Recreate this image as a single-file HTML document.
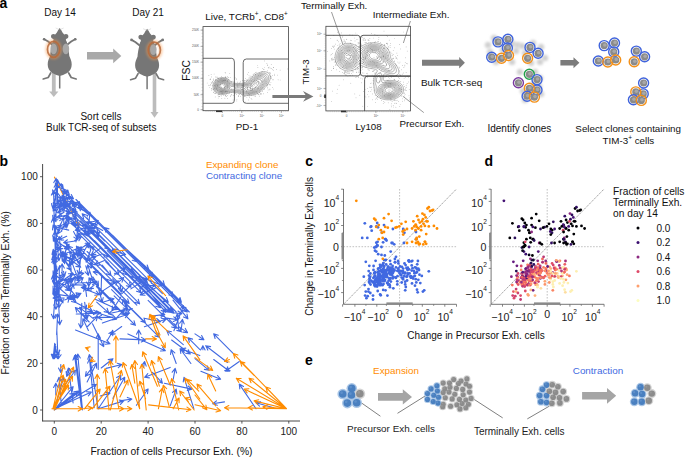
<!DOCTYPE html>
<html><head><meta charset="utf-8"><style>
html,body{margin:0;padding:0;background:#fff;}
svg{display:block;}
text{font-family:"Liberation Sans",sans-serif;}
</style></head><body>
<svg width="685" height="457" viewBox="0 0 685 457">
<defs><filter id="blur1" x="-50%" y="-50%" width="200%" height="200%"><feGaussianBlur stdDeviation="0.45"/></filter><filter id="blur2" x="-50%" y="-50%" width="200%" height="200%"><feGaussianBlur stdDeviation="1.1"/></filter></defs>
<rect width="685" height="457" fill="#fff"/>
<text x="-0.6" y="7.9" font-size="14" text-anchor="start" fill="#000" font-weight="bold">a</text>
<text x="60" y="16" font-size="10" text-anchor="middle" fill="#111">Day 14</text>
<text x="148" y="16" font-size="10" text-anchor="middle" fill="#111">Day 21</text>
<polygon points="51.9,57.0 51.9,91.5 49.2,91.5 53.8,97.0 58.4,91.5 55.7,91.5 55.7,57.0" fill="#b0b0b0" opacity="0.85"/>
<polygon points="152.7,58.0 152.7,112.0 150.5,112.0 154.5,117.8 158.5,112.0 156.3,112.0 156.3,58.0" fill="#b0b0b0" opacity="0.85"/>
<g transform="translate(59.7,28)"><path d="M-6.5,17.5 L-11.5,13.5 L-15.5,11.2 M6.5,17.5 L11.5,13.5 L15.5,11.2" stroke="#767676" stroke-width="1.9" fill="none" stroke-linecap="round"/><circle cx="-15.6" cy="11.2" r="1.3" fill="#767676"/><circle cx="15.6" cy="11.2" r="1.3" fill="#767676"/><path d="M-9,45 L-11.5,49.5 L-16.5,51 M9,45 L11.5,49.5 L16.5,51" stroke="#767676" stroke-width="1.7" fill="none" stroke-linecap="round" stroke-linejoin="round"/><path d="M0,46 L0,60.5" stroke="#767676" stroke-width="1.5"/><path d="M0,0 C1.2,1.5 2.2,3 2.8,4.5 L4.5,6.6 C6,5.6 8.6,6 8.7,8.2 C8.8,10.2 7.2,10.8 6.2,11 L6.3,12.5 C7.3,14 7.6,15 7.6,16.5 C8.6,20 9.3,24 9.6,28 C10.8,31 12,33 12,36.5 C12,40 10.5,43 7.5,45 C4.5,46.5 2,47.5 0,48 C-2,47.5 -4.5,46.5 -7.5,45 C-10.5,43 -12,40 -12,36.5 C-12,33 -10.8,31 -9.6,28 C-9.3,24 -8.6,20 -7.6,16.5 C-7.6,15 -7.3,14 -6.3,12.5 L-6.2,11 C-7.2,10.8 -8.8,10.2 -8.7,8.2 C-8.6,6 -6,5.6 -4.5,6.6 L-2.8,4.5 C-2.2,3 -1.2,1.5 0,0 Z" fill="#767676"/><path d="M-0.5,1.5 L-4,0 M0.5,1.5 L4,0" stroke="#c8c8c8" stroke-width="0.5"/><ellipse cx="-6" cy="20.9" rx="3.3" ry="5.4" fill="#a8a8a8"/><ellipse cx="6.2" cy="20.9" rx="3.3" ry="5.4" fill="#a8a8a8"/><ellipse cx="-6.1" cy="21.4" rx="6.6" ry="8.4" fill="none" stroke="#f59a50" stroke-width="3.6" opacity="0.45" filter="url(#blur2)"/><ellipse cx="-6.1" cy="21.4" rx="6.1" ry="8.0" fill="none" stroke="#b8693a" stroke-width="1.7" opacity="0.85" filter="url(#blur1)"/></g>
<g transform="translate(147.1,28.7)"><path d="M-6.5,17.5 L-11.5,13.5 L-15.5,11.2 M6.5,17.5 L11.5,13.5 L15.5,11.2" stroke="#767676" stroke-width="1.9" fill="none" stroke-linecap="round"/><circle cx="-15.6" cy="11.2" r="1.3" fill="#767676"/><circle cx="15.6" cy="11.2" r="1.3" fill="#767676"/><path d="M-9,45 L-11.5,49.5 L-16.5,51 M9,45 L11.5,49.5 L16.5,51" stroke="#767676" stroke-width="1.7" fill="none" stroke-linecap="round" stroke-linejoin="round"/><path d="M0,46 L0,60.5" stroke="#767676" stroke-width="1.5"/><path d="M0,0 C1.2,1.5 2.2,3 2.8,4.5 L4.5,6.6 C6,5.6 8.6,6 8.7,8.2 C8.8,10.2 7.2,10.8 6.2,11 L6.3,12.5 C7.3,14 7.6,15 7.6,16.5 C8.6,20 9.3,24 9.6,28 C10.8,31 12,33 12,36.5 C12,40 10.5,43 7.5,45 C4.5,46.5 2,47.5 0,48 C-2,47.5 -4.5,46.5 -7.5,45 C-10.5,43 -12,40 -12,36.5 C-12,33 -10.8,31 -9.6,28 C-9.3,24 -8.6,20 -7.6,16.5 C-7.6,15 -7.3,14 -6.3,12.5 L-6.2,11 C-7.2,10.8 -8.8,10.2 -8.7,8.2 C-8.6,6 -6,5.6 -4.5,6.6 L-2.8,4.5 C-2.2,3 -1.2,1.5 0,0 Z" fill="#767676"/><path d="M-0.5,1.5 L-4,0 M0.5,1.5 L4,0" stroke="#c8c8c8" stroke-width="0.5"/><ellipse cx="6.2" cy="20.9" rx="3.3" ry="5.4" fill="#a8a8a8"/><ellipse cx="7.2" cy="21.4" rx="6.6" ry="8.4" fill="none" stroke="#f59a50" stroke-width="3.6" opacity="0.45" filter="url(#blur2)"/><ellipse cx="7.2" cy="21.4" rx="6.1" ry="8.0" fill="none" stroke="#b8693a" stroke-width="1.7" opacity="0.85" filter="url(#blur1)"/></g>
<polygon points="87.0,52.1 113.2,52.1 113.2,48.5 121.3,55.9 113.2,63.2 113.2,59.6 87.0,59.6" fill="#a9a9a9"/>
<text x="101" y="119.6" font-size="10" text-anchor="middle" fill="#111">Sort cells</text>
<text x="101.2" y="130.9" font-size="10" text-anchor="middle" fill="#111">Bulk TCR-seq of subsets</text>
<rect x="203" y="26.6" width="85.5" height="84.1" fill="none" stroke="#444" stroke-width="0.8"/>
<text x="246.5" y="19.6" font-size="9.95" text-anchor="middle" fill="#111">Live, TCRb<tspan font-size="6.5" dy="-3.5">+</tspan><tspan dy="3.5">, CD8</tspan><tspan font-size="6.3" dy="-3.6">+</tspan></text>
<text x="189.6" y="70.4" font-size="10.4" text-anchor="middle" fill="#111" transform="rotate(-90 189.6 70.4)">FSC</text>
<text x="247" y="129.5" font-size="9.8" text-anchor="middle" fill="#111">PD-1</text>
<text x="199" y="31.1" font-size="3" text-anchor="end" fill="#555">250K</text>
<line x1="200.5" y1="30.1" x2="203" y2="30.1" stroke="#666" stroke-width="0.5"/>
<text x="199" y="47.4" font-size="3" text-anchor="end" fill="#555">200K</text>
<line x1="200.5" y1="46.4" x2="203" y2="46.4" stroke="#666" stroke-width="0.5"/>
<text x="199" y="63.2" font-size="3" text-anchor="end" fill="#555">150K</text>
<line x1="200.5" y1="62.2" x2="203" y2="62.2" stroke="#666" stroke-width="0.5"/>
<text x="199" y="79.3" font-size="3" text-anchor="end" fill="#555">100K</text>
<line x1="200.5" y1="78.3" x2="203" y2="78.3" stroke="#666" stroke-width="0.5"/>
<text x="199" y="95.7" font-size="3" text-anchor="end" fill="#555">50K</text>
<line x1="200.5" y1="94.7" x2="203" y2="94.7" stroke="#666" stroke-width="0.5"/>
<text x="199" y="110.7" font-size="3" text-anchor="end" fill="#555">0</text>
<line x1="200.5" y1="109.7" x2="203" y2="109.7" stroke="#666" stroke-width="0.5"/>
<line x1="201.5" y1="30.1" x2="203" y2="30.1" stroke="#888" stroke-width="0.3"/>
<line x1="201.5" y1="33.3" x2="203" y2="33.3" stroke="#888" stroke-width="0.3"/>
<line x1="201.5" y1="36.5" x2="203" y2="36.5" stroke="#888" stroke-width="0.3"/>
<line x1="201.5" y1="39.7" x2="203" y2="39.7" stroke="#888" stroke-width="0.3"/>
<line x1="201.5" y1="42.8" x2="203" y2="42.8" stroke="#888" stroke-width="0.3"/>
<line x1="201.5" y1="46.0" x2="203" y2="46.0" stroke="#888" stroke-width="0.3"/>
<line x1="201.5" y1="49.2" x2="203" y2="49.2" stroke="#888" stroke-width="0.3"/>
<line x1="201.5" y1="52.4" x2="203" y2="52.4" stroke="#888" stroke-width="0.3"/>
<line x1="201.5" y1="55.6" x2="203" y2="55.6" stroke="#888" stroke-width="0.3"/>
<line x1="201.5" y1="58.8" x2="203" y2="58.8" stroke="#888" stroke-width="0.3"/>
<line x1="201.5" y1="61.9" x2="203" y2="61.9" stroke="#888" stroke-width="0.3"/>
<line x1="201.5" y1="65.1" x2="203" y2="65.1" stroke="#888" stroke-width="0.3"/>
<line x1="201.5" y1="68.3" x2="203" y2="68.3" stroke="#888" stroke-width="0.3"/>
<line x1="201.5" y1="71.5" x2="203" y2="71.5" stroke="#888" stroke-width="0.3"/>
<line x1="201.5" y1="74.7" x2="203" y2="74.7" stroke="#888" stroke-width="0.3"/>
<line x1="201.5" y1="77.9" x2="203" y2="77.9" stroke="#888" stroke-width="0.3"/>
<line x1="201.5" y1="81.0" x2="203" y2="81.0" stroke="#888" stroke-width="0.3"/>
<line x1="201.5" y1="84.2" x2="203" y2="84.2" stroke="#888" stroke-width="0.3"/>
<line x1="201.5" y1="87.4" x2="203" y2="87.4" stroke="#888" stroke-width="0.3"/>
<line x1="201.5" y1="90.6" x2="203" y2="90.6" stroke="#888" stroke-width="0.3"/>
<line x1="201.5" y1="93.8" x2="203" y2="93.8" stroke="#888" stroke-width="0.3"/>
<line x1="201.5" y1="97.0" x2="203" y2="97.0" stroke="#888" stroke-width="0.3"/>
<line x1="201.5" y1="100.1" x2="203" y2="100.1" stroke="#888" stroke-width="0.3"/>
<line x1="201.5" y1="103.3" x2="203" y2="103.3" stroke="#888" stroke-width="0.3"/>
<line x1="201.5" y1="106.5" x2="203" y2="106.5" stroke="#888" stroke-width="0.3"/>
<line x1="201.5" y1="109.7" x2="203" y2="109.7" stroke="#888" stroke-width="0.3"/>
<text x="222.4" y="117" font-size="3" text-anchor="middle" fill="#555">0</text>
<line x1="222.4" y1="110.7" x2="222.4" y2="113" stroke="#666" stroke-width="0.5"/>
<text x="241.8" y="117" font-size="3" text-anchor="middle" fill="#555">10<tspan font-size="2" dy="-1">3</tspan></text>
<line x1="241.8" y1="110.7" x2="241.8" y2="113" stroke="#666" stroke-width="0.5"/>
<text x="261.9" y="117" font-size="3" text-anchor="middle" fill="#555">10<tspan font-size="2" dy="-1">4</tspan></text>
<line x1="261.9" y1="110.7" x2="261.9" y2="113" stroke="#666" stroke-width="0.5"/>
<text x="281.3" y="117" font-size="3" text-anchor="middle" fill="#555">10<tspan font-size="2" dy="-1">5</tspan></text>
<line x1="281.3" y1="110.7" x2="281.3" y2="113" stroke="#666" stroke-width="0.5"/>
<line x1="206.0" y1="110.7" x2="206.0" y2="112" stroke="#888" stroke-width="0.3"/>
<line x1="208.1" y1="110.7" x2="208.1" y2="112" stroke="#888" stroke-width="0.3"/>
<line x1="210.2" y1="110.7" x2="210.2" y2="112" stroke="#888" stroke-width="0.3"/>
<line x1="212.3" y1="110.7" x2="212.3" y2="112" stroke="#888" stroke-width="0.3"/>
<line x1="214.4" y1="110.7" x2="214.4" y2="112" stroke="#888" stroke-width="0.3"/>
<line x1="216.5" y1="110.7" x2="216.5" y2="112" stroke="#888" stroke-width="0.3"/>
<line x1="218.6" y1="110.7" x2="218.6" y2="112" stroke="#888" stroke-width="0.3"/>
<line x1="220.7" y1="110.7" x2="220.7" y2="112" stroke="#888" stroke-width="0.3"/>
<line x1="222.8" y1="110.7" x2="222.8" y2="112" stroke="#888" stroke-width="0.3"/>
<line x1="224.9" y1="110.7" x2="224.9" y2="112" stroke="#888" stroke-width="0.3"/>
<line x1="227.0" y1="110.7" x2="227.0" y2="112" stroke="#888" stroke-width="0.3"/>
<line x1="229.1" y1="110.7" x2="229.1" y2="112" stroke="#888" stroke-width="0.3"/>
<line x1="231.2" y1="110.7" x2="231.2" y2="112" stroke="#888" stroke-width="0.3"/>
<line x1="233.3" y1="110.7" x2="233.3" y2="112" stroke="#888" stroke-width="0.3"/>
<line x1="235.4" y1="110.7" x2="235.4" y2="112" stroke="#888" stroke-width="0.3"/>
<line x1="237.5" y1="110.7" x2="237.5" y2="112" stroke="#888" stroke-width="0.3"/>
<line x1="239.6" y1="110.7" x2="239.6" y2="112" stroke="#888" stroke-width="0.3"/>
<line x1="241.7" y1="110.7" x2="241.7" y2="112" stroke="#888" stroke-width="0.3"/>
<line x1="243.8" y1="110.7" x2="243.8" y2="112" stroke="#888" stroke-width="0.3"/>
<line x1="245.9" y1="110.7" x2="245.9" y2="112" stroke="#888" stroke-width="0.3"/>
<line x1="248.0" y1="110.7" x2="248.0" y2="112" stroke="#888" stroke-width="0.3"/>
<line x1="250.1" y1="110.7" x2="250.1" y2="112" stroke="#888" stroke-width="0.3"/>
<line x1="252.2" y1="110.7" x2="252.2" y2="112" stroke="#888" stroke-width="0.3"/>
<line x1="254.3" y1="110.7" x2="254.3" y2="112" stroke="#888" stroke-width="0.3"/>
<line x1="256.4" y1="110.7" x2="256.4" y2="112" stroke="#888" stroke-width="0.3"/>
<line x1="258.5" y1="110.7" x2="258.5" y2="112" stroke="#888" stroke-width="0.3"/>
<line x1="260.6" y1="110.7" x2="260.6" y2="112" stroke="#888" stroke-width="0.3"/>
<line x1="262.7" y1="110.7" x2="262.7" y2="112" stroke="#888" stroke-width="0.3"/>
<line x1="264.8" y1="110.7" x2="264.8" y2="112" stroke="#888" stroke-width="0.3"/>
<line x1="266.9" y1="110.7" x2="266.9" y2="112" stroke="#888" stroke-width="0.3"/>
<line x1="269.0" y1="110.7" x2="269.0" y2="112" stroke="#888" stroke-width="0.3"/>
<line x1="271.1" y1="110.7" x2="271.1" y2="112" stroke="#888" stroke-width="0.3"/>
<line x1="273.2" y1="110.7" x2="273.2" y2="112" stroke="#888" stroke-width="0.3"/>
<line x1="275.3" y1="110.7" x2="275.3" y2="112" stroke="#888" stroke-width="0.3"/>
<line x1="277.4" y1="110.7" x2="277.4" y2="112" stroke="#888" stroke-width="0.3"/>
<line x1="279.5" y1="110.7" x2="279.5" y2="112" stroke="#888" stroke-width="0.3"/>
<line x1="281.6" y1="110.7" x2="281.6" y2="112" stroke="#888" stroke-width="0.3"/>
<line x1="283.7" y1="110.7" x2="283.7" y2="112" stroke="#888" stroke-width="0.3"/>
<line x1="285.8" y1="110.7" x2="285.8" y2="112" stroke="#888" stroke-width="0.3"/>
<line x1="287.9" y1="110.7" x2="287.9" y2="112" stroke="#888" stroke-width="0.3"/>
<rect x="216" y="110.5" width="6" height="1.6" fill="#333"/>
<circle cx="233.4" cy="82.5" r="0.33" fill="#777"/><circle cx="229.2" cy="87.0" r="0.33" fill="#777"/><circle cx="221.0" cy="78.6" r="0.33" fill="#777"/><circle cx="263.9" cy="69.3" r="0.33" fill="#777"/><circle cx="262.4" cy="87.2" r="0.33" fill="#777"/><circle cx="250.8" cy="76.1" r="0.33" fill="#777"/><circle cx="225.7" cy="91.7" r="0.33" fill="#777"/><circle cx="255.8" cy="72.6" r="0.33" fill="#777"/><circle cx="251.8" cy="86.1" r="0.33" fill="#777"/><circle cx="218.2" cy="98.0" r="0.33" fill="#777"/><circle cx="258.4" cy="94.7" r="0.33" fill="#777"/><circle cx="268.1" cy="73.0" r="0.33" fill="#777"/><circle cx="217.8" cy="77.9" r="0.33" fill="#777"/><circle cx="226.6" cy="93.9" r="0.33" fill="#777"/><circle cx="236.8" cy="101.0" r="0.33" fill="#777"/><circle cx="240.5" cy="93.7" r="0.33" fill="#777"/><circle cx="227.4" cy="81.2" r="0.33" fill="#777"/><circle cx="227.9" cy="82.1" r="0.33" fill="#777"/><circle cx="249.1" cy="96.1" r="0.33" fill="#777"/><circle cx="222.4" cy="83.8" r="0.33" fill="#777"/><circle cx="211.4" cy="76.9" r="0.33" fill="#777"/><circle cx="218.2" cy="94.5" r="0.33" fill="#777"/><circle cx="277.3" cy="75.1" r="0.33" fill="#777"/><circle cx="225.1" cy="72.3" r="0.33" fill="#777"/><circle cx="231.9" cy="95.0" r="0.33" fill="#777"/><circle cx="243.5" cy="80.9" r="0.33" fill="#777"/><circle cx="234.5" cy="87.8" r="0.33" fill="#777"/><circle cx="267.6" cy="64.9" r="0.33" fill="#777"/><circle cx="280.1" cy="70.1" r="0.33" fill="#777"/><circle cx="251.6" cy="83.8" r="0.33" fill="#777"/><circle cx="251.7" cy="80.7" r="0.33" fill="#777"/><circle cx="221.2" cy="88.2" r="0.33" fill="#777"/><circle cx="218.6" cy="78.2" r="0.33" fill="#777"/><circle cx="236.6" cy="94.4" r="0.33" fill="#777"/><circle cx="214.9" cy="91.0" r="0.33" fill="#777"/><circle cx="258.4" cy="75.3" r="0.33" fill="#777"/><circle cx="238.7" cy="95.3" r="0.33" fill="#777"/><circle cx="249.0" cy="75.5" r="0.33" fill="#777"/><circle cx="267.3" cy="70.8" r="0.33" fill="#777"/><circle cx="253.1" cy="74.3" r="0.33" fill="#777"/><circle cx="209.5" cy="85.5" r="0.33" fill="#777"/><circle cx="225.5" cy="95.7" r="0.33" fill="#777"/><circle cx="248.6" cy="78.0" r="0.33" fill="#777"/><circle cx="225.2" cy="76.7" r="0.33" fill="#777"/><circle cx="224.9" cy="98.2" r="0.33" fill="#777"/><circle cx="257.9" cy="81.3" r="0.33" fill="#777"/><circle cx="229.3" cy="88.2" r="0.33" fill="#777"/><circle cx="256.5" cy="91.6" r="0.33" fill="#777"/><circle cx="252.4" cy="89.8" r="0.33" fill="#777"/><circle cx="217.2" cy="90.2" r="0.33" fill="#777"/><circle cx="219.4" cy="87.7" r="0.33" fill="#777"/><circle cx="255.1" cy="79.8" r="0.33" fill="#777"/><circle cx="231.7" cy="81.4" r="0.33" fill="#777"/><circle cx="236.9" cy="99.8" r="0.33" fill="#777"/><circle cx="244.5" cy="81.0" r="0.33" fill="#777"/><circle cx="261.0" cy="94.2" r="0.33" fill="#777"/><circle cx="221.5" cy="87.6" r="0.33" fill="#777"/><circle cx="263.6" cy="81.0" r="0.33" fill="#777"/><circle cx="269.2" cy="67.0" r="0.33" fill="#777"/><circle cx="240.0" cy="82.7" r="0.33" fill="#777"/><circle cx="251.9" cy="99.5" r="0.33" fill="#777"/><circle cx="252.8" cy="91.0" r="0.33" fill="#777"/><circle cx="252.7" cy="88.8" r="0.33" fill="#777"/><circle cx="270.1" cy="84.9" r="0.33" fill="#777"/><circle cx="215.4" cy="92.9" r="0.33" fill="#777"/><circle cx="260.9" cy="94.1" r="0.33" fill="#777"/><circle cx="262.8" cy="68.3" r="0.33" fill="#777"/><circle cx="245.0" cy="84.6" r="0.33" fill="#777"/><circle cx="249.6" cy="77.1" r="0.33" fill="#777"/><circle cx="248.5" cy="72.3" r="0.33" fill="#777"/><circle cx="257.9" cy="67.7" r="0.33" fill="#777"/><circle cx="241.5" cy="87.2" r="0.33" fill="#777"/><circle cx="211.1" cy="74.3" r="0.33" fill="#777"/><circle cx="247.6" cy="84.9" r="0.33" fill="#777"/><circle cx="250.9" cy="85.2" r="0.33" fill="#777"/><circle cx="209.3" cy="87.5" r="0.33" fill="#777"/><circle cx="246.3" cy="81.2" r="0.33" fill="#777"/><circle cx="208.9" cy="75.7" r="0.33" fill="#777"/><circle cx="250.1" cy="87.4" r="0.33" fill="#777"/><circle cx="210.8" cy="85.5" r="0.33" fill="#777"/><circle cx="221.8" cy="86.1" r="0.33" fill="#777"/><circle cx="271.2" cy="64.4" r="0.33" fill="#777"/><circle cx="219.8" cy="84.1" r="0.33" fill="#777"/><circle cx="244.5" cy="83.5" r="0.33" fill="#777"/><circle cx="212.3" cy="81.9" r="0.33" fill="#777"/><circle cx="217.8" cy="85.6" r="0.33" fill="#777"/><circle cx="221.2" cy="83.5" r="0.33" fill="#777"/><circle cx="255.3" cy="96.7" r="0.33" fill="#777"/><circle cx="256.5" cy="83.3" r="0.33" fill="#777"/><circle cx="246.8" cy="91.7" r="0.33" fill="#777"/><circle cx="227.6" cy="93.0" r="0.33" fill="#777"/><circle cx="219.8" cy="94.5" r="0.33" fill="#777"/><circle cx="217.2" cy="77.0" r="0.33" fill="#777"/><circle cx="258.9" cy="81.7" r="0.33" fill="#777"/><circle cx="215.2" cy="96.9" r="0.33" fill="#777"/><circle cx="240.5" cy="88.7" r="0.33" fill="#777"/><circle cx="247.0" cy="80.6" r="0.33" fill="#777"/><circle cx="272.8" cy="69.4" r="0.33" fill="#777"/><circle cx="238.8" cy="93.8" r="0.33" fill="#777"/><circle cx="234.8" cy="82.7" r="0.33" fill="#777"/><circle cx="249.3" cy="83.5" r="0.33" fill="#777"/><circle cx="216.2" cy="89.3" r="0.33" fill="#777"/><circle cx="255.4" cy="95.0" r="0.33" fill="#777"/><circle cx="270.9" cy="76.4" r="0.33" fill="#777"/><circle cx="214.1" cy="74.0" r="0.33" fill="#777"/><circle cx="234.1" cy="86.8" r="0.33" fill="#777"/><circle cx="217.3" cy="80.5" r="0.33" fill="#777"/><circle cx="225.5" cy="80.6" r="0.33" fill="#777"/><circle cx="233.4" cy="95.3" r="0.33" fill="#777"/><circle cx="215.5" cy="93.6" r="0.33" fill="#777"/><circle cx="237.6" cy="86.8" r="0.33" fill="#777"/><circle cx="241.6" cy="85.0" r="0.33" fill="#777"/><circle cx="226.8" cy="91.2" r="0.33" fill="#777"/><circle cx="228.8" cy="79.7" r="0.33" fill="#777"/><circle cx="240.1" cy="109.0" r="0.33" fill="#777"/><circle cx="212.5" cy="85.5" r="0.33" fill="#777"/><circle cx="215.7" cy="79.5" r="0.33" fill="#777"/><circle cx="262.5" cy="81.0" r="0.33" fill="#777"/><circle cx="258.9" cy="94.7" r="0.33" fill="#777"/><circle cx="260.5" cy="75.6" r="0.33" fill="#777"/><circle cx="225.2" cy="95.7" r="0.33" fill="#777"/><circle cx="268.1" cy="89.9" r="0.33" fill="#777"/><circle cx="270.5" cy="73.5" r="0.33" fill="#777"/><circle cx="259.7" cy="96.1" r="0.33" fill="#777"/><circle cx="216.9" cy="81.0" r="0.33" fill="#777"/><circle cx="244.8" cy="82.1" r="0.33" fill="#777"/><circle cx="211.5" cy="88.7" r="0.33" fill="#777"/><circle cx="214.6" cy="88.6" r="0.33" fill="#777"/><circle cx="253.9" cy="95.0" r="0.33" fill="#777"/><circle cx="231.9" cy="86.4" r="0.33" fill="#777"/><circle cx="267.7" cy="85.4" r="0.33" fill="#777"/><circle cx="241.8" cy="89.2" r="0.33" fill="#777"/><circle cx="226.5" cy="96.7" r="0.33" fill="#777"/><circle cx="251.5" cy="90.6" r="0.33" fill="#777"/><circle cx="212.1" cy="82.8" r="0.33" fill="#777"/><circle cx="252.0" cy="76.2" r="0.33" fill="#777"/><circle cx="221.3" cy="76.7" r="0.33" fill="#777"/><circle cx="270.9" cy="82.5" r="0.33" fill="#777"/><circle cx="247.2" cy="95.3" r="0.33" fill="#777"/><circle cx="264.3" cy="67.5" r="0.33" fill="#777"/><circle cx="239.6" cy="94.0" r="0.33" fill="#777"/><circle cx="225.9" cy="91.4" r="0.33" fill="#777"/><circle cx="270.0" cy="84.8" r="0.33" fill="#777"/><circle cx="216.4" cy="88.6" r="0.33" fill="#777"/><circle cx="207.2" cy="83.0" r="0.33" fill="#777"/><circle cx="262.8" cy="84.7" r="0.33" fill="#777"/><circle cx="214.8" cy="93.4" r="0.33" fill="#777"/><circle cx="245.1" cy="80.6" r="0.33" fill="#777"/><circle cx="259.2" cy="73.2" r="0.33" fill="#777"/><circle cx="218.5" cy="94.4" r="0.33" fill="#777"/><circle cx="220.3" cy="91.2" r="0.33" fill="#777"/><circle cx="245.5" cy="78.3" r="0.33" fill="#777"/><circle cx="270.5" cy="76.2" r="0.33" fill="#777"/><circle cx="213.0" cy="89.2" r="0.33" fill="#777"/><circle cx="255.4" cy="87.7" r="0.33" fill="#777"/><circle cx="218.9" cy="81.3" r="0.33" fill="#777"/><circle cx="242.0" cy="89.9" r="0.33" fill="#777"/><circle cx="227.5" cy="95.6" r="0.33" fill="#777"/><circle cx="254.1" cy="92.0" r="0.33" fill="#777"/><circle cx="227.6" cy="98.3" r="0.33" fill="#777"/><circle cx="238.5" cy="96.5" r="0.33" fill="#777"/><circle cx="239.2" cy="94.7" r="0.33" fill="#777"/><circle cx="217.0" cy="84.7" r="0.33" fill="#777"/><circle cx="211.9" cy="88.8" r="0.33" fill="#777"/><circle cx="257.7" cy="93.1" r="0.33" fill="#777"/><circle cx="237.5" cy="84.9" r="0.33" fill="#777"/><circle cx="213.6" cy="92.7" r="0.33" fill="#777"/><circle cx="269.5" cy="72.7" r="0.33" fill="#777"/><circle cx="273.7" cy="67.7" r="0.33" fill="#777"/><circle cx="230.3" cy="96.7" r="0.33" fill="#777"/><circle cx="220.6" cy="88.0" r="0.33" fill="#777"/><circle cx="254.4" cy="81.0" r="0.33" fill="#777"/><circle cx="225.4" cy="77.6" r="0.33" fill="#777"/><circle cx="226.5" cy="77.9" r="0.33" fill="#777"/><circle cx="213.9" cy="89.6" r="0.33" fill="#777"/><circle cx="239.2" cy="83.5" r="0.33" fill="#777"/><circle cx="254.2" cy="96.0" r="0.33" fill="#777"/><circle cx="231.3" cy="89.5" r="0.33" fill="#777"/><circle cx="242.4" cy="80.6" r="0.33" fill="#777"/><circle cx="249.2" cy="87.6" r="0.33" fill="#777"/><circle cx="213.4" cy="80.7" r="0.33" fill="#777"/><circle cx="224.6" cy="87.3" r="0.33" fill="#777"/><circle cx="227.3" cy="85.9" r="0.33" fill="#777"/><circle cx="242.3" cy="85.8" r="0.33" fill="#777"/><circle cx="246.3" cy="79.9" r="0.33" fill="#777"/><circle cx="278.1" cy="79.8" r="0.33" fill="#777"/><circle cx="255.8" cy="87.7" r="0.33" fill="#777"/><circle cx="246.4" cy="84.0" r="0.33" fill="#777"/><circle cx="228.8" cy="93.8" r="0.33" fill="#777"/><circle cx="263.4" cy="93.8" r="0.33" fill="#777"/><circle cx="215.9" cy="79.2" r="0.33" fill="#777"/><circle cx="222.1" cy="93.3" r="0.33" fill="#777"/><circle cx="259.5" cy="90.9" r="0.33" fill="#777"/><circle cx="273.2" cy="70.3" r="0.33" fill="#777"/><circle cx="244.9" cy="96.4" r="0.33" fill="#777"/><circle cx="227.3" cy="80.6" r="0.33" fill="#777"/><circle cx="262.3" cy="91.7" r="0.33" fill="#777"/><circle cx="270.1" cy="68.1" r="0.33" fill="#777"/><circle cx="216.2" cy="77.1" r="0.33" fill="#777"/><circle cx="245.8" cy="102.0" r="0.33" fill="#777"/><circle cx="261.9" cy="88.6" r="0.33" fill="#777"/><circle cx="252.9" cy="81.1" r="0.33" fill="#777"/><circle cx="211.2" cy="82.5" r="0.33" fill="#777"/><circle cx="250.9" cy="84.2" r="0.33" fill="#777"/><circle cx="276.4" cy="69.3" r="0.33" fill="#777"/><circle cx="213.2" cy="79.5" r="0.33" fill="#777"/><circle cx="225.4" cy="73.0" r="0.33" fill="#777"/><circle cx="225.4" cy="86.3" r="0.33" fill="#777"/><circle cx="222.1" cy="92.0" r="0.33" fill="#777"/><circle cx="238.5" cy="96.2" r="0.33" fill="#777"/><circle cx="213.6" cy="92.0" r="0.33" fill="#777"/><circle cx="242.4" cy="87.8" r="0.33" fill="#777"/><circle cx="271.4" cy="68.3" r="0.33" fill="#777"/><circle cx="228.6" cy="77.5" r="0.33" fill="#777"/><circle cx="225.7" cy="77.3" r="0.33" fill="#777"/><circle cx="242.7" cy="89.7" r="0.33" fill="#777"/><circle cx="219.5" cy="96.6" r="0.33" fill="#777"/><circle cx="226.2" cy="83.8" r="0.33" fill="#777"/><circle cx="250.4" cy="89.0" r="0.33" fill="#777"/><circle cx="247.1" cy="87.9" r="0.33" fill="#777"/><circle cx="267.5" cy="92.6" r="0.33" fill="#777"/><circle cx="233.1" cy="99.9" r="0.33" fill="#777"/><circle cx="230.0" cy="83.2" r="0.33" fill="#777"/><circle cx="213.2" cy="89.9" r="0.33" fill="#777"/><circle cx="211.7" cy="83.2" r="0.33" fill="#777"/><circle cx="224.8" cy="84.0" r="0.33" fill="#777"/><circle cx="220.3" cy="84.7" r="0.33" fill="#777"/><circle cx="235.6" cy="90.0" r="0.33" fill="#777"/><circle cx="210.4" cy="78.9" r="0.33" fill="#777"/><circle cx="262.7" cy="81.9" r="0.33" fill="#777"/><circle cx="213.7" cy="78.9" r="0.33" fill="#777"/><circle cx="268.6" cy="67.8" r="0.33" fill="#777"/><circle cx="215.3" cy="80.7" r="0.33" fill="#777"/><circle cx="244.2" cy="88.6" r="0.33" fill="#777"/><circle cx="269.8" cy="75.1" r="0.33" fill="#777"/><circle cx="259.7" cy="92.4" r="0.33" fill="#777"/><circle cx="264.2" cy="72.0" r="0.33" fill="#777"/><circle cx="255.3" cy="74.8" r="0.33" fill="#777"/><circle cx="272.3" cy="75.3" r="0.33" fill="#777"/><circle cx="264.4" cy="60.9" r="0.33" fill="#777"/><circle cx="248.7" cy="99.9" r="0.33" fill="#777"/><circle cx="242.9" cy="85.2" r="0.33" fill="#777"/><circle cx="241.5" cy="94.3" r="0.33" fill="#777"/><circle cx="218.0" cy="78.5" r="0.33" fill="#777"/><circle cx="272.4" cy="79.8" r="0.33" fill="#777"/><circle cx="212.7" cy="81.6" r="0.33" fill="#777"/><circle cx="269.5" cy="84.7" r="0.33" fill="#777"/><circle cx="230.2" cy="77.3" r="0.33" fill="#777"/><circle cx="218.3" cy="96.5" r="0.33" fill="#777"/><circle cx="270.2" cy="72.9" r="0.33" fill="#777"/><circle cx="221.0" cy="95.1" r="0.33" fill="#777"/><circle cx="232.8" cy="81.2" r="0.33" fill="#777"/><circle cx="258.9" cy="82.0" r="0.33" fill="#777"/><circle cx="253.3" cy="81.4" r="0.33" fill="#777"/><circle cx="272.3" cy="87.3" r="0.33" fill="#777"/><circle cx="215.5" cy="82.1" r="0.33" fill="#777"/><circle cx="268.2" cy="67.8" r="0.33" fill="#777"/><circle cx="219.6" cy="94.1" r="0.33" fill="#777"/><circle cx="240.3" cy="81.2" r="0.33" fill="#777"/><circle cx="253.0" cy="86.6" r="0.33" fill="#777"/><circle cx="210.0" cy="79.6" r="0.33" fill="#777"/><circle cx="257.7" cy="93.9" r="0.33" fill="#777"/><circle cx="211.6" cy="90.1" r="0.33" fill="#777"/><circle cx="271.6" cy="77.1" r="0.33" fill="#777"/><circle cx="252.3" cy="87.1" r="0.33" fill="#777"/><circle cx="261.4" cy="71.9" r="0.33" fill="#777"/><circle cx="231.4" cy="94.4" r="0.33" fill="#777"/><circle cx="267.6" cy="88.0" r="0.33" fill="#777"/><circle cx="254.6" cy="73.3" r="0.33" fill="#777"/><circle cx="270.5" cy="78.1" r="0.33" fill="#777"/><circle cx="256.2" cy="80.7" r="0.33" fill="#777"/><circle cx="214.3" cy="91.8" r="0.33" fill="#777"/><circle cx="214.6" cy="85.3" r="0.33" fill="#777"/><circle cx="247.1" cy="87.2" r="0.33" fill="#777"/><circle cx="273.5" cy="79.8" r="0.33" fill="#777"/><circle cx="235.1" cy="77.9" r="0.33" fill="#777"/><circle cx="236.7" cy="78.8" r="0.33" fill="#777"/><circle cx="242.3" cy="88.5" r="0.33" fill="#777"/><circle cx="243.2" cy="100.9" r="0.33" fill="#777"/><circle cx="260.4" cy="87.0" r="0.33" fill="#777"/><circle cx="267.8" cy="87.1" r="0.33" fill="#777"/><circle cx="254.6" cy="85.1" r="0.33" fill="#777"/><circle cx="229.7" cy="92.5" r="0.33" fill="#777"/><circle cx="244.5" cy="82.5" r="0.33" fill="#777"/><circle cx="257.2" cy="78.7" r="0.33" fill="#777"/><circle cx="229.1" cy="91.8" r="0.33" fill="#777"/><circle cx="255.6" cy="74.3" r="0.33" fill="#777"/><circle cx="234.0" cy="81.7" r="0.33" fill="#777"/><circle cx="216.2" cy="93.2" r="0.33" fill="#777"/><circle cx="271.7" cy="78.6" r="0.33" fill="#777"/><circle cx="223.2" cy="85.6" r="0.33" fill="#777"/><circle cx="249.6" cy="97.3" r="0.33" fill="#777"/><circle cx="249.2" cy="94.4" r="0.33" fill="#777"/><circle cx="237.4" cy="82.1" r="0.33" fill="#777"/><circle cx="227.8" cy="91.7" r="0.33" fill="#777"/><circle cx="229.8" cy="93.6" r="0.33" fill="#777"/><circle cx="248.6" cy="93.4" r="0.33" fill="#777"/><circle cx="223.8" cy="95.3" r="0.33" fill="#777"/><circle cx="250.3" cy="86.7" r="0.33" fill="#777"/><circle cx="247.7" cy="74.2" r="0.33" fill="#777"/><circle cx="252.4" cy="89.6" r="0.33" fill="#777"/><circle cx="210.7" cy="79.6" r="0.33" fill="#777"/><circle cx="274.7" cy="75.6" r="0.33" fill="#777"/><circle cx="266.4" cy="85.8" r="0.33" fill="#777"/><circle cx="260.8" cy="89.3" r="0.33" fill="#777"/><circle cx="258.4" cy="88.7" r="0.33" fill="#777"/><circle cx="247.8" cy="79.7" r="0.33" fill="#777"/><circle cx="280.2" cy="80.0" r="0.33" fill="#777"/><circle cx="208.6" cy="85.2" r="0.33" fill="#777"/><circle cx="257.7" cy="88.1" r="0.33" fill="#777"/><circle cx="219.1" cy="96.3" r="0.33" fill="#777"/><circle cx="254.5" cy="80.7" r="0.33" fill="#777"/><circle cx="221.8" cy="91.6" r="0.33" fill="#777"/><circle cx="256.1" cy="84.6" r="0.33" fill="#777"/><circle cx="257.7" cy="65.5" r="0.33" fill="#777"/><circle cx="260.6" cy="93.7" r="0.33" fill="#777"/><circle cx="251.8" cy="95.6" r="0.33" fill="#777"/><circle cx="269.9" cy="89.8" r="0.33" fill="#777"/><circle cx="236.2" cy="79.3" r="0.33" fill="#777"/><circle cx="227.2" cy="76.7" r="0.33" fill="#777"/><circle cx="259.0" cy="83.2" r="0.33" fill="#777"/><circle cx="274.5" cy="74.2" r="0.33" fill="#777"/><circle cx="231.1" cy="81.7" r="0.33" fill="#777"/><circle cx="256.3" cy="92.5" r="0.33" fill="#777"/><circle cx="218.0" cy="94.9" r="0.33" fill="#777"/><circle cx="242.6" cy="95.3" r="0.33" fill="#777"/><circle cx="261.6" cy="93.5" r="0.33" fill="#777"/><circle cx="234.6" cy="94.0" r="0.33" fill="#777"/><circle cx="244.4" cy="80.3" r="0.33" fill="#777"/><circle cx="244.7" cy="96.1" r="0.33" fill="#777"/><circle cx="224.6" cy="86.9" r="0.33" fill="#777"/><circle cx="287.3" cy="68.9" r="0.33" fill="#777"/><circle cx="254.3" cy="88.4" r="0.33" fill="#777"/><circle cx="215.5" cy="76.9" r="0.33" fill="#777"/><circle cx="240.7" cy="96.2" r="0.33" fill="#777"/><circle cx="224.9" cy="80.4" r="0.33" fill="#777"/><circle cx="229.8" cy="73.6" r="0.33" fill="#777"/><circle cx="247.6" cy="87.4" r="0.33" fill="#777"/><circle cx="246.9" cy="91.2" r="0.33" fill="#777"/><circle cx="268.8" cy="82.0" r="0.33" fill="#777"/><circle cx="225.9" cy="96.1" r="0.33" fill="#777"/><circle cx="263.9" cy="69.5" r="0.33" fill="#777"/><circle cx="228.0" cy="77.6" r="0.33" fill="#777"/><circle cx="273.3" cy="89.0" r="0.33" fill="#777"/><circle cx="251.1" cy="98.3" r="0.33" fill="#777"/><circle cx="225.0" cy="78.9" r="0.33" fill="#777"/><circle cx="245.5" cy="95.9" r="0.33" fill="#777"/><circle cx="260.5" cy="80.5" r="0.33" fill="#777"/><circle cx="256.1" cy="72.2" r="0.33" fill="#777"/><circle cx="238.0" cy="87.7" r="0.33" fill="#777"/><circle cx="235.7" cy="93.5" r="0.33" fill="#777"/><circle cx="234.2" cy="93.2" r="0.33" fill="#777"/><circle cx="246.9" cy="97.1" r="0.33" fill="#777"/><circle cx="268.4" cy="83.9" r="0.33" fill="#777"/><circle cx="227.6" cy="87.5" r="0.33" fill="#777"/><circle cx="266.9" cy="63.3" r="0.33" fill="#777"/><circle cx="267.3" cy="84.6" r="0.33" fill="#777"/><circle cx="248.0" cy="80.6" r="0.33" fill="#777"/><circle cx="244.3" cy="95.4" r="0.33" fill="#777"/><circle cx="264.5" cy="89.1" r="0.33" fill="#777"/><circle cx="230.8" cy="95.5" r="0.33" fill="#777"/><circle cx="231.1" cy="92.4" r="0.33" fill="#777"/><circle cx="221.8" cy="98.4" r="0.33" fill="#777"/><circle cx="269.9" cy="89.0" r="0.33" fill="#777"/><circle cx="247.6" cy="89.6" r="0.33" fill="#777"/><circle cx="250.8" cy="88.2" r="0.33" fill="#777"/><circle cx="221.2" cy="95.9" r="0.33" fill="#777"/><circle cx="250.3" cy="90.6" r="0.33" fill="#777"/><circle cx="220.4" cy="84.1" r="0.33" fill="#777"/><circle cx="224.9" cy="88.8" r="0.33" fill="#777"/><circle cx="262.6" cy="71.3" r="0.33" fill="#777"/><circle cx="253.7" cy="74.0" r="0.33" fill="#777"/><circle cx="223.2" cy="80.7" r="0.33" fill="#777"/><circle cx="267.5" cy="65.3" r="0.33" fill="#777"/><circle cx="266.7" cy="83.8" r="0.33" fill="#777"/><circle cx="229.5" cy="83.0" r="0.33" fill="#777"/><circle cx="210.7" cy="84.4" r="0.33" fill="#777"/><circle cx="273.7" cy="67.4" r="0.33" fill="#777"/><circle cx="246.2" cy="93.0" r="0.33" fill="#777"/><circle cx="240.7" cy="92.0" r="0.33" fill="#777"/><path d="M251.1,95.4L250.6,95.4L250.1,95.5L249.6,95.5L249.1,95.5L248.6,95.5L248.1,95.5L247.6,95.5L247.1,95.4L246.6,95.4L246.4,95.3L245.9,95.3L245.4,95.2L245.1,95.1L244.6,95.0L244.2,94.9L243.9,94.8L243.4,94.6L243.1,94.5L242.7,94.4L242.4,94.3L242.0,94.1L241.6,94.0L241.3,93.9L240.9,93.7L240.6,93.6L240.1,93.5L239.8,93.4L239.4,93.3L238.9,93.2L238.6,93.1L238.1,93.0L237.6,92.9L237.2,92.9L236.9,92.8L236.4,92.8L235.9,92.7L235.4,92.7L235.1,92.6L234.6,92.6L234.1,92.5L233.6,92.5L233.1,92.4L232.6,92.4L232.2,92.4L231.9,92.4L231.4,92.4L231.1,92.4L230.6,92.4L230.1,92.5L229.6,92.6L229.4,92.7L228.9,92.9L228.6,93.0L228.2,93.1L227.9,93.3L227.6,93.4L227.1,93.6L226.9,93.6L226.4,93.8L226.1,93.9L225.6,94.1L225.3,94.1L224.9,94.2L224.4,94.3L224.0,94.4L223.6,94.4L223.1,94.5L222.6,94.5L222.1,94.5L221.6,94.4L221.1,94.4L220.9,94.3L220.4,94.3L219.9,94.1L219.6,94.1L219.1,93.9L218.9,93.8L218.4,93.6L218.1,93.5L217.8,93.4L217.4,93.1L217.1,93.0L216.9,92.8L216.6,92.6L216.2,92.4L215.9,92.1L215.6,91.9L215.4,91.6L215.1,91.4L214.9,91.1L214.7,90.9L214.5,90.6L214.3,90.4L214.1,90.0L213.9,89.6L213.8,89.4L213.6,89.1L213.4,88.6L213.4,88.4L213.2,87.9L213.1,87.5L213.1,87.1L213.0,86.6L213.0,86.1L213.0,85.6L213.0,85.1L213.1,84.6L213.2,84.4L213.3,83.9L213.4,83.6L213.5,83.1L213.6,82.9L213.9,82.4L214.0,82.1L214.2,81.9L214.4,81.6L214.6,81.2L214.9,80.9L215.1,80.6L215.4,80.4L215.6,80.1L215.9,79.9L216.1,79.7L216.4,79.5L216.6,79.3L216.9,79.1L217.4,78.9L217.6,78.7L217.9,78.6L218.4,78.4L218.6,78.3L219.0,78.1L219.4,78.0L219.8,77.9L220.1,77.8L220.6,77.7L221.1,77.6L221.4,77.6L221.9,77.5L222.4,77.5L222.9,77.5L223.4,77.6L223.9,77.6L224.1,77.7L224.6,77.7L225.1,77.9L225.4,77.9L225.9,78.1L226.1,78.2L226.6,78.4L226.9,78.5L227.2,78.6L227.6,78.9L227.9,79.0L228.1,79.2L228.4,79.4L228.8,79.6L229.1,79.9L229.4,80.1L229.6,80.4L229.9,80.6L230.1,80.9L230.4,81.1L230.6,81.4L230.8,81.6L231.0,81.9L231.3,82.1L231.5,82.4L231.8,82.6L232.1,82.9L232.4,83.0L232.7,83.1L233.1,83.3L233.6,83.3L234.0,83.4L234.4,83.4L234.9,83.4L235.4,83.4L235.9,83.4L236.4,83.4L236.9,83.4L237.4,83.4L237.9,83.4L238.4,83.4L238.9,83.4L239.4,83.4L239.9,83.4L240.4,83.4L240.9,83.4L241.4,83.4L241.7,83.4L242.1,83.3L242.6,83.3L243.1,83.2L243.5,83.1L243.9,83.0L244.3,82.9L244.6,82.8L245.0,82.6L245.4,82.4L245.6,82.3L245.9,82.1L246.3,81.9L246.6,81.6L246.9,81.4L247.1,81.2L247.4,81.0L247.6,80.8L247.9,80.6L248.1,80.4L248.4,80.1L248.6,79.9L248.9,79.6L249.1,79.4L249.4,79.1L249.6,78.9L249.9,78.6L250.2,78.4L250.4,78.1L250.7,77.9L251.0,77.6L251.3,77.4L251.6,77.1L251.9,76.9L252.1,76.7L252.4,76.5L252.6,76.3L252.9,76.1L253.2,75.9L253.5,75.6L253.9,75.4L254.1,75.2L254.4,75.1L254.7,74.9L255.1,74.6L255.4,74.4L255.6,74.3L255.9,74.1L256.4,73.9L256.6,73.8L256.9,73.6L257.4,73.4L257.6,73.3L258.0,73.1L258.4,73.0L258.6,72.9L259.1,72.7L259.4,72.6L259.9,72.4L260.1,72.4L260.6,72.2L261.0,72.1L261.4,72.0L261.9,71.9L262.3,71.9L262.6,71.8L263.1,71.8L263.6,71.7L264.1,71.7L264.6,71.7L265.1,71.8L265.6,71.8L265.9,71.9L266.4,72.0L266.8,72.1L267.1,72.2L267.4,72.4L267.9,72.6L268.1,72.8L268.4,72.9L268.6,73.1L268.9,73.4L269.1,73.6L269.4,74.0L269.6,74.4L269.8,74.6L269.9,74.9L270.1,75.4L270.1,75.6L270.2,76.1L270.3,76.6L270.3,77.1L270.3,77.6L270.3,78.1L270.2,78.6L270.1,78.9L270.0,79.4L269.9,79.9L269.8,80.1L269.6,80.6L269.5,80.9L269.4,81.2L269.2,81.6L269.1,81.9L268.9,82.3L268.7,82.6L268.6,82.9L268.4,83.2L268.1,83.6L267.9,83.9L267.8,84.1L267.6,84.4L267.4,84.7L267.1,85.1L266.9,85.4L266.7,85.6L266.5,85.9L266.3,86.1L266.1,86.4L265.9,86.6L265.6,86.9L265.4,87.2L265.1,87.5L264.9,87.8L264.6,88.0L264.4,88.3L264.1,88.6L263.9,88.8L263.6,89.0L263.4,89.3L263.1,89.5L262.9,89.8L262.6,90.0L262.4,90.2L262.1,90.4L261.9,90.6L261.5,90.9L261.2,91.1L260.9,91.4L260.6,91.6L260.4,91.7L260.1,91.9L259.8,92.1L259.4,92.4L259.1,92.6L258.9,92.7L258.6,92.9L258.1,93.1L257.9,93.3L257.6,93.4L257.1,93.6L256.9,93.7L256.5,93.9L256.1,94.1L255.9,94.2L255.4,94.3L255.1,94.4L254.6,94.6L254.4,94.7L253.9,94.8L253.6,94.9L253.1,95.0L252.6,95.1L252.4,95.2L251.9,95.3L251.4,95.3L251.1,95.4 M250.9,94.4L250.4,94.4L249.9,94.5L249.4,94.5L248.9,94.5L248.4,94.5L247.9,94.4L247.4,94.4L247.1,94.4L246.6,94.3L246.1,94.2L245.8,94.1L245.4,94.0L244.9,93.9L244.6,93.8L244.1,93.7L243.9,93.6L243.4,93.4L243.1,93.3L242.6,93.1L242.4,93.1L241.9,92.9L241.6,92.8L241.1,92.6L240.9,92.6L240.4,92.4L240.1,92.4L239.6,92.3L239.1,92.2L238.9,92.1L238.4,92.1L237.9,92.0L237.4,91.9L236.9,91.9L236.6,91.9L236.1,91.8L235.6,91.8L235.1,91.7L234.6,91.7L234.3,91.6L233.9,91.6L233.4,91.5L232.9,91.5L232.4,91.4L231.9,91.4L231.6,91.4L231.1,91.4L230.9,91.4L230.4,91.5L229.9,91.5L229.6,91.6L229.1,91.8L228.8,91.9L228.4,92.1L228.1,92.2L227.6,92.4L227.4,92.5L227.0,92.6L226.6,92.8L226.4,92.9L225.9,93.1L225.6,93.1L225.1,93.3L224.7,93.4L224.4,93.4L223.9,93.5L223.4,93.6L222.9,93.6L222.4,93.6L221.9,93.6L221.4,93.5L220.9,93.5L220.5,93.4L220.1,93.3L219.6,93.1L219.4,93.1L218.9,92.9L218.6,92.8L218.3,92.6L217.9,92.4L217.6,92.2L217.4,92.1L217.1,91.9L216.8,91.6L216.5,91.4L216.2,91.1L216.0,90.9L215.7,90.6L215.5,90.4L215.3,90.1L215.1,89.8L214.9,89.4L214.7,89.1L214.6,88.9L214.4,88.4L214.3,88.1L214.2,87.6L214.1,87.4L214.0,86.9L214.0,86.4L214.0,85.9L214.0,85.4L214.1,84.9L214.1,84.6L214.2,84.1L214.4,83.7L214.5,83.4L214.6,83.1L214.9,82.6L215.0,82.4L215.2,82.1L215.4,81.8L215.6,81.5L215.9,81.2L216.1,81.0L216.4,80.7L216.6,80.5L216.9,80.3L217.1,80.1L217.5,79.9L217.9,79.6L218.1,79.5L218.4,79.4L218.9,79.1L219.1,79.0L219.6,78.9L219.9,78.8L220.4,78.7L220.6,78.6L221.1,78.5L221.6,78.5L222.1,78.4L222.6,78.4L223.1,78.4L223.6,78.5L224.1,78.6L224.5,78.6L224.9,78.7L225.4,78.9L225.6,78.9L226.1,79.1L226.4,79.2L226.6,79.4L227.1,79.6L227.4,79.8L227.6,79.9L227.9,80.1L228.2,80.4L228.5,80.6L228.8,80.9L229.1,81.1L229.3,81.4L229.5,81.6L229.8,81.9L230.0,82.1L230.2,82.4L230.4,82.6L230.6,82.9L230.9,83.2L231.1,83.4L231.4,83.7L231.7,83.9L232.1,84.1L232.4,84.2L232.9,84.3L233.4,84.3L233.9,84.3L234.4,84.3L234.9,84.3L235.4,84.3L235.9,84.3L236.4,84.3L236.9,84.3L237.4,84.3L237.9,84.3L238.4,84.3L238.9,84.3L239.4,84.3L239.9,84.3L240.4,84.3L240.9,84.3L241.4,84.3L241.9,84.3L242.4,84.3L242.9,84.2L243.4,84.1L243.6,84.1L244.1,84.0L244.4,83.9L244.9,83.7L245.1,83.6L245.6,83.4L245.9,83.3L246.2,83.1L246.6,82.9L246.9,82.7L247.1,82.6L247.4,82.4L247.7,82.1L248.0,81.9L248.3,81.6L248.6,81.4L248.9,81.1L249.1,80.9L249.4,80.7L249.6,80.4L249.9,80.2L250.1,79.9L250.4,79.7L250.6,79.5L250.9,79.2L251.1,79.0L251.4,78.8L251.6,78.5L251.9,78.3L252.1,78.1L252.4,77.9L252.7,77.6L253.0,77.4L253.3,77.1L253.6,76.9L253.9,76.7L254.1,76.5L254.4,76.4L254.8,76.1L255.1,75.9L255.4,75.7L255.6,75.6L256.0,75.4L256.4,75.2L256.6,75.0L257.0,74.9L257.4,74.7L257.6,74.6L258.1,74.4L258.4,74.3L258.7,74.1L259.1,74.0L259.4,73.9L259.9,73.7L260.3,73.6L260.6,73.5L261.1,73.4L261.5,73.4L261.9,73.3L262.4,73.3L262.9,73.2L263.4,73.2L263.9,73.2L264.4,73.3L264.9,73.4L265.1,73.4L265.6,73.6L265.9,73.7L266.3,73.9L266.6,74.1L266.9,74.2L267.1,74.4L267.4,74.7L267.6,74.9L267.9,75.3L268.1,75.6L268.2,75.9L268.4,76.3L268.5,76.6L268.6,77.1L268.6,77.6L268.6,78.1L268.6,78.6L268.5,79.1L268.4,79.6L268.4,79.9L268.2,80.4L268.1,80.7L268.0,81.1L267.9,81.4L267.6,81.9L267.5,82.1L267.4,82.4L267.1,82.8L267.0,83.1L266.8,83.4L266.6,83.7L266.4,84.1L266.2,84.4L266.0,84.6L265.8,84.9L265.6,85.1L265.4,85.4L265.1,85.8L264.9,86.1L264.6,86.4L264.4,86.6L264.2,86.9L264.0,87.1L263.7,87.4L263.5,87.6L263.2,87.9L263.0,88.1L262.8,88.4L262.5,88.6L262.2,88.9L262.0,89.1L261.7,89.4L261.4,89.6L261.1,89.9L260.9,90.1L260.6,90.3L260.4,90.5L260.1,90.7L259.8,90.9L259.5,91.1L259.1,91.4L258.9,91.5L258.6,91.7L258.3,91.9L257.9,92.1L257.6,92.3L257.4,92.4L256.9,92.6L256.6,92.8L256.4,92.9L255.9,93.1L255.6,93.2L255.1,93.4L254.9,93.5L254.4,93.6L254.1,93.7L253.6,93.9L253.4,93.9L252.9,94.0L252.5,94.1L252.1,94.2L251.6,94.3L251.1,94.4L250.9,94.4 M251.9,93.4L251.4,93.5L250.9,93.5L250.4,93.6L249.9,93.6L249.4,93.6L248.9,93.6L248.4,93.6L247.9,93.5L247.4,93.5L246.9,93.4L246.6,93.4L246.1,93.2L245.6,93.1L245.4,93.1L244.9,92.9L244.6,92.8L244.1,92.7L243.9,92.6L243.4,92.4L243.1,92.3L242.7,92.1L242.4,92.0L242.0,91.9L241.6,91.8L241.1,91.6L240.9,91.6L240.4,91.5L239.9,91.4L239.6,91.3L239.1,91.3L238.6,91.2L238.1,91.2L237.9,91.1L237.4,91.1L236.9,91.0L236.4,91.0L235.9,90.9L235.4,90.9L235.1,90.9L234.6,90.8L234.1,90.7L233.6,90.7L233.4,90.6L232.9,90.5L232.4,90.5L231.9,90.4L231.4,90.4L230.9,90.4L230.4,90.5L229.9,90.6L229.6,90.7L229.1,90.9L228.9,91.0L228.5,91.1L228.1,91.3L227.9,91.4L227.5,91.6L227.1,91.8L226.9,91.9L226.4,92.1L226.1,92.2L225.6,92.4L225.4,92.4L224.9,92.6L224.6,92.6L224.1,92.7L223.6,92.8L223.1,92.9L222.6,92.9L222.1,92.9L221.6,92.8L221.1,92.8L220.6,92.7L220.4,92.6L219.9,92.5L219.6,92.4L219.1,92.2L218.9,92.1L218.5,91.9L218.1,91.7L217.9,91.5L217.6,91.3L217.4,91.1L217.1,90.9L216.8,90.6L216.6,90.4L216.3,90.1L216.1,89.9L215.9,89.5L215.6,89.1L215.5,88.9L215.4,88.6L215.2,88.1L215.1,87.9L214.9,87.4L214.9,87.0L214.8,86.6L214.8,86.1L214.8,85.6L214.8,85.1L214.9,84.9L215.0,84.4L215.1,84.0L215.3,83.6L215.4,83.4L215.6,82.9L215.8,82.6L216.0,82.4L216.1,82.1L216.4,81.8L216.6,81.6L216.9,81.3L217.1,81.1L217.4,80.9L217.7,80.6L218.1,80.4L218.4,80.2L218.6,80.1L219.0,79.9L219.4,79.7L219.7,79.6L220.1,79.5L220.5,79.4L220.9,79.3L221.4,79.2L221.9,79.2L222.4,79.1L222.9,79.2L223.4,79.2L223.9,79.2L224.4,79.3L224.6,79.4L225.1,79.5L225.4,79.6L225.9,79.8L226.1,79.9L226.5,80.1L226.9,80.3L227.1,80.5L227.4,80.7L227.6,80.9L227.9,81.1L228.2,81.4L228.5,81.6L228.7,81.9L228.9,82.1L229.1,82.4L229.4,82.7L229.6,83.0L229.9,83.3L230.1,83.6L230.3,83.9L230.5,84.1L230.7,84.4L231.0,84.6L231.4,84.9L231.6,85.0L232.0,85.1L232.4,85.2L232.9,85.3L233.4,85.3L233.9,85.2L234.4,85.2L234.9,85.2L235.4,85.1L235.8,85.1L236.1,85.1L236.6,85.1L237.1,85.1L237.6,85.1L238.1,85.1L238.6,85.1L239.1,85.1L239.6,85.1L239.9,85.1L240.4,85.1L240.9,85.2L241.4,85.2L241.9,85.1L242.2,85.1L242.6,85.1L243.1,85.0L243.6,84.9L243.9,84.9L244.4,84.8L244.8,84.6L245.1,84.5L245.5,84.4L245.9,84.2L246.1,84.1L246.6,83.9L246.9,83.7L247.1,83.6L247.5,83.4L247.8,83.1L248.1,82.9L248.4,82.7L248.6,82.5L248.9,82.3L249.1,82.1L249.4,81.9L249.7,81.6L250.0,81.4L250.2,81.1L250.5,80.9L250.7,80.6L251.0,80.4L251.3,80.1L251.5,79.9L251.8,79.6L252.1,79.4L252.3,79.1L252.6,78.9L252.9,78.7L253.1,78.5L253.4,78.3L253.6,78.1L253.9,77.9L254.2,77.6L254.6,77.4L254.9,77.2L255.1,77.0L255.4,76.8L255.7,76.6L256.1,76.4L256.4,76.3L256.6,76.1L257.1,75.9L257.4,75.8L257.7,75.6L258.1,75.4L258.4,75.3L258.9,75.2L259.1,75.1L259.6,74.9L259.9,74.8L260.4,74.7L260.9,74.6L261.1,74.6L261.6,74.5L262.1,74.5L262.6,74.5L263.1,74.5L263.6,74.6L263.9,74.6L264.4,74.7L264.8,74.9L265.1,75.0L265.4,75.2L265.7,75.4L266.0,75.6L266.2,75.9L266.4,76.1L266.6,76.4L266.9,76.9L267.0,77.1L267.1,77.6L267.1,77.9L267.2,78.4L267.2,78.9L267.1,79.4L267.1,79.6L267.0,80.1L266.9,80.6L266.8,80.9L266.6,81.3L266.5,81.6L266.4,81.9L266.2,82.4L266.0,82.6L265.9,82.9L265.6,83.3L265.4,83.6L265.3,83.9L265.1,84.1L264.9,84.5L264.6,84.8L264.4,85.1L264.2,85.4L264.0,85.6L263.8,85.9L263.6,86.1L263.4,86.4L263.1,86.6L262.9,86.9L262.6,87.2L262.4,87.4L262.1,87.7L261.9,87.9L261.6,88.2L261.4,88.4L261.1,88.7L260.9,88.9L260.6,89.1L260.3,89.4L260.0,89.6L259.7,89.9L259.4,90.1L259.1,90.3L258.9,90.5L258.6,90.7L258.3,90.9L257.9,91.1L257.6,91.3L257.4,91.4L257.0,91.6L256.6,91.8L256.4,92.0L256.0,92.1L255.6,92.3L255.4,92.4L254.9,92.6L254.6,92.7L254.1,92.8L253.9,92.9L253.4,93.1L253.1,93.1L252.6,93.3L252.1,93.4L251.9,93.4 M251.9,92.6L251.4,92.7L250.9,92.8L250.4,92.8L249.9,92.8L249.4,92.8L248.9,92.8L248.4,92.8L247.9,92.7L247.4,92.6L247.1,92.6L246.6,92.5L246.2,92.4L245.9,92.3L245.4,92.1L245.1,92.0L244.7,91.9L244.4,91.8L244.0,91.6L243.6,91.5L243.4,91.4L242.9,91.2L242.6,91.1L242.1,90.9L241.9,90.8L241.4,90.7L241.1,90.6L240.6,90.5L240.1,90.5L239.6,90.4L239.4,90.4L238.9,90.3L238.4,90.3L237.9,90.2L237.4,90.2L236.9,90.2L236.6,90.1L236.1,90.1L235.6,90.0L235.1,89.9L234.7,89.9L234.4,89.8L233.9,89.7L233.5,89.6L233.1,89.5L232.6,89.4L232.4,89.4L231.9,89.3L231.4,89.2L230.9,89.3L230.5,89.4L230.1,89.5L229.8,89.6L229.4,89.8L229.1,89.9L228.8,90.1L228.4,90.4L228.1,90.5L227.9,90.6L227.4,90.9L227.1,91.0L226.9,91.2L226.4,91.4L226.1,91.5L225.8,91.6L225.4,91.8L225.1,91.9L224.6,92.0L224.1,92.1L223.9,92.1L223.4,92.2L222.9,92.2L222.4,92.2L221.9,92.2L221.4,92.2L221.1,92.1L220.6,92.0L220.2,91.9L219.9,91.8L219.5,91.6L219.1,91.5L218.9,91.3L218.5,91.1L218.1,90.9L217.9,90.7L217.6,90.5L217.4,90.2L217.1,90.0L216.9,89.7L216.6,89.4L216.4,89.1L216.3,88.9L216.1,88.6L215.9,88.1L215.8,87.9L215.7,87.4L215.6,87.1L215.5,86.6L215.5,86.1L215.5,85.6L215.6,85.1L215.6,84.8L215.7,84.4L215.9,84.0L216.0,83.6L216.2,83.4L216.4,83.0L216.6,82.6L216.8,82.4L217.0,82.1L217.3,81.9L217.5,81.6L217.8,81.4L218.1,81.1L218.4,81.0L218.6,80.8L219.0,80.6L219.4,80.4L219.6,80.3L220.1,80.1L220.4,80.1L220.9,79.9L221.3,79.9L221.6,79.8L222.1,79.8L222.6,79.8L223.1,79.8L223.6,79.9L223.9,79.9L224.4,80.0L224.8,80.1L225.1,80.2L225.5,80.4L225.9,80.5L226.1,80.7L226.5,80.9L226.9,81.1L227.1,81.3L227.4,81.5L227.6,81.7L227.9,82.0L228.1,82.2L228.4,82.5L228.6,82.8L228.8,83.1L229.0,83.4L229.2,83.6L229.4,83.9L229.6,84.3L229.8,84.6L230.0,84.9L230.2,85.1L230.4,85.4L230.6,85.6L230.9,85.9L231.3,86.1L231.6,86.3L232.1,86.4L232.4,86.4L232.8,86.4L233.1,86.4L233.6,86.3L234.1,86.2L234.6,86.1L234.9,86.1L235.4,86.1L235.9,86.0L236.4,86.0L236.9,85.9L237.4,85.9L237.9,85.9L238.4,85.9L238.9,86.0L239.4,86.0L239.9,86.0L240.4,86.0L240.9,86.0L241.4,86.0L241.9,86.0L242.4,86.0L242.9,85.9L243.3,85.9L243.6,85.8L244.1,85.7L244.4,85.6L244.9,85.5L245.1,85.4L245.6,85.2L245.9,85.1L246.3,84.9L246.6,84.7L246.9,84.6L247.3,84.4L247.6,84.2L247.9,84.0L248.1,83.9L248.5,83.6L248.8,83.4L249.1,83.2L249.4,83.0L249.6,82.8L249.9,82.6L250.1,82.3L250.4,82.1L250.6,81.9L250.9,81.6L251.2,81.4L251.4,81.1L251.7,80.9L252.0,80.6L252.2,80.4L252.5,80.1L252.8,79.9L253.1,79.6L253.3,79.4L253.6,79.1L253.9,78.9L254.1,78.7L254.4,78.6L254.6,78.4L255.0,78.1L255.4,77.9L255.6,77.7L255.9,77.6L256.2,77.4L256.6,77.1L256.9,77.0L257.1,76.9L257.6,76.6L257.9,76.5L258.3,76.4L258.6,76.2L259.0,76.1L259.4,76.0L259.9,75.9L260.1,75.8L260.6,75.7L261.1,75.7L261.6,75.6L262.1,75.6L262.6,75.7L263.1,75.8L263.5,75.9L263.9,76.0L264.1,76.1L264.5,76.4L264.8,76.6L265.1,76.9L265.3,77.1L265.4,77.4L265.6,77.8L265.7,78.1L265.8,78.6L265.9,79.1L265.9,79.6L265.8,80.1L265.7,80.6L265.6,80.9L265.5,81.4L265.4,81.6L265.1,82.1L265.0,82.4L264.9,82.7L264.6,83.1L264.5,83.4L264.3,83.6L264.1,83.9L263.9,84.3L263.6,84.6L263.4,84.9L263.3,85.1L263.1,85.4L262.9,85.6L262.6,85.9L262.4,86.2L262.1,86.5L261.9,86.7L261.6,87.0L261.4,87.3L261.1,87.5L260.9,87.8L260.6,88.0L260.4,88.2L260.1,88.5L259.9,88.7L259.6,88.9L259.4,89.1L259.0,89.4L258.7,89.6L258.4,89.9L258.1,90.0L257.9,90.2L257.6,90.4L257.2,90.6L256.9,90.8L256.6,91.0L256.3,91.1L255.9,91.4L255.6,91.5L255.3,91.6L254.9,91.8L254.6,91.9L254.1,92.1L253.9,92.1L253.4,92.3L253.1,92.4L252.6,92.5L252.1,92.6L251.9,92.6 M251.9,91.9L251.4,92.0L250.9,92.0L250.4,92.1L249.9,92.1L249.4,92.1L248.9,92.0L248.4,92.0L247.9,91.9L247.6,91.9L247.1,91.8L246.6,91.6L246.4,91.5L245.9,91.4L245.6,91.3L245.3,91.1L244.9,90.9L244.6,90.8L244.2,90.6L243.9,90.5L243.6,90.3L243.2,90.1L242.9,90.0L242.6,89.8L242.1,89.6L241.9,89.5L241.4,89.4L241.1,89.3L240.6,89.2L240.1,89.2L239.6,89.1L239.4,89.1L238.9,89.1L238.4,89.1L237.9,89.0L237.4,89.0L236.9,88.9L236.6,88.9L236.1,88.8L235.7,88.6L235.4,88.5L235.1,88.3L235.0,87.9L235.2,87.6L235.6,87.4L235.9,87.3L236.4,87.2L236.9,87.2L237.4,87.1L237.6,87.1L238.1,87.1L238.4,87.1L238.9,87.1L239.4,87.2L239.9,87.2L240.4,87.2L240.9,87.3L241.4,87.3L241.9,87.2L242.4,87.1L242.6,87.1L243.1,87.0L243.5,86.9L243.9,86.8L244.3,86.6L244.6,86.5L244.9,86.4L245.4,86.2L245.6,86.1L246.1,85.9L246.4,85.7L246.6,85.6L247.0,85.4L247.4,85.2L247.6,85.1L247.9,84.9L248.3,84.6L248.6,84.4L248.9,84.3L249.1,84.1L249.5,83.9L249.8,83.6L250.1,83.4L250.4,83.2L250.6,82.9L250.9,82.7L251.1,82.5L251.4,82.3L251.6,82.0L251.9,81.8L252.1,81.6L252.4,81.3L252.6,81.1L252.9,80.9L253.1,80.6L253.4,80.4L253.7,80.1L254.0,79.9L254.3,79.6L254.6,79.4L254.9,79.2L255.1,79.0L255.4,78.9L255.7,78.6L256.1,78.4L256.4,78.2L256.6,78.1L257.0,77.9L257.4,77.7L257.6,77.6L258.1,77.4L258.4,77.3L258.9,77.1L259.1,77.1L259.6,76.9L259.9,76.9L260.4,76.8L260.9,76.8L261.4,76.8L261.9,76.8L262.3,76.9L262.6,77.0L263.0,77.1L263.4,77.3L263.6,77.5L263.9,77.8L264.1,78.1L264.3,78.4L264.4,78.6L264.5,79.1L264.6,79.6L264.6,80.1L264.5,80.6L264.4,81.1L264.3,81.4L264.2,81.9L264.1,82.1L263.9,82.5L263.7,82.9L263.6,83.1L263.4,83.4L263.1,83.8L262.9,84.1L262.7,84.4L262.6,84.6L262.4,84.9L262.1,85.2L261.9,85.5L261.6,85.8L261.4,86.1L261.1,86.3L260.9,86.6L260.6,86.9L260.4,87.1L260.1,87.4L259.9,87.6L259.6,87.9L259.4,88.1L259.1,88.3L258.9,88.5L258.6,88.7L258.4,88.9L258.1,89.1L257.8,89.4L257.4,89.6L257.1,89.8L256.9,90.0L256.6,90.1L256.2,90.4L255.9,90.5L255.6,90.7L255.2,90.9L254.9,91.0L254.6,91.1L254.1,91.3L253.9,91.4L253.4,91.6L253.1,91.6L252.6,91.8L252.1,91.9L251.9,91.9 M223.4,91.6L222.9,91.7L222.4,91.7L221.9,91.6L221.6,91.6L221.1,91.5L220.6,91.4L220.4,91.3L219.9,91.1L219.6,91.0L219.3,90.9L218.9,90.6L218.6,90.5L218.4,90.3L218.1,90.1L217.9,89.9L217.6,89.6L217.4,89.3L217.1,89.0L216.9,88.6L216.7,88.4L216.6,88.1L216.4,87.6L216.3,87.4L216.2,86.9L216.2,86.4L216.2,85.9L216.2,85.4L216.3,84.9L216.4,84.5L216.5,84.1L216.6,83.9L216.9,83.4L217.0,83.1L217.2,82.9L217.4,82.6L217.6,82.4L217.9,82.1L218.2,81.9L218.5,81.6L218.9,81.4L219.1,81.2L219.4,81.1L219.9,80.9L220.1,80.8L220.6,80.6L220.9,80.5L221.4,80.4L221.9,80.4L222.1,80.4L222.6,80.4L223.0,80.4L223.4,80.4L223.9,80.5L224.4,80.6L224.6,80.7L225.1,80.9L225.4,81.0L225.7,81.1L226.1,81.4L226.4,81.5L226.6,81.7L226.9,81.9L227.1,82.1L227.4,82.4L227.6,82.6L227.9,82.9L228.1,83.2L228.4,83.6L228.6,83.9L228.7,84.1L228.9,84.4L229.1,84.9L229.2,85.1L229.4,85.4L229.6,85.9L229.7,86.1L229.9,86.6L229.9,86.9L230.0,87.4L229.9,87.9L229.8,88.1L229.6,88.4L229.3,88.6L229.1,88.9L228.8,89.1L228.5,89.4L228.1,89.6L227.9,89.8L227.6,90.0L227.4,90.2L227.0,90.4L226.6,90.6L226.4,90.7L226.1,90.9L225.6,91.1L225.4,91.2L224.9,91.3L224.6,91.4L224.1,91.5L223.6,91.6L223.4,91.6 M251.4,91.1L250.9,91.2L250.4,91.2L249.9,91.2L249.4,91.2L248.9,91.1L248.6,91.1L248.1,91.0L247.7,90.9L247.4,90.8L246.9,90.6L246.6,90.5L246.4,90.4L246.0,90.1L245.6,89.9L245.4,89.7L245.1,89.4L244.9,89.1L244.8,88.9L244.8,88.4L244.9,88.1L245.1,87.9L245.4,87.6L245.7,87.4L246.0,87.1L246.4,86.9L246.6,86.7L246.9,86.6L247.2,86.4L247.6,86.1L247.9,85.9L248.1,85.8L248.4,85.6L248.8,85.4L249.1,85.1L249.4,85.0L249.6,84.8L249.9,84.6L250.2,84.4L250.6,84.1L250.9,83.9L251.1,83.7L251.4,83.5L251.6,83.3L251.9,83.0L252.1,82.8L252.4,82.6L252.6,82.4L252.9,82.1L253.1,81.9L253.4,81.6L253.7,81.4L254.0,81.1L254.3,80.9L254.6,80.6L254.9,80.4L255.1,80.2L255.4,80.0L255.6,79.8L255.9,79.6L256.3,79.4L256.6,79.2L256.9,79.1L257.3,78.9L257.6,78.7L257.9,78.6L258.4,78.4L258.6,78.3L259.1,78.2L259.6,78.1L259.9,78.1L260.4,78.1L260.9,78.1L261.1,78.1L261.6,78.3L261.9,78.4L262.3,78.6L262.6,78.9L262.8,79.1L262.9,79.4L263.1,79.9L263.1,80.4L263.1,80.9L263.0,81.4L262.9,81.9L262.8,82.1L262.6,82.5L262.4,82.9L262.3,83.1L262.1,83.4L261.9,83.8L261.7,84.1L261.5,84.4L261.3,84.6L261.1,84.9L260.9,85.2L260.6,85.5L260.4,85.8L260.1,86.0L259.9,86.3L259.6,86.6L259.4,86.8L259.1,87.1L258.9,87.3L258.6,87.5L258.4,87.8L258.1,88.0L257.9,88.2L257.6,88.4L257.3,88.6L257.0,88.9L256.6,89.1L256.4,89.3L256.1,89.4L255.8,89.6L255.4,89.9L255.1,90.0L254.9,90.1L254.4,90.3L254.1,90.4L253.6,90.6L253.4,90.7L252.9,90.9L252.6,90.9L252.1,91.0L251.6,91.1L251.4,91.1 M224.1,90.9L223.6,91.0L223.1,91.0L222.6,91.1L222.1,91.0L221.6,91.0L221.1,90.9L220.9,90.8L220.4,90.7L220.1,90.6L219.7,90.4L219.4,90.2L219.1,90.0L218.9,89.9L218.6,89.6L218.3,89.4L218.1,89.1L217.9,88.9L217.6,88.5L217.4,88.1L217.3,87.9L217.1,87.6L217.0,87.1L216.9,86.6L216.9,86.4L216.8,85.9L216.9,85.5L216.9,85.1L217.1,84.6L217.2,84.4L217.4,83.9L217.5,83.6L217.7,83.4L217.9,83.1L218.1,82.8L218.4,82.6L218.6,82.3L218.9,82.1L219.3,81.9L219.6,81.7L219.9,81.6L220.3,81.4L220.6,81.3L221.1,81.1L221.4,81.1L221.9,81.0L222.4,81.0L222.9,81.0L223.4,81.0L223.9,81.1L224.1,81.2L224.6,81.3L224.9,81.4L225.3,81.6L225.6,81.8L225.9,82.0L226.1,82.1L226.4,82.4L226.7,82.6L227.0,82.9L227.2,83.1L227.4,83.4L227.6,83.7L227.9,84.1L228.0,84.4L228.1,84.6L228.4,85.1L228.4,85.4L228.6,85.9L228.7,86.1L228.7,86.6L228.7,87.1L228.6,87.5L228.5,87.9L228.3,88.1L228.1,88.5L227.9,88.8L227.6,89.0L227.4,89.2L227.1,89.4L226.9,89.6L226.5,89.9L226.1,90.1L225.9,90.2L225.6,90.4L225.1,90.6L224.9,90.7L224.4,90.8L224.1,90.9 M252.1,90.1L251.6,90.2L251.1,90.3L250.6,90.3L250.1,90.3L249.6,90.2L249.1,90.1L248.9,90.1L248.4,89.9L248.1,89.8L247.9,89.6L247.6,89.4L247.4,89.1L247.2,88.6L247.2,88.1L247.4,87.9L247.6,87.6L247.9,87.3L248.1,87.1L248.4,86.9L248.7,86.6L249.0,86.4L249.4,86.1L249.6,85.9L249.9,85.8L250.1,85.6L250.4,85.4L250.8,85.1L251.1,84.9L251.4,84.7L251.6,84.5L251.9,84.3L252.1,84.1L252.4,83.9L252.7,83.6L252.9,83.4L253.2,83.1L253.5,82.9L253.8,82.6L254.1,82.4L254.3,82.1L254.6,81.9L254.9,81.7L255.1,81.5L255.4,81.3L255.6,81.1L255.9,80.9L256.3,80.6L256.6,80.4L256.9,80.3L257.2,80.1L257.6,79.9L257.9,79.8L258.4,79.7L258.6,79.6L259.1,79.5L259.6,79.5L260.1,79.6L260.4,79.6L260.9,79.9L261.1,80.1L261.3,80.4L261.4,80.6L261.5,81.1L261.5,81.6L261.4,82.1L261.3,82.4L261.1,82.8L261.0,83.1L260.8,83.4L260.6,83.7L260.4,84.1L260.2,84.4L260.0,84.6L259.8,84.9L259.6,85.1L259.4,85.4L259.1,85.7L258.9,85.9L258.6,86.2L258.4,86.5L258.1,86.7L257.9,86.9L257.6,87.2L257.4,87.4L257.1,87.6L256.8,87.9L256.5,88.1L256.1,88.4L255.9,88.5L255.6,88.7L255.4,88.9L254.9,89.1L254.6,89.3L254.4,89.4L253.9,89.6L253.6,89.7L253.1,89.9L252.9,89.9L252.4,90.1L252.1,90.1 M223.6,90.4L223.1,90.5L222.6,90.5L222.1,90.5L221.6,90.4L221.4,90.3L220.9,90.2L220.6,90.1L220.1,89.9L219.9,89.8L219.6,89.6L219.2,89.4L218.9,89.1L218.7,88.9L218.5,88.6L218.3,88.4L218.1,88.1L217.9,87.7L217.7,87.4L217.6,87.0L217.6,86.6L217.5,86.1L217.5,85.6L217.6,85.1L217.7,84.9L217.9,84.4L218.0,84.1L218.1,83.9L218.4,83.5L218.6,83.2L218.9,83.0L219.1,82.7L219.4,82.5L219.6,82.4L220.1,82.1L220.4,82.0L220.7,81.9L221.1,81.7L221.6,81.6L221.9,81.6L222.4,81.6L222.9,81.6L223.3,81.6L223.6,81.7L224.1,81.8L224.4,81.9L224.9,82.1L225.1,82.2L225.4,82.4L225.8,82.6L226.1,82.9L226.3,83.1L226.6,83.4L226.8,83.6L227.0,83.9L227.1,84.1L227.4,84.6L227.5,84.9L227.6,85.2L227.7,85.6L227.8,86.1L227.8,86.6L227.8,87.1L227.6,87.6L227.5,87.9L227.4,88.1L227.1,88.4L226.9,88.7L226.6,89.0L226.4,89.2L226.1,89.4L225.7,89.6L225.4,89.8L225.1,89.9L224.6,90.1L224.4,90.2L223.9,90.3L223.6,90.4 M252.9,88.6L252.4,88.8L251.9,88.8L251.4,88.9L250.9,88.8L250.4,88.6L250.1,88.4L250.0,88.1L250.1,87.6L250.3,87.4L250.5,87.1L250.7,86.9L251.0,86.6L251.3,86.4L251.6,86.1L251.9,85.9L252.1,85.7L252.4,85.5L252.6,85.3L252.9,85.1L253.2,84.9L253.5,84.6L253.8,84.4L254.1,84.1L254.4,83.9L254.6,83.7L254.9,83.5L255.1,83.3L255.4,83.1L255.7,82.9L256.0,82.6L256.4,82.4L256.6,82.3L256.9,82.1L257.4,81.9L257.6,81.8L258.1,81.8L258.6,81.9L258.9,82.1L259.0,82.4L259.0,82.9L258.9,83.2L258.7,83.6L258.6,83.9L258.4,84.2L258.1,84.5L257.9,84.9L257.7,85.1L257.5,85.4L257.2,85.6L257.0,85.9L256.8,86.1L256.5,86.4L256.2,86.6L256.0,86.9L255.7,87.1L255.4,87.3L255.1,87.5L254.9,87.7L254.6,87.9L254.2,88.1L253.9,88.3L253.6,88.4L253.1,88.6L252.9,88.6 M223.9,89.7L223.4,89.8L222.9,89.8L222.4,89.8L221.9,89.8L221.4,89.7L221.1,89.6L220.6,89.4L220.4,89.3L220.0,89.1L219.7,88.9L219.4,88.6L219.1,88.4L218.9,88.1L218.8,87.9L218.6,87.6L218.4,87.1L218.3,86.9L218.2,86.4L218.2,85.9L218.3,85.4L218.4,85.0L218.5,84.6L218.6,84.4L218.9,84.0L219.1,83.7L219.4,83.4L219.6,83.2L219.9,83.0L220.1,82.8L220.5,82.6L220.9,82.5L221.2,82.4L221.6,82.3L222.1,82.2L222.6,82.2L223.1,82.2L223.6,82.3L223.9,82.4L224.4,82.6L224.6,82.7L225.0,82.9L225.3,83.1L225.6,83.4L225.9,83.6L226.1,83.9L226.3,84.1L226.5,84.4L226.6,84.7L226.8,85.1L226.9,85.4L227.0,85.9L227.0,86.4L227.0,86.9L226.9,87.2L226.7,87.6L226.6,87.9L226.4,88.1L226.1,88.4L225.9,88.7L225.6,88.9L225.2,89.1L224.9,89.3L224.6,89.4L224.1,89.6L223.9,89.7 M223.1,89.1L222.6,89.2L222.1,89.1L221.9,89.1L221.4,89.0L221.1,88.9L220.6,88.7L220.4,88.5L220.1,88.3L219.9,88.1L219.6,87.8L219.4,87.4L219.2,87.1L219.1,86.8L219.0,86.4L219.0,85.9L219.1,85.4L219.1,85.1L219.4,84.6L219.5,84.4L219.7,84.1L219.9,83.9L220.2,83.6L220.6,83.4L220.9,83.2L221.2,83.1L221.6,83.0L222.1,82.9L222.6,82.9L223.1,82.9L223.6,83.1L223.9,83.1L224.4,83.4L224.6,83.5L224.9,83.7L225.1,83.9L225.4,84.2L225.6,84.5L225.9,84.9L226.0,85.1L226.1,85.6L226.2,85.9L226.2,86.4L226.1,86.7L226.0,87.1L225.9,87.4L225.6,87.8L225.4,88.1L225.1,88.3L224.9,88.5L224.6,88.6L224.1,88.9L223.9,89.0L223.4,89.1L223.1,89.1 M223.4,88.2L222.9,88.3L222.4,88.3L221.9,88.2L221.6,88.1L221.1,87.9L220.9,87.7L220.6,87.5L220.4,87.2L220.2,86.9L220.1,86.6L220.0,86.1L220.0,85.6L220.1,85.3L220.3,84.9L220.5,84.6L220.8,84.4L221.1,84.1L221.4,84.0L221.7,83.9L222.1,83.8L222.6,83.8L223.1,83.8L223.4,83.9L223.9,84.1L224.1,84.3L224.4,84.5L224.6,84.7L224.9,85.1L225.0,85.4L225.1,85.9L225.1,86.1L225.1,86.4L225.0,86.9L224.9,87.1L224.6,87.4L224.4,87.7L224.1,87.9L223.6,88.1L223.4,88.2" fill="none" stroke="#555" stroke-width="0.45"/><circle cx="222.3" cy="86" r="0.9" fill="#fff"/>
<path d="M203,58.3 L231.8,58.3 Q234.4,58.3 234.4,62 L234.4,100 Q234.4,103.3 231.8,103.3 L203,103.3" fill="none" stroke="#444" stroke-width="0.8"/>
<path d="M288.5,59 L246.3,59 Q243.2,59 243.2,62.5 L243.2,100.5 Q243.2,103.3 246.3,103.3 L288.5,103.3" fill="none" stroke="#444" stroke-width="0.8"/>
<path d="M272.4,94.9 L305.5,94.9 L303,91.1 L313.4,96.4 L303,101.7 L305.5,97.9 L272.4,97.9 Z" fill="#7a7a7a"/>
<rect x="325.9" y="26.3" width="84.60000000000002" height="84.60000000000001" fill="none" stroke="#444" stroke-width="0.8"/>
<text x="308.5" y="72" font-size="9.6" text-anchor="middle" fill="#111" transform="rotate(-90 308.5 72)">TIM-3</text>
<text x="368.6" y="129.6" font-size="9.8" text-anchor="middle" fill="#111">Ly108</text>
<text x="321.5" y="35.2" font-size="3" text-anchor="end" fill="#555">10<tspan font-size="2" dy="-1">5</tspan></text>
<line x1="323.5" y1="34.2" x2="325.9" y2="34.2" stroke="#666" stroke-width="0.5"/>
<text x="321.5" y="51.8" font-size="3" text-anchor="end" fill="#555">10<tspan font-size="2" dy="-1">4</tspan></text>
<line x1="323.5" y1="50.8" x2="325.9" y2="50.8" stroke="#666" stroke-width="0.5"/>
<text x="321.5" y="70.2" font-size="3" text-anchor="end" fill="#555">10<tspan font-size="2" dy="-1">3</tspan></text>
<line x1="323.5" y1="69.2" x2="325.9" y2="69.2" stroke="#666" stroke-width="0.5"/>
<text x="321.5" y="89.5" font-size="3" text-anchor="end" fill="#555">10<tspan font-size="2" dy="-1">2</tspan></text>
<line x1="323.5" y1="88.5" x2="325.9" y2="88.5" stroke="#666" stroke-width="0.5"/>
<text x="321.5" y="97.2" font-size="3" text-anchor="end" fill="#555">0</text>
<line x1="323.5" y1="96.2" x2="325.9" y2="96.2" stroke="#666" stroke-width="0.5"/>
<text x="321.5" y="106.5" font-size="3" text-anchor="end" fill="#555">-10<tspan font-size="2" dy="-1">2</tspan></text>
<line x1="323.5" y1="105.5" x2="325.9" y2="105.5" stroke="#666" stroke-width="0.5"/>
<line x1="324.6" y1="30.0" x2="325.9" y2="30.0" stroke="#888" stroke-width="0.3"/>
<line x1="324.6" y1="32.2" x2="325.9" y2="32.2" stroke="#888" stroke-width="0.3"/>
<line x1="324.6" y1="34.4" x2="325.9" y2="34.4" stroke="#888" stroke-width="0.3"/>
<line x1="324.6" y1="36.6" x2="325.9" y2="36.6" stroke="#888" stroke-width="0.3"/>
<line x1="324.6" y1="38.8" x2="325.9" y2="38.8" stroke="#888" stroke-width="0.3"/>
<line x1="324.6" y1="41.0" x2="325.9" y2="41.0" stroke="#888" stroke-width="0.3"/>
<line x1="324.6" y1="43.2" x2="325.9" y2="43.2" stroke="#888" stroke-width="0.3"/>
<line x1="324.6" y1="45.4" x2="325.9" y2="45.4" stroke="#888" stroke-width="0.3"/>
<line x1="324.6" y1="47.6" x2="325.9" y2="47.6" stroke="#888" stroke-width="0.3"/>
<line x1="324.6" y1="49.8" x2="325.9" y2="49.8" stroke="#888" stroke-width="0.3"/>
<line x1="324.6" y1="52.0" x2="325.9" y2="52.0" stroke="#888" stroke-width="0.3"/>
<line x1="324.6" y1="54.2" x2="325.9" y2="54.2" stroke="#888" stroke-width="0.3"/>
<line x1="324.6" y1="56.4" x2="325.9" y2="56.4" stroke="#888" stroke-width="0.3"/>
<line x1="324.6" y1="58.6" x2="325.9" y2="58.6" stroke="#888" stroke-width="0.3"/>
<line x1="324.6" y1="60.8" x2="325.9" y2="60.8" stroke="#888" stroke-width="0.3"/>
<line x1="324.6" y1="63.0" x2="325.9" y2="63.0" stroke="#888" stroke-width="0.3"/>
<line x1="324.6" y1="65.2" x2="325.9" y2="65.2" stroke="#888" stroke-width="0.3"/>
<line x1="324.6" y1="67.4" x2="325.9" y2="67.4" stroke="#888" stroke-width="0.3"/>
<line x1="324.6" y1="69.6" x2="325.9" y2="69.6" stroke="#888" stroke-width="0.3"/>
<line x1="324.6" y1="71.8" x2="325.9" y2="71.8" stroke="#888" stroke-width="0.3"/>
<line x1="324.6" y1="74.0" x2="325.9" y2="74.0" stroke="#888" stroke-width="0.3"/>
<line x1="324.6" y1="76.2" x2="325.9" y2="76.2" stroke="#888" stroke-width="0.3"/>
<line x1="324.6" y1="78.4" x2="325.9" y2="78.4" stroke="#888" stroke-width="0.3"/>
<line x1="324.6" y1="80.6" x2="325.9" y2="80.6" stroke="#888" stroke-width="0.3"/>
<line x1="324.6" y1="82.8" x2="325.9" y2="82.8" stroke="#888" stroke-width="0.3"/>
<line x1="324.6" y1="85.0" x2="325.9" y2="85.0" stroke="#888" stroke-width="0.3"/>
<line x1="324.6" y1="87.2" x2="325.9" y2="87.2" stroke="#888" stroke-width="0.3"/>
<line x1="324.6" y1="89.4" x2="325.9" y2="89.4" stroke="#888" stroke-width="0.3"/>
<line x1="324.6" y1="91.6" x2="325.9" y2="91.6" stroke="#888" stroke-width="0.3"/>
<line x1="324.6" y1="93.8" x2="325.9" y2="93.8" stroke="#888" stroke-width="0.3"/>
<line x1="324.6" y1="96.0" x2="325.9" y2="96.0" stroke="#888" stroke-width="0.3"/>
<line x1="324.6" y1="98.2" x2="325.9" y2="98.2" stroke="#888" stroke-width="0.3"/>
<line x1="324.6" y1="100.4" x2="325.9" y2="100.4" stroke="#888" stroke-width="0.3"/>
<line x1="324.6" y1="102.6" x2="325.9" y2="102.6" stroke="#888" stroke-width="0.3"/>
<line x1="324.6" y1="104.8" x2="325.9" y2="104.8" stroke="#888" stroke-width="0.3"/>
<line x1="324.6" y1="107.0" x2="325.9" y2="107.0" stroke="#888" stroke-width="0.3"/>
<rect x="324.2" y="94.5" width="1.8" height="3.5" fill="#333"/>
<text x="346.7" y="116.5" font-size="3" text-anchor="middle" fill="#555">0</text>
<line x1="346.7" y1="110.9" x2="346.7" y2="113" stroke="#666" stroke-width="0.5"/>
<text x="375.9" y="116.5" font-size="3" text-anchor="middle" fill="#555">10<tspan font-size="2" dy="-1">3</tspan></text>
<line x1="375.9" y1="110.9" x2="375.9" y2="113" stroke="#666" stroke-width="0.5"/>
<text x="402.8" y="116.5" font-size="3" text-anchor="middle" fill="#555">10<tspan font-size="2" dy="-1">4</tspan></text>
<line x1="402.8" y1="110.9" x2="402.8" y2="113" stroke="#666" stroke-width="0.5"/>
<line x1="328.0" y1="110.9" x2="328.0" y2="112.2" stroke="#888" stroke-width="0.3"/>
<line x1="330.1" y1="110.9" x2="330.1" y2="112.2" stroke="#888" stroke-width="0.3"/>
<line x1="332.3" y1="110.9" x2="332.3" y2="112.2" stroke="#888" stroke-width="0.3"/>
<line x1="334.4" y1="110.9" x2="334.4" y2="112.2" stroke="#888" stroke-width="0.3"/>
<line x1="336.6" y1="110.9" x2="336.6" y2="112.2" stroke="#888" stroke-width="0.3"/>
<line x1="338.8" y1="110.9" x2="338.8" y2="112.2" stroke="#888" stroke-width="0.3"/>
<line x1="340.9" y1="110.9" x2="340.9" y2="112.2" stroke="#888" stroke-width="0.3"/>
<line x1="343.1" y1="110.9" x2="343.1" y2="112.2" stroke="#888" stroke-width="0.3"/>
<line x1="345.2" y1="110.9" x2="345.2" y2="112.2" stroke="#888" stroke-width="0.3"/>
<line x1="347.4" y1="110.9" x2="347.4" y2="112.2" stroke="#888" stroke-width="0.3"/>
<line x1="349.5" y1="110.9" x2="349.5" y2="112.2" stroke="#888" stroke-width="0.3"/>
<line x1="351.6" y1="110.9" x2="351.6" y2="112.2" stroke="#888" stroke-width="0.3"/>
<line x1="353.8" y1="110.9" x2="353.8" y2="112.2" stroke="#888" stroke-width="0.3"/>
<line x1="355.9" y1="110.9" x2="355.9" y2="112.2" stroke="#888" stroke-width="0.3"/>
<line x1="358.1" y1="110.9" x2="358.1" y2="112.2" stroke="#888" stroke-width="0.3"/>
<line x1="360.2" y1="110.9" x2="360.2" y2="112.2" stroke="#888" stroke-width="0.3"/>
<line x1="362.4" y1="110.9" x2="362.4" y2="112.2" stroke="#888" stroke-width="0.3"/>
<line x1="364.6" y1="110.9" x2="364.6" y2="112.2" stroke="#888" stroke-width="0.3"/>
<line x1="366.7" y1="110.9" x2="366.7" y2="112.2" stroke="#888" stroke-width="0.3"/>
<line x1="368.9" y1="110.9" x2="368.9" y2="112.2" stroke="#888" stroke-width="0.3"/>
<line x1="371.0" y1="110.9" x2="371.0" y2="112.2" stroke="#888" stroke-width="0.3"/>
<line x1="373.1" y1="110.9" x2="373.1" y2="112.2" stroke="#888" stroke-width="0.3"/>
<line x1="375.3" y1="110.9" x2="375.3" y2="112.2" stroke="#888" stroke-width="0.3"/>
<line x1="377.4" y1="110.9" x2="377.4" y2="112.2" stroke="#888" stroke-width="0.3"/>
<line x1="379.6" y1="110.9" x2="379.6" y2="112.2" stroke="#888" stroke-width="0.3"/>
<line x1="381.8" y1="110.9" x2="381.8" y2="112.2" stroke="#888" stroke-width="0.3"/>
<line x1="383.9" y1="110.9" x2="383.9" y2="112.2" stroke="#888" stroke-width="0.3"/>
<line x1="386.1" y1="110.9" x2="386.1" y2="112.2" stroke="#888" stroke-width="0.3"/>
<line x1="388.2" y1="110.9" x2="388.2" y2="112.2" stroke="#888" stroke-width="0.3"/>
<line x1="390.4" y1="110.9" x2="390.4" y2="112.2" stroke="#888" stroke-width="0.3"/>
<line x1="392.5" y1="110.9" x2="392.5" y2="112.2" stroke="#888" stroke-width="0.3"/>
<line x1="394.6" y1="110.9" x2="394.6" y2="112.2" stroke="#888" stroke-width="0.3"/>
<line x1="396.8" y1="110.9" x2="396.8" y2="112.2" stroke="#888" stroke-width="0.3"/>
<line x1="398.9" y1="110.9" x2="398.9" y2="112.2" stroke="#888" stroke-width="0.3"/>
<line x1="401.1" y1="110.9" x2="401.1" y2="112.2" stroke="#888" stroke-width="0.3"/>
<line x1="403.2" y1="110.9" x2="403.2" y2="112.2" stroke="#888" stroke-width="0.3"/>
<line x1="405.4" y1="110.9" x2="405.4" y2="112.2" stroke="#888" stroke-width="0.3"/>
<line x1="407.6" y1="110.9" x2="407.6" y2="112.2" stroke="#888" stroke-width="0.3"/>
<rect x="341" y="110.7" width="5" height="1.6" fill="#333"/>
<circle cx="359.9" cy="63.8" r="0.33" fill="#777"/><circle cx="387.5" cy="80.4" r="0.33" fill="#777"/><circle cx="385.9" cy="76.4" r="0.33" fill="#777"/><circle cx="390.9" cy="84.2" r="0.33" fill="#777"/><circle cx="370.8" cy="91.7" r="0.33" fill="#777"/><circle cx="390.7" cy="43.4" r="0.33" fill="#777"/><circle cx="354.1" cy="53.1" r="0.33" fill="#777"/><circle cx="389.9" cy="52.0" r="0.33" fill="#777"/><circle cx="376.9" cy="65.2" r="0.33" fill="#777"/><circle cx="400.0" cy="81.4" r="0.33" fill="#777"/><circle cx="398.9" cy="94.2" r="0.33" fill="#777"/><circle cx="352.7" cy="75.2" r="0.33" fill="#777"/><circle cx="346.6" cy="53.7" r="0.33" fill="#777"/><circle cx="405.2" cy="62.3" r="0.33" fill="#777"/><circle cx="375.3" cy="41.8" r="0.33" fill="#777"/><circle cx="388.8" cy="77.3" r="0.33" fill="#777"/><circle cx="383.0" cy="61.0" r="0.33" fill="#777"/><circle cx="351.7" cy="40.3" r="0.33" fill="#777"/><circle cx="368.8" cy="51.0" r="0.33" fill="#777"/><circle cx="355.8" cy="33.0" r="0.33" fill="#777"/><circle cx="355.8" cy="69.6" r="0.33" fill="#777"/><circle cx="350.9" cy="59.6" r="0.33" fill="#777"/><circle cx="402.4" cy="74.1" r="0.33" fill="#777"/><circle cx="340.1" cy="43.7" r="0.33" fill="#777"/><circle cx="336.4" cy="63.0" r="0.33" fill="#777"/><circle cx="369.0" cy="40.4" r="0.33" fill="#777"/><circle cx="327.6" cy="51.3" r="0.33" fill="#777"/><circle cx="392.5" cy="55.1" r="0.33" fill="#777"/><circle cx="359.4" cy="62.9" r="0.33" fill="#777"/><circle cx="379.4" cy="81.8" r="0.33" fill="#777"/><circle cx="399.7" cy="67.9" r="0.33" fill="#777"/><circle cx="371.8" cy="83.0" r="0.33" fill="#777"/><circle cx="404.3" cy="95.9" r="0.33" fill="#777"/><circle cx="395.1" cy="99.9" r="0.33" fill="#777"/><circle cx="331.7" cy="58.6" r="0.33" fill="#777"/><circle cx="377.6" cy="96.7" r="0.33" fill="#777"/><circle cx="369.4" cy="54.7" r="0.33" fill="#777"/><circle cx="392.1" cy="101.7" r="0.33" fill="#777"/><circle cx="403.8" cy="84.6" r="0.33" fill="#777"/><circle cx="331.7" cy="101.6" r="0.33" fill="#777"/><circle cx="400.2" cy="104.5" r="0.33" fill="#777"/><circle cx="400.8" cy="81.8" r="0.33" fill="#777"/><circle cx="360.6" cy="65.8" r="0.33" fill="#777"/><circle cx="358.8" cy="71.0" r="0.33" fill="#777"/><circle cx="381.3" cy="100.4" r="0.33" fill="#777"/><circle cx="344.0" cy="73.3" r="0.33" fill="#777"/><circle cx="352.9" cy="56.9" r="0.33" fill="#777"/><circle cx="353.7" cy="61.0" r="0.33" fill="#777"/><circle cx="380.2" cy="57.6" r="0.33" fill="#777"/><circle cx="374.5" cy="90.1" r="0.33" fill="#777"/><circle cx="358.1" cy="43.9" r="0.33" fill="#777"/><circle cx="386.2" cy="82.9" r="0.33" fill="#777"/><circle cx="361.0" cy="67.3" r="0.33" fill="#777"/><circle cx="350.6" cy="40.2" r="0.33" fill="#777"/><circle cx="372.5" cy="71.4" r="0.33" fill="#777"/><circle cx="363.2" cy="61.9" r="0.33" fill="#777"/><circle cx="350.2" cy="43.1" r="0.33" fill="#777"/><circle cx="334.6" cy="45.9" r="0.33" fill="#777"/><circle cx="338.7" cy="48.1" r="0.33" fill="#777"/><circle cx="395.4" cy="56.8" r="0.33" fill="#777"/><circle cx="399.2" cy="78.4" r="0.33" fill="#777"/><circle cx="357.8" cy="39.5" r="0.33" fill="#777"/><circle cx="363.6" cy="91.4" r="0.33" fill="#777"/><circle cx="339.3" cy="71.6" r="0.33" fill="#777"/><circle cx="359.6" cy="60.4" r="0.33" fill="#777"/><circle cx="385.0" cy="85.8" r="0.33" fill="#777"/><circle cx="348.6" cy="73.0" r="0.33" fill="#777"/><circle cx="372.4" cy="99.8" r="0.33" fill="#777"/><circle cx="363.4" cy="57.5" r="0.33" fill="#777"/><circle cx="341.6" cy="32.9" r="0.33" fill="#777"/><circle cx="406.2" cy="85.2" r="0.33" fill="#777"/><circle cx="353.3" cy="47.7" r="0.33" fill="#777"/><circle cx="359.7" cy="45.9" r="0.33" fill="#777"/><circle cx="393.2" cy="54.3" r="0.33" fill="#777"/><circle cx="396.2" cy="57.4" r="0.33" fill="#777"/><circle cx="334.5" cy="57.6" r="0.33" fill="#777"/><circle cx="343.5" cy="66.1" r="0.33" fill="#777"/><circle cx="406.2" cy="34.7" r="0.33" fill="#777"/><circle cx="362.2" cy="35.8" r="0.33" fill="#777"/><circle cx="349.1" cy="73.6" r="0.33" fill="#777"/><circle cx="342.2" cy="37.3" r="0.33" fill="#777"/><circle cx="409.2" cy="89.3" r="0.33" fill="#777"/><circle cx="365.9" cy="97.0" r="0.33" fill="#777"/><circle cx="371.8" cy="89.8" r="0.33" fill="#777"/><circle cx="396.0" cy="58.5" r="0.33" fill="#777"/><circle cx="394.2" cy="61.3" r="0.33" fill="#777"/><circle cx="402.6" cy="101.2" r="0.33" fill="#777"/><circle cx="399.4" cy="44.7" r="0.33" fill="#777"/><circle cx="331.3" cy="48.6" r="0.33" fill="#777"/><circle cx="339.8" cy="34.1" r="0.33" fill="#777"/><circle cx="387.5" cy="60.1" r="0.33" fill="#777"/><circle cx="356.3" cy="39.5" r="0.33" fill="#777"/><circle cx="373.4" cy="71.5" r="0.33" fill="#777"/><circle cx="347.0" cy="68.3" r="0.33" fill="#777"/><circle cx="355.3" cy="44.4" r="0.33" fill="#777"/><circle cx="351.5" cy="73.4" r="0.33" fill="#777"/><circle cx="399.5" cy="88.6" r="0.33" fill="#777"/><circle cx="368.6" cy="91.3" r="0.33" fill="#777"/><circle cx="401.5" cy="91.3" r="0.33" fill="#777"/><circle cx="361.4" cy="82.8" r="0.33" fill="#777"/><circle cx="393.4" cy="76.5" r="0.33" fill="#777"/><circle cx="373.2" cy="70.7" r="0.33" fill="#777"/><circle cx="341.8" cy="50.7" r="0.33" fill="#777"/><circle cx="356.3" cy="59.6" r="0.33" fill="#777"/><circle cx="363.4" cy="40.1" r="0.33" fill="#777"/><circle cx="387.6" cy="36.4" r="0.33" fill="#777"/><circle cx="383.8" cy="56.6" r="0.33" fill="#777"/><circle cx="388.6" cy="59.0" r="0.33" fill="#777"/><circle cx="352.2" cy="71.0" r="0.33" fill="#777"/><circle cx="390.6" cy="76.6" r="0.33" fill="#777"/><circle cx="394.5" cy="47.8" r="0.33" fill="#777"/><circle cx="375.4" cy="72.9" r="0.33" fill="#777"/><circle cx="382.9" cy="59.1" r="0.33" fill="#777"/><circle cx="365.5" cy="39.5" r="0.33" fill="#777"/><circle cx="358.7" cy="68.8" r="0.33" fill="#777"/><circle cx="374.9" cy="70.0" r="0.33" fill="#777"/><circle cx="356.5" cy="72.6" r="0.33" fill="#777"/><circle cx="397.5" cy="55.7" r="0.33" fill="#777"/><circle cx="355.0" cy="40.9" r="0.33" fill="#777"/><circle cx="388.6" cy="86.2" r="0.33" fill="#777"/><circle cx="333.9" cy="35.6" r="0.33" fill="#777"/><circle cx="378.2" cy="41.4" r="0.33" fill="#777"/><circle cx="406.1" cy="72.3" r="0.33" fill="#777"/><circle cx="335.6" cy="44.1" r="0.33" fill="#777"/><circle cx="366.9" cy="52.4" r="0.33" fill="#777"/><circle cx="360.1" cy="42.3" r="0.33" fill="#777"/><circle cx="344.8" cy="71.7" r="0.33" fill="#777"/><circle cx="405.4" cy="87.9" r="0.33" fill="#777"/><circle cx="346.1" cy="56.7" r="0.33" fill="#777"/><circle cx="347.1" cy="73.6" r="0.33" fill="#777"/><circle cx="386.3" cy="75.9" r="0.33" fill="#777"/><circle cx="360.1" cy="60.7" r="0.33" fill="#777"/><circle cx="374.9" cy="34.4" r="0.33" fill="#777"/><circle cx="351.9" cy="55.7" r="0.33" fill="#777"/><circle cx="368.0" cy="69.2" r="0.33" fill="#777"/><circle cx="358.1" cy="42.6" r="0.33" fill="#777"/><circle cx="364.1" cy="59.7" r="0.33" fill="#777"/><circle cx="346.7" cy="75.2" r="0.33" fill="#777"/><circle cx="374.3" cy="42.6" r="0.33" fill="#777"/><circle cx="332.5" cy="53.6" r="0.33" fill="#777"/><circle cx="368.1" cy="40.7" r="0.33" fill="#777"/><circle cx="382.9" cy="92.9" r="0.33" fill="#777"/><circle cx="371.1" cy="68.1" r="0.33" fill="#777"/><circle cx="337.5" cy="89.2" r="0.33" fill="#777"/><circle cx="346.5" cy="63.1" r="0.33" fill="#777"/><circle cx="355.3" cy="77.5" r="0.33" fill="#777"/><circle cx="366.7" cy="54.5" r="0.33" fill="#777"/><circle cx="350.7" cy="43.2" r="0.33" fill="#777"/><circle cx="362.7" cy="47.0" r="0.33" fill="#777"/><circle cx="398.4" cy="85.4" r="0.33" fill="#777"/><circle cx="358.7" cy="47.3" r="0.33" fill="#777"/><circle cx="400.0" cy="62.0" r="0.33" fill="#777"/><circle cx="335.1" cy="60.0" r="0.33" fill="#777"/><circle cx="373.9" cy="76.2" r="0.33" fill="#777"/><circle cx="375.3" cy="99.1" r="0.33" fill="#777"/><circle cx="351.8" cy="70.7" r="0.33" fill="#777"/><circle cx="393.2" cy="58.6" r="0.33" fill="#777"/><circle cx="374.3" cy="70.5" r="0.33" fill="#777"/><circle cx="328.9" cy="35.7" r="0.33" fill="#777"/><circle cx="333.1" cy="59.1" r="0.33" fill="#777"/><circle cx="366.5" cy="73.7" r="0.33" fill="#777"/><circle cx="396.4" cy="103.6" r="0.33" fill="#777"/><circle cx="374.7" cy="55.4" r="0.33" fill="#777"/><circle cx="344.8" cy="73.9" r="0.33" fill="#777"/><circle cx="383.2" cy="103.7" r="0.33" fill="#777"/><circle cx="399.2" cy="70.9" r="0.33" fill="#777"/><circle cx="331.3" cy="54.4" r="0.33" fill="#777"/><circle cx="394.4" cy="103.2" r="0.33" fill="#777"/><circle cx="333.1" cy="46.1" r="0.33" fill="#777"/><circle cx="368.5" cy="45.5" r="0.33" fill="#777"/><circle cx="370.5" cy="61.8" r="0.33" fill="#777"/><circle cx="388.9" cy="93.3" r="0.33" fill="#777"/><circle cx="384.7" cy="48.1" r="0.33" fill="#777"/><circle cx="371.2" cy="43.7" r="0.33" fill="#777"/><circle cx="356.1" cy="51.4" r="0.33" fill="#777"/><circle cx="372.3" cy="49.9" r="0.33" fill="#777"/><circle cx="395.9" cy="107.2" r="0.33" fill="#777"/><circle cx="361.1" cy="44.6" r="0.33" fill="#777"/><circle cx="387.3" cy="48.4" r="0.33" fill="#777"/><circle cx="388.8" cy="80.1" r="0.33" fill="#777"/><circle cx="393.1" cy="100.6" r="0.33" fill="#777"/><circle cx="390.8" cy="86.0" r="0.33" fill="#777"/><circle cx="391.2" cy="61.2" r="0.33" fill="#777"/><circle cx="338.2" cy="48.2" r="0.33" fill="#777"/><circle cx="367.7" cy="94.5" r="0.33" fill="#777"/><circle cx="363.7" cy="59.8" r="0.33" fill="#777"/><circle cx="394.3" cy="38.5" r="0.33" fill="#777"/><circle cx="346.8" cy="72.7" r="0.33" fill="#777"/><circle cx="372.8" cy="61.2" r="0.33" fill="#777"/><circle cx="346.2" cy="68.0" r="0.33" fill="#777"/><circle cx="330.8" cy="38.4" r="0.33" fill="#777"/><circle cx="340.4" cy="59.9" r="0.33" fill="#777"/><circle cx="393.2" cy="58.1" r="0.33" fill="#777"/><circle cx="381.4" cy="69.9" r="0.33" fill="#777"/><circle cx="397.1" cy="100.2" r="0.33" fill="#777"/><circle cx="339.1" cy="85.2" r="0.33" fill="#777"/><circle cx="374.1" cy="50.2" r="0.33" fill="#777"/><circle cx="342.5" cy="67.6" r="0.33" fill="#777"/><circle cx="345.5" cy="72.4" r="0.33" fill="#777"/><circle cx="344.0" cy="60.6" r="0.33" fill="#777"/><circle cx="367.7" cy="106.5" r="0.33" fill="#777"/><circle cx="355.5" cy="49.9" r="0.33" fill="#777"/><circle cx="364.3" cy="40.0" r="0.33" fill="#777"/><circle cx="357.9" cy="52.8" r="0.33" fill="#777"/><circle cx="390.8" cy="98.2" r="0.33" fill="#777"/><circle cx="391.4" cy="106.8" r="0.33" fill="#777"/><circle cx="376.1" cy="92.0" r="0.33" fill="#777"/><circle cx="345.6" cy="75.5" r="0.33" fill="#777"/><circle cx="391.5" cy="100.0" r="0.33" fill="#777"/><circle cx="388.2" cy="102.8" r="0.33" fill="#777"/><circle cx="359.6" cy="43.1" r="0.33" fill="#777"/><circle cx="365.7" cy="42.8" r="0.33" fill="#777"/><circle cx="368.9" cy="64.2" r="0.33" fill="#777"/><circle cx="333.6" cy="68.0" r="0.33" fill="#777"/><circle cx="392.7" cy="58.9" r="0.33" fill="#777"/><circle cx="329.8" cy="60.9" r="0.33" fill="#777"/><circle cx="392.9" cy="58.9" r="0.33" fill="#777"/><circle cx="367.9" cy="51.1" r="0.33" fill="#777"/><circle cx="386.6" cy="76.2" r="0.33" fill="#777"/><circle cx="358.9" cy="72.6" r="0.33" fill="#777"/><circle cx="344.1" cy="42.0" r="0.33" fill="#777"/><circle cx="352.1" cy="62.7" r="0.33" fill="#777"/><circle cx="337.0" cy="93.6" r="0.33" fill="#777"/><circle cx="403.3" cy="82.1" r="0.33" fill="#777"/><circle cx="384.0" cy="61.5" r="0.33" fill="#777"/><circle cx="395.0" cy="80.2" r="0.33" fill="#777"/><circle cx="400.5" cy="48.9" r="0.33" fill="#777"/><circle cx="391.2" cy="105.0" r="0.33" fill="#777"/><circle cx="400.4" cy="75.5" r="0.33" fill="#777"/><circle cx="375.0" cy="73.9" r="0.33" fill="#777"/><circle cx="380.6" cy="42.7" r="0.33" fill="#777"/><circle cx="398.5" cy="77.4" r="0.33" fill="#777"/><circle cx="350.0" cy="63.7" r="0.33" fill="#777"/><circle cx="361.0" cy="68.0" r="0.33" fill="#777"/><circle cx="342.8" cy="36.3" r="0.33" fill="#777"/><circle cx="403.9" cy="67.7" r="0.33" fill="#777"/><circle cx="345.9" cy="74.6" r="0.33" fill="#777"/><circle cx="378.9" cy="37.7" r="0.33" fill="#777"/><circle cx="347.8" cy="61.7" r="0.33" fill="#777"/><circle cx="338.8" cy="50.0" r="0.33" fill="#777"/><circle cx="384.8" cy="102.2" r="0.33" fill="#777"/><circle cx="376.5" cy="80.9" r="0.33" fill="#777"/><circle cx="373.3" cy="78.4" r="0.33" fill="#777"/><circle cx="345.5" cy="61.5" r="0.33" fill="#777"/><circle cx="345.5" cy="41.8" r="0.33" fill="#777"/><circle cx="390.1" cy="45.7" r="0.33" fill="#777"/><circle cx="365.4" cy="57.8" r="0.33" fill="#777"/><circle cx="385.2" cy="57.1" r="0.33" fill="#777"/><circle cx="343.7" cy="79.8" r="0.33" fill="#777"/><circle cx="358.4" cy="77.4" r="0.33" fill="#777"/><circle cx="379.6" cy="51.4" r="0.33" fill="#777"/><circle cx="377.6" cy="57.3" r="0.33" fill="#777"/><circle cx="337.8" cy="65.6" r="0.33" fill="#777"/><circle cx="344.1" cy="73.0" r="0.33" fill="#777"/><circle cx="363.7" cy="38.5" r="0.33" fill="#777"/><circle cx="407.9" cy="76.2" r="0.33" fill="#777"/><circle cx="385.0" cy="77.2" r="0.33" fill="#777"/><circle cx="358.6" cy="68.6" r="0.33" fill="#777"/><circle cx="372.1" cy="75.1" r="0.33" fill="#777"/><circle cx="356.0" cy="69.8" r="0.33" fill="#777"/><circle cx="387.0" cy="43.0" r="0.33" fill="#777"/><circle cx="332.4" cy="46.2" r="0.33" fill="#777"/><circle cx="405.6" cy="89.1" r="0.33" fill="#777"/><circle cx="331.7" cy="70.3" r="0.33" fill="#777"/><circle cx="373.5" cy="76.8" r="0.33" fill="#777"/><circle cx="340.1" cy="68.4" r="0.33" fill="#777"/><circle cx="373.0" cy="71.2" r="0.33" fill="#777"/><circle cx="404.7" cy="93.3" r="0.33" fill="#777"/><circle cx="362.6" cy="59.5" r="0.33" fill="#777"/><circle cx="386.7" cy="43.6" r="0.33" fill="#777"/><circle cx="363.5" cy="62.7" r="0.33" fill="#777"/><circle cx="384.0" cy="31.1" r="0.33" fill="#777"/><circle cx="389.8" cy="78.5" r="0.33" fill="#777"/><circle cx="358.6" cy="57.9" r="0.33" fill="#777"/><circle cx="369.1" cy="70.5" r="0.33" fill="#777"/><circle cx="404.3" cy="86.7" r="0.33" fill="#777"/><circle cx="395.1" cy="67.1" r="0.33" fill="#777"/><circle cx="367.5" cy="52.1" r="0.33" fill="#777"/><circle cx="369.9" cy="38.3" r="0.33" fill="#777"/><circle cx="384.4" cy="45.1" r="0.33" fill="#777"/><circle cx="389.9" cy="109.3" r="0.33" fill="#777"/><circle cx="404.8" cy="65.9" r="0.33" fill="#777"/><circle cx="334.2" cy="62.1" r="0.33" fill="#777"/><circle cx="391.9" cy="70.0" r="0.33" fill="#777"/><circle cx="401.3" cy="95.9" r="0.33" fill="#777"/><circle cx="336.3" cy="64.0" r="0.33" fill="#777"/><circle cx="356.0" cy="97.8" r="0.33" fill="#777"/><circle cx="367.9" cy="55.4" r="0.33" fill="#777"/><circle cx="349.2" cy="54.8" r="0.33" fill="#777"/><circle cx="409.2" cy="97.9" r="0.33" fill="#777"/><circle cx="335.2" cy="61.2" r="0.33" fill="#777"/><circle cx="380.6" cy="98.6" r="0.33" fill="#777"/><circle cx="356.5" cy="45.2" r="0.33" fill="#777"/><circle cx="353.9" cy="51.3" r="0.33" fill="#777"/><circle cx="344.4" cy="73.0" r="0.33" fill="#777"/><circle cx="349.1" cy="75.6" r="0.33" fill="#777"/><circle cx="394.6" cy="87.7" r="0.33" fill="#777"/><circle cx="387.0" cy="47.0" r="0.33" fill="#777"/><circle cx="379.7" cy="73.8" r="0.33" fill="#777"/><circle cx="335.7" cy="61.7" r="0.33" fill="#777"/><circle cx="359.3" cy="64.2" r="0.33" fill="#777"/><circle cx="360.9" cy="70.2" r="0.33" fill="#777"/><circle cx="404.9" cy="65.0" r="0.33" fill="#777"/><circle cx="339.2" cy="47.0" r="0.33" fill="#777"/><circle cx="387.6" cy="48.3" r="0.33" fill="#777"/><circle cx="333.5" cy="68.4" r="0.33" fill="#777"/><circle cx="373.1" cy="80.5" r="0.33" fill="#777"/><circle cx="363.0" cy="39.8" r="0.33" fill="#777"/><circle cx="384.9" cy="87.6" r="0.33" fill="#777"/><circle cx="342.6" cy="72.6" r="0.33" fill="#777"/><circle cx="401.7" cy="89.2" r="0.33" fill="#777"/><circle cx="376.4" cy="56.5" r="0.33" fill="#777"/><circle cx="365.0" cy="89.7" r="0.33" fill="#777"/><circle cx="391.2" cy="77.7" r="0.33" fill="#777"/><circle cx="344.4" cy="43.3" r="0.33" fill="#777"/><circle cx="392.0" cy="55.8" r="0.33" fill="#777"/><circle cx="365.7" cy="56.5" r="0.33" fill="#777"/><circle cx="377.6" cy="96.9" r="0.33" fill="#777"/><circle cx="372.2" cy="51.7" r="0.33" fill="#777"/><circle cx="366.6" cy="42.3" r="0.33" fill="#777"/><circle cx="384.9" cy="45.4" r="0.33" fill="#777"/><circle cx="360.2" cy="64.8" r="0.33" fill="#777"/><circle cx="366.5" cy="66.9" r="0.33" fill="#777"/><circle cx="384.2" cy="48.1" r="0.33" fill="#777"/><circle cx="356.6" cy="76.9" r="0.33" fill="#777"/><circle cx="365.8" cy="53.0" r="0.33" fill="#777"/><circle cx="381.0" cy="88.8" r="0.33" fill="#777"/><circle cx="363.9" cy="73.0" r="0.33" fill="#777"/><circle cx="339.1" cy="44.9" r="0.33" fill="#777"/><circle cx="345.6" cy="71.6" r="0.33" fill="#777"/><circle cx="362.8" cy="37.7" r="0.33" fill="#777"/><circle cx="394.7" cy="100.4" r="0.33" fill="#777"/><circle cx="401.1" cy="96.0" r="0.33" fill="#777"/><circle cx="359.8" cy="95.2" r="0.33" fill="#777"/><circle cx="373.3" cy="38.0" r="0.33" fill="#777"/><circle cx="359.9" cy="37.8" r="0.33" fill="#777"/><circle cx="338.5" cy="41.8" r="0.33" fill="#777"/><circle cx="333.3" cy="68.4" r="0.33" fill="#777"/><circle cx="403.5" cy="32.0" r="0.33" fill="#777"/><circle cx="373.3" cy="83.4" r="0.33" fill="#777"/><circle cx="397.9" cy="62.0" r="0.33" fill="#777"/><circle cx="376.9" cy="97.8" r="0.33" fill="#777"/><circle cx="364.6" cy="50.5" r="0.33" fill="#777"/><circle cx="398.1" cy="80.8" r="0.33" fill="#777"/><circle cx="361.7" cy="45.3" r="0.33" fill="#777"/><circle cx="404.1" cy="89.8" r="0.33" fill="#777"/><circle cx="334.0" cy="46.5" r="0.33" fill="#777"/><circle cx="380.6" cy="72.4" r="0.33" fill="#777"/><circle cx="360.9" cy="78.1" r="0.33" fill="#777"/><circle cx="359.3" cy="47.7" r="0.33" fill="#777"/><circle cx="362.7" cy="67.5" r="0.33" fill="#777"/><circle cx="373.0" cy="55.4" r="0.33" fill="#777"/><circle cx="372.3" cy="67.0" r="0.33" fill="#777"/><circle cx="407.1" cy="83.4" r="0.33" fill="#777"/><circle cx="384.6" cy="44.4" r="0.33" fill="#777"/><circle cx="379.6" cy="69.1" r="0.33" fill="#777"/><circle cx="388.8" cy="46.6" r="0.33" fill="#777"/><circle cx="394.7" cy="99.8" r="0.33" fill="#777"/><circle cx="349.9" cy="34.8" r="0.33" fill="#777"/><circle cx="347.7" cy="71.9" r="0.33" fill="#777"/><circle cx="339.9" cy="45.0" r="0.33" fill="#777"/><circle cx="362.6" cy="72.9" r="0.33" fill="#777"/><circle cx="342.4" cy="52.5" r="0.33" fill="#777"/><circle cx="396.0" cy="103.1" r="0.33" fill="#777"/><circle cx="350.3" cy="55.6" r="0.33" fill="#777"/><circle cx="393.2" cy="105.6" r="0.33" fill="#777"/><circle cx="347.8" cy="50.8" r="0.33" fill="#777"/><circle cx="409.5" cy="99.8" r="0.33" fill="#777"/><circle cx="387.0" cy="80.0" r="0.33" fill="#777"/><circle cx="374.2" cy="62.8" r="0.33" fill="#777"/><circle cx="337.2" cy="40.3" r="0.33" fill="#777"/><circle cx="372.4" cy="93.9" r="0.33" fill="#777"/><circle cx="344.3" cy="72.2" r="0.33" fill="#777"/><circle cx="360.9" cy="43.3" r="0.33" fill="#777"/><circle cx="346.1" cy="60.6" r="0.33" fill="#777"/><circle cx="396.1" cy="64.9" r="0.33" fill="#777"/><circle cx="331.4" cy="59.0" r="0.33" fill="#777"/><circle cx="379.8" cy="77.4" r="0.33" fill="#777"/><circle cx="370.6" cy="52.6" r="0.33" fill="#777"/><circle cx="371.7" cy="87.2" r="0.33" fill="#777"/><circle cx="379.3" cy="56.7" r="0.33" fill="#777"/><circle cx="394.7" cy="60.9" r="0.33" fill="#777"/><circle cx="390.1" cy="47.6" r="0.33" fill="#777"/><circle cx="354.8" cy="93.9" r="0.33" fill="#777"/><circle cx="368.9" cy="96.8" r="0.33" fill="#777"/><circle cx="365.1" cy="67.7" r="0.33" fill="#777"/><circle cx="353.1" cy="47.3" r="0.33" fill="#777"/><circle cx="344.2" cy="52.9" r="0.33" fill="#777"/><circle cx="376.3" cy="98.5" r="0.33" fill="#777"/><circle cx="404.1" cy="78.5" r="0.33" fill="#777"/><circle cx="382.5" cy="91.3" r="0.33" fill="#777"/><circle cx="396.0" cy="100.6" r="0.33" fill="#777"/><circle cx="343.0" cy="67.5" r="0.33" fill="#777"/><circle cx="350.8" cy="83.2" r="0.33" fill="#777"/><circle cx="394.3" cy="79.5" r="0.33" fill="#777"/><circle cx="335.9" cy="62.3" r="0.33" fill="#777"/><circle cx="400.9" cy="74.9" r="0.33" fill="#777"/><circle cx="406.3" cy="90.6" r="0.33" fill="#777"/><circle cx="351.9" cy="44.3" r="0.33" fill="#777"/><circle cx="381.9" cy="44.8" r="0.33" fill="#777"/><circle cx="378.2" cy="49.2" r="0.33" fill="#777"/><circle cx="387.4" cy="44.8" r="0.33" fill="#777"/><circle cx="360.7" cy="66.4" r="0.33" fill="#777"/><circle cx="349.1" cy="72.9" r="0.33" fill="#777"/><circle cx="391.9" cy="76.7" r="0.33" fill="#777"/><circle cx="345.8" cy="42.7" r="0.33" fill="#777"/><circle cx="358.8" cy="43.1" r="0.33" fill="#777"/><circle cx="405.1" cy="94.5" r="0.33" fill="#777"/><circle cx="353.2" cy="62.0" r="0.33" fill="#777"/><circle cx="372.6" cy="50.1" r="0.33" fill="#777"/><circle cx="405.4" cy="57.8" r="0.33" fill="#777"/><circle cx="365.0" cy="42.6" r="0.33" fill="#777"/><circle cx="348.5" cy="54.3" r="0.33" fill="#777"/><circle cx="367.2" cy="77.3" r="0.33" fill="#777"/><circle cx="402.5" cy="98.8" r="0.33" fill="#777"/><circle cx="355.3" cy="66.6" r="0.33" fill="#777"/><circle cx="342.0" cy="47.8" r="0.33" fill="#777"/><circle cx="406.7" cy="87.2" r="0.33" fill="#777"/><circle cx="386.7" cy="35.5" r="0.33" fill="#777"/><circle cx="377.9" cy="41.3" r="0.33" fill="#777"/><circle cx="337.5" cy="45.5" r="0.33" fill="#777"/><circle cx="373.4" cy="87.1" r="0.33" fill="#777"/><circle cx="407.2" cy="51.1" r="0.33" fill="#777"/><circle cx="368.1" cy="39.3" r="0.33" fill="#777"/><circle cx="330.8" cy="55.0" r="0.33" fill="#777"/><circle cx="333.7" cy="66.4" r="0.33" fill="#777"/><circle cx="367.3" cy="75.0" r="0.33" fill="#777"/><circle cx="396.4" cy="75.7" r="0.33" fill="#777"/><circle cx="390.2" cy="83.3" r="0.33" fill="#777"/><circle cx="377.1" cy="35.7" r="0.33" fill="#777"/><circle cx="360.0" cy="63.9" r="0.33" fill="#777"/><circle cx="402.6" cy="65.7" r="0.33" fill="#777"/><circle cx="369.5" cy="87.1" r="0.33" fill="#777"/><circle cx="408.5" cy="81.9" r="0.33" fill="#777"/><circle cx="387.9" cy="55.7" r="0.33" fill="#777"/><circle cx="383.2" cy="56.4" r="0.33" fill="#777"/><circle cx="407.5" cy="63.8" r="0.33" fill="#777"/><circle cx="362.2" cy="67.8" r="0.33" fill="#777"/><circle cx="409.0" cy="95.8" r="0.33" fill="#777"/><circle cx="396.8" cy="65.3" r="0.33" fill="#777"/><circle cx="356.8" cy="50.7" r="0.33" fill="#777"/><circle cx="377.9" cy="67.4" r="0.33" fill="#777"/><circle cx="357.7" cy="69.3" r="0.33" fill="#777"/><circle cx="356.7" cy="62.5" r="0.33" fill="#777"/><circle cx="363.3" cy="76.8" r="0.33" fill="#777"/><circle cx="396.9" cy="53.1" r="0.33" fill="#777"/><circle cx="375.2" cy="95.6" r="0.33" fill="#777"/><circle cx="405.2" cy="77.2" r="0.33" fill="#777"/><circle cx="370.6" cy="83.6" r="0.33" fill="#777"/><circle cx="398.5" cy="101.6" r="0.33" fill="#777"/><circle cx="386.3" cy="64.5" r="0.33" fill="#777"/><circle cx="390.9" cy="52.1" r="0.33" fill="#777"/><circle cx="351.7" cy="59.0" r="0.33" fill="#777"/><circle cx="406.1" cy="46.9" r="0.33" fill="#777"/><circle cx="341.9" cy="53.0" r="0.33" fill="#777"/><circle cx="406.4" cy="63.3" r="0.33" fill="#777"/><circle cx="367.6" cy="73.2" r="0.33" fill="#777"/><circle cx="346.3" cy="55.7" r="0.33" fill="#777"/><circle cx="353.0" cy="72.1" r="0.33" fill="#777"/><circle cx="403.1" cy="93.3" r="0.33" fill="#777"/><circle cx="368.8" cy="42.5" r="0.33" fill="#777"/><circle cx="353.1" cy="71.5" r="0.33" fill="#777"/><circle cx="346.8" cy="39.5" r="0.33" fill="#777"/><circle cx="334.0" cy="59.8" r="0.33" fill="#777"/><circle cx="383.5" cy="101.6" r="0.33" fill="#777"/><circle cx="352.1" cy="70.0" r="0.33" fill="#777"/><circle cx="376.5" cy="57.0" r="0.33" fill="#777"/><circle cx="356.5" cy="55.4" r="0.33" fill="#777"/><circle cx="396.4" cy="58.3" r="0.33" fill="#777"/><circle cx="389.0" cy="83.5" r="0.33" fill="#777"/><circle cx="345.6" cy="56.9" r="0.33" fill="#777"/><circle cx="333.0" cy="59.8" r="0.33" fill="#777"/><circle cx="344.0" cy="39.5" r="0.33" fill="#777"/><circle cx="374.6" cy="73.0" r="0.33" fill="#777"/><circle cx="367.3" cy="76.3" r="0.33" fill="#777"/><circle cx="399.0" cy="63.1" r="0.33" fill="#777"/><circle cx="347.9" cy="76.0" r="0.33" fill="#777"/><circle cx="375.7" cy="52.8" r="0.33" fill="#777"/><circle cx="355.1" cy="63.4" r="0.33" fill="#777"/><circle cx="405.2" cy="90.6" r="0.33" fill="#777"/><circle cx="398.6" cy="80.6" r="0.33" fill="#777"/><circle cx="337.1" cy="40.0" r="0.33" fill="#777"/><circle cx="391.7" cy="91.1" r="0.33" fill="#777"/><circle cx="397.5" cy="81.7" r="0.33" fill="#777"/><circle cx="388.0" cy="52.7" r="0.33" fill="#777"/><circle cx="334.2" cy="49.1" r="0.33" fill="#777"/><circle cx="400.2" cy="75.5" r="0.33" fill="#777"/><circle cx="337.5" cy="32.2" r="0.33" fill="#777"/><circle cx="365.4" cy="76.2" r="0.33" fill="#777"/><circle cx="382.7" cy="52.3" r="0.33" fill="#777"/><circle cx="399.8" cy="106.6" r="0.33" fill="#777"/><circle cx="362.8" cy="69.5" r="0.33" fill="#777"/><circle cx="378.8" cy="39.6" r="0.33" fill="#777"/><circle cx="403.3" cy="72.9" r="0.33" fill="#777"/><circle cx="389.2" cy="71.1" r="0.33" fill="#777"/><circle cx="375.0" cy="42.0" r="0.33" fill="#777"/><circle cx="408.7" cy="77.2" r="0.33" fill="#777"/><circle cx="370.2" cy="48.7" r="0.33" fill="#777"/><circle cx="349.0" cy="58.1" r="0.33" fill="#777"/><circle cx="366.3" cy="65.8" r="0.33" fill="#777"/><circle cx="377.1" cy="62.7" r="0.33" fill="#777"/><circle cx="395.3" cy="63.8" r="0.33" fill="#777"/><circle cx="362.9" cy="66.6" r="0.33" fill="#777"/><circle cx="389.2" cy="40.1" r="0.33" fill="#777"/><circle cx="371.7" cy="33.4" r="0.33" fill="#777"/><circle cx="350.5" cy="75.4" r="0.33" fill="#777"/><circle cx="400.2" cy="85.3" r="0.33" fill="#777"/><circle cx="391.6" cy="103.5" r="0.33" fill="#777"/><circle cx="378.9" cy="53.2" r="0.33" fill="#777"/><circle cx="365.0" cy="96.1" r="0.33" fill="#777"/><circle cx="340.5" cy="35.1" r="0.33" fill="#777"/><circle cx="380.9" cy="57.1" r="0.33" fill="#777"/><circle cx="362.3" cy="78.9" r="0.33" fill="#777"/><circle cx="383.3" cy="65.1" r="0.33" fill="#777"/><circle cx="335.7" cy="64.8" r="0.33" fill="#777"/><circle cx="344.2" cy="40.9" r="0.33" fill="#777"/><circle cx="387.3" cy="43.7" r="0.33" fill="#777"/><circle cx="383.3" cy="55.5" r="0.33" fill="#777"/><circle cx="370.9" cy="54.6" r="0.33" fill="#777"/><circle cx="389.6" cy="65.0" r="0.33" fill="#777"/><circle cx="357.8" cy="68.4" r="0.33" fill="#777"/><circle cx="383.4" cy="48.4" r="0.33" fill="#777"/><circle cx="404.3" cy="100.8" r="0.33" fill="#777"/><circle cx="345.6" cy="65.0" r="0.33" fill="#777"/><circle cx="364.7" cy="38.2" r="0.33" fill="#777"/><circle cx="374.0" cy="84.9" r="0.33" fill="#777"/><circle cx="391.9" cy="53.5" r="0.33" fill="#777"/><circle cx="388.2" cy="70.4" r="0.33" fill="#777"/><circle cx="352.2" cy="35.1" r="0.33" fill="#777"/><circle cx="344.8" cy="53.5" r="0.33" fill="#777"/><circle cx="370.4" cy="87.4" r="0.33" fill="#777"/><circle cx="350.4" cy="57.7" r="0.33" fill="#777"/><circle cx="401.3" cy="89.3" r="0.33" fill="#777"/><circle cx="397.3" cy="59.0" r="0.33" fill="#777"/><circle cx="385.5" cy="82.3" r="0.33" fill="#777"/><circle cx="390.7" cy="100.1" r="0.33" fill="#777"/><circle cx="371.3" cy="49.3" r="0.33" fill="#777"/><circle cx="370.2" cy="43.9" r="0.33" fill="#777"/><circle cx="360.8" cy="75.3" r="0.33" fill="#777"/><circle cx="386.6" cy="43.4" r="0.33" fill="#777"/><circle cx="353.5" cy="59.7" r="0.33" fill="#777"/><circle cx="385.2" cy="58.2" r="0.33" fill="#777"/><circle cx="335.9" cy="65.6" r="0.33" fill="#777"/><circle cx="370.2" cy="42.5" r="0.33" fill="#777"/><circle cx="375.3" cy="102.4" r="0.33" fill="#777"/><circle cx="380.5" cy="45.5" r="0.33" fill="#777"/><circle cx="358.0" cy="76.2" r="0.33" fill="#777"/><circle cx="384.2" cy="61.9" r="0.33" fill="#777"/><circle cx="399.5" cy="74.3" r="0.33" fill="#777"/><circle cx="377.4" cy="58.2" r="0.33" fill="#777"/><circle cx="358.7" cy="46.5" r="0.33" fill="#777"/><circle cx="381.4" cy="45.0" r="0.33" fill="#777"/><circle cx="363.5" cy="57.7" r="0.33" fill="#777"/><circle cx="369.0" cy="69.9" r="0.33" fill="#777"/><circle cx="377.6" cy="99.2" r="0.33" fill="#777"/><circle cx="360.6" cy="66.6" r="0.33" fill="#777"/><circle cx="344.0" cy="41.1" r="0.33" fill="#777"/><circle cx="367.6" cy="50.5" r="0.33" fill="#777"/><circle cx="367.7" cy="88.3" r="0.33" fill="#777"/><circle cx="336.7" cy="69.8" r="0.33" fill="#777"/><circle cx="350.2" cy="55.4" r="0.33" fill="#777"/><circle cx="365.7" cy="40.3" r="0.33" fill="#777"/><circle cx="332.4" cy="58.0" r="0.33" fill="#777"/><circle cx="349.3" cy="50.7" r="0.33" fill="#777"/><circle cx="383.7" cy="56.8" r="0.33" fill="#777"/><circle cx="356.8" cy="72.1" r="0.33" fill="#777"/><circle cx="332.5" cy="59.9" r="0.33" fill="#777"/><circle cx="374.0" cy="57.3" r="0.33" fill="#777"/><circle cx="404.9" cy="99.5" r="0.33" fill="#777"/><circle cx="373.9" cy="53.0" r="0.33" fill="#777"/><circle cx="390.7" cy="94.7" r="0.33" fill="#777"/><circle cx="365.4" cy="76.1" r="0.33" fill="#777"/><circle cx="393.2" cy="50.7" r="0.33" fill="#777"/><circle cx="394.0" cy="79.2" r="0.33" fill="#777"/><circle cx="393.4" cy="107.0" r="0.33" fill="#777"/><circle cx="399.0" cy="67.1" r="0.33" fill="#777"/><circle cx="349.1" cy="59.6" r="0.33" fill="#777"/><circle cx="376.2" cy="66.0" r="0.33" fill="#777"/><circle cx="388.5" cy="49.6" r="0.33" fill="#777"/><circle cx="404.0" cy="92.6" r="0.33" fill="#777"/><circle cx="340.1" cy="46.3" r="0.33" fill="#777"/><circle cx="380.3" cy="61.8" r="0.33" fill="#777"/><circle cx="354.4" cy="38.0" r="0.33" fill="#777"/><circle cx="388.2" cy="47.8" r="0.33" fill="#777"/><circle cx="354.9" cy="48.5" r="0.33" fill="#777"/><circle cx="365.7" cy="58.6" r="0.33" fill="#777"/><circle cx="388.0" cy="85.1" r="0.33" fill="#777"/><circle cx="346.6" cy="39.2" r="0.33" fill="#777"/><circle cx="376.0" cy="49.9" r="0.33" fill="#777"/><circle cx="394.6" cy="79.8" r="0.33" fill="#777"/><circle cx="348.9" cy="47.0" r="0.33" fill="#777"/><circle cx="362.2" cy="63.3" r="0.33" fill="#777"/><circle cx="357.5" cy="67.8" r="0.33" fill="#777"/><circle cx="384.7" cy="95.6" r="0.33" fill="#777"/><circle cx="332.4" cy="91.1" r="0.33" fill="#777"/><circle cx="365.4" cy="58.2" r="0.33" fill="#777"/><circle cx="331.6" cy="59.9" r="0.33" fill="#777"/><circle cx="362.8" cy="106.2" r="0.33" fill="#777"/><circle cx="333.6" cy="47.4" r="0.33" fill="#777"/><circle cx="401.4" cy="69.8" r="0.33" fill="#777"/><path d="M391.2,99.6L390.7,99.6L390.2,99.7L389.7,99.7L389.2,99.8L388.7,99.8L388.2,99.8L387.7,99.8L387.2,99.8L386.7,99.8L386.2,99.7L385.7,99.7L385.2,99.6L384.9,99.6L384.4,99.5L383.9,99.4L383.6,99.3L383.2,99.2L382.7,99.1L382.4,99.0L381.9,98.9L381.7,98.8L381.2,98.6L380.9,98.5L380.5,98.3L380.2,98.2L379.9,98.0L379.5,97.8L379.2,97.6L378.9,97.5L378.6,97.3L378.3,97.1L377.9,96.8L377.7,96.6L377.4,96.4L377.2,96.2L376.9,96.0L376.7,95.7L376.4,95.5L376.2,95.2L375.9,94.8L375.7,94.6L375.6,94.3L375.4,94.1L375.2,93.6L375.0,93.3L374.9,93.1L374.7,92.6L374.6,92.3L374.5,91.8L374.4,91.4L374.4,91.1L374.3,90.6L374.3,90.1L374.3,89.6L374.2,89.1L374.2,88.6L374.2,88.1L374.2,87.6L374.2,87.2L374.1,86.8L374.1,86.3L374.0,85.8L373.9,85.3L373.9,85.1L373.8,84.6L373.7,84.1L373.7,83.6L373.7,83.3L373.6,82.8L373.6,82.3L373.6,81.8L373.6,81.3L373.6,80.8L373.6,80.3L373.7,79.8L373.7,79.6L373.8,79.1L373.9,78.6L373.9,78.3L374.0,77.8L374.2,77.4L374.3,77.1L374.4,76.6L374.5,76.3L374.7,75.9L374.8,75.6L374.9,75.3L375.2,74.8L375.3,74.6L375.4,74.3L375.7,73.9L375.9,73.6L376.0,73.3L376.2,73.1L376.4,72.7L376.7,72.3L376.8,72.1L377.0,71.8L377.2,71.3L377.2,71.1L377.2,70.6L377.0,70.3L376.8,70.1L376.6,69.8L376.2,69.6L375.9,69.5L375.6,69.3L375.2,69.2L374.7,69.1L374.4,69.0L373.9,68.9L373.4,68.8L373.2,68.8L372.7,68.7L372.2,68.7L371.7,68.6L371.3,68.6L370.9,68.5L370.4,68.4L369.9,68.4L369.7,68.3L369.2,68.2L368.7,68.1L368.4,68.0L367.9,67.9L367.6,67.8L367.2,67.7L366.8,67.6L366.4,67.5L366.0,67.3L365.7,67.2L365.4,67.1L364.9,66.9L364.7,66.8L364.2,66.6L363.9,66.5L363.6,66.3L363.2,66.2L362.9,66.1L362.4,65.9L362.2,65.8L361.7,65.7L361.2,65.6L360.7,65.6L360.2,65.7L359.9,65.8L359.4,66.0L359.2,66.2L358.9,66.4L358.6,66.6L358.3,66.8L358.0,67.1L357.7,67.3L357.4,67.5L357.2,67.7L356.9,67.9L356.7,68.1L356.4,68.3L356.0,68.6L355.7,68.8L355.4,69.0L355.2,69.1L354.8,69.3L354.4,69.5L354.2,69.6L353.8,69.8L353.4,70.0L353.2,70.1L352.7,70.3L352.4,70.3L351.9,70.5L351.6,70.6L351.2,70.7L350.7,70.8L350.4,70.8L349.9,70.9L349.4,70.9L348.9,71.0L348.4,71.0L347.9,71.0L347.4,70.9L346.9,70.9L346.6,70.8L346.2,70.8L345.7,70.7L345.3,70.6L344.9,70.5L344.5,70.3L344.2,70.2L343.8,70.1L343.4,69.9L343.2,69.8L342.7,69.6L342.4,69.5L342.2,69.3L341.7,69.1L341.4,68.9L341.2,68.7L340.9,68.5L340.6,68.3L340.3,68.1L340.0,67.8L339.7,67.6L339.5,67.3L339.2,67.1L339.0,66.8L338.7,66.6L338.5,66.3L338.3,66.1L338.1,65.8L337.9,65.6L337.7,65.2L337.4,64.9L337.2,64.6L337.1,64.3L336.9,64.0L336.7,63.6L336.5,63.3L336.4,63.1L336.2,62.6L336.1,62.3L335.9,61.8L335.8,61.6L335.7,61.1L335.6,60.8L335.5,60.3L335.4,60.0L335.3,59.6L335.3,59.1L335.2,58.6L335.2,58.2L335.2,57.8L335.1,57.3L335.1,56.8L335.2,56.3L335.2,56.1L335.2,55.6L335.3,55.1L335.4,54.6L335.4,54.3L335.5,53.8L335.6,53.3L335.7,53.1L335.9,52.6L336.0,52.3L336.2,51.8L336.3,51.6L336.4,51.2L336.6,50.8L336.7,50.6L336.9,50.2L337.1,49.8L337.3,49.6L337.5,49.3L337.7,49.0L337.9,48.7L338.2,48.3L338.4,48.1L338.6,47.8L338.8,47.6L339.1,47.3L339.3,47.1L339.6,46.8L339.9,46.6L340.2,46.3L340.4,46.1L340.7,45.9L340.9,45.7L341.2,45.6L341.6,45.3L341.9,45.1L342.2,45.0L342.4,44.8L342.9,44.6L343.2,44.5L343.5,44.3L343.9,44.2L344.2,44.1L344.7,43.9L345.0,43.8L345.4,43.7L345.9,43.6L346.2,43.6L346.7,43.5L347.2,43.4L347.7,43.4L348.2,43.4L348.7,43.4L349.2,43.4L349.7,43.4L350.2,43.5L350.6,43.6L350.9,43.6L351.4,43.7L351.8,43.8L352.2,43.9L352.6,44.1L352.9,44.2L353.3,44.3L353.7,44.5L353.9,44.6L354.4,44.8L354.7,45.0L354.9,45.1L355.4,45.3L355.7,45.5L355.9,45.6L356.3,45.8L356.7,46.1L356.9,46.2L357.2,46.3L357.7,46.6L357.9,46.7L358.3,46.8L358.7,46.9L359.2,47.0L359.7,46.9L360.2,46.8L360.4,46.8L360.9,46.6L361.2,46.4L361.4,46.3L361.9,46.1L362.2,45.9L362.4,45.8L362.8,45.6L363.2,45.4L363.4,45.2L363.7,45.1L364.2,44.9L364.4,44.7L364.8,44.6L365.2,44.4L365.4,44.3L365.9,44.1L366.2,44.0L366.7,43.8L366.9,43.7L367.4,43.6L367.7,43.5L368.2,43.4L368.4,43.3L368.9,43.2L369.4,43.1L369.7,43.1L370.2,43.0L370.7,42.9L371.2,42.9L371.5,42.8L371.9,42.8L372.4,42.8L372.9,42.7L373.4,42.7L373.9,42.7L374.4,42.8L374.9,42.8L375.3,42.8L375.7,42.9L376.2,42.9L376.7,43.0L377.2,43.1L377.4,43.1L377.9,43.2L378.4,43.3L378.7,43.4L379.2,43.5L379.4,43.6L379.9,43.8L380.2,43.9L380.7,44.0L380.9,44.1L381.4,44.3L381.7,44.4L382.0,44.6L382.4,44.8L382.7,44.9L383.0,45.1L383.4,45.3L383.7,45.5L383.9,45.6L384.2,45.8L384.6,46.1L384.9,46.3L385.2,46.5L385.4,46.7L385.7,46.9L385.9,47.1L386.2,47.4L386.4,47.6L386.7,47.9L386.9,48.1L387.2,48.4L387.4,48.7L387.7,49.0L387.9,49.3L388.1,49.6L388.3,49.8L388.4,50.1L388.7,50.5L388.8,50.8L389.0,51.1L389.2,51.5L389.3,51.8L389.4,52.1L389.6,52.6L389.7,52.9L389.8,53.3L389.9,53.8L390.0,54.1L390.1,54.6L390.2,55.1L390.2,55.3L390.3,55.8L390.4,56.3L390.4,56.6L390.5,57.1L390.7,57.6L390.7,57.8L390.9,58.3L391.0,58.6L391.2,58.9L391.4,59.3L391.6,59.6L391.7,59.8L391.9,60.1L392.2,60.5L392.4,60.8L392.7,61.1L392.9,61.3L393.1,61.6L393.3,61.8L393.5,62.1L393.7,62.3L393.9,62.6L394.2,62.9L394.4,63.1L394.7,63.4L394.9,63.7L395.2,64.0L395.4,64.3L395.6,64.6L395.8,64.8L396.0,65.1L396.2,65.3L396.4,65.7L396.7,66.1L396.9,66.3L397.0,66.6L397.2,66.8L397.4,67.3L397.6,67.6L397.7,67.8L397.9,68.2L398.1,68.6L398.2,68.8L398.4,69.3L398.5,69.6L398.6,70.1L398.7,70.3L398.8,70.8L398.9,71.3L398.9,71.8L398.9,72.3L398.8,72.8L398.7,73.3L398.6,73.6L398.4,73.8L398.2,74.2L397.9,74.5L397.7,74.7L397.4,74.9L397.1,75.1L396.7,75.3L396.4,75.4L395.9,75.6L395.7,75.6L395.2,75.7L394.7,75.8L394.2,75.8L393.7,75.8L393.2,75.8L392.7,75.7L392.2,75.7L391.7,75.6L391.4,75.6L390.9,75.5L390.4,75.3L390.2,75.3L389.7,75.2L389.4,75.1L388.9,74.9L388.6,74.8L388.2,74.7L387.8,74.6L387.4,74.4L387.1,74.3L386.7,74.2L386.2,74.1L385.9,74.0L385.4,73.9L384.9,73.9L384.4,73.9L384.2,74.1L383.9,74.3L383.7,74.8L383.6,75.1L383.6,75.6L383.5,76.1L383.5,76.6L383.4,77.1L383.4,77.4L383.4,77.8L383.4,78.3L383.4,78.8L383.4,79.3L383.4,79.8L383.5,80.1L383.7,80.4L383.9,80.6L384.4,80.8L384.7,80.9L385.2,80.9L385.7,80.8L385.9,80.8L386.4,80.7L386.9,80.7L387.4,80.6L387.8,80.6L388.2,80.5L388.7,80.5L389.2,80.5L389.7,80.4L390.2,80.4L390.7,80.4L391.2,80.4L391.7,80.5L392.2,80.5L392.7,80.6L392.9,80.6L393.4,80.7L393.9,80.7L394.3,80.8L394.7,80.9L395.2,81.0L395.4,81.1L395.9,81.2L396.2,81.3L396.7,81.5L396.9,81.6L397.4,81.8L397.7,81.9L398.0,82.1L398.4,82.3L398.7,82.4L399.0,82.6L399.4,82.8L399.7,83.0L399.9,83.2L400.2,83.4L400.4,83.6L400.7,83.8L401.0,84.1L401.3,84.3L401.5,84.6L401.8,84.8L402.0,85.1L402.2,85.3L402.4,85.7L402.7,86.1L402.8,86.3L402.9,86.6L403.1,87.1L403.2,87.3L403.4,87.8L403.5,88.1L403.5,88.6L403.6,89.1L403.6,89.6L403.6,90.1L403.5,90.6L403.4,91.0L403.3,91.3L403.2,91.8L403.1,92.1L402.9,92.4L402.7,92.8L402.6,93.1L402.4,93.3L402.2,93.7L401.9,94.0L401.7,94.3L401.5,94.6L401.3,94.8L401.0,95.1L400.8,95.3L400.5,95.6L400.2,95.8L399.9,96.0L399.7,96.2L399.4,96.4L399.2,96.6L398.8,96.8L398.4,97.1L398.2,97.2L397.9,97.4L397.5,97.6L397.2,97.8L396.9,97.9L396.5,98.1L396.2,98.2L395.9,98.3L395.4,98.5L395.2,98.6L394.7,98.8L394.4,98.9L393.9,99.0L393.6,99.1L393.2,99.2L392.7,99.3L392.4,99.4L391.9,99.5L391.4,99.5L391.2,99.6 M393.9,73.6L393.4,73.7L392.9,73.7L392.4,73.8L391.9,73.8L391.4,73.7L390.9,73.7L390.4,73.6L390.2,73.6L389.7,73.5L389.2,73.3L388.9,73.3L388.4,73.1L388.2,73.1L387.7,72.9L387.4,72.8L386.9,72.7L386.7,72.6L386.2,72.4L385.9,72.3L385.4,72.1L385.2,72.1L384.7,71.9L384.4,71.8L383.9,71.7L383.6,71.6L383.2,71.5L382.7,71.3L382.4,71.3L381.9,71.1L381.7,71.0L381.3,70.8L380.9,70.6L380.7,70.4L380.4,70.2L380.2,70.0L379.9,69.8L379.6,69.6L379.3,69.3L378.9,69.1L378.7,68.9L378.4,68.8L378.1,68.6L377.7,68.4L377.4,68.3L376.9,68.1L376.7,68.0L376.2,67.8L375.9,67.8L375.4,67.6L375.1,67.6L374.7,67.5L374.2,67.4L373.7,67.3L373.4,67.3L372.9,67.2L372.4,67.2L371.9,67.1L371.7,67.0L371.2,67.0L370.7,66.9L370.4,66.8L369.9,66.7L369.4,66.6L369.2,66.6L368.7,66.4L368.3,66.3L367.9,66.2L367.6,66.1L367.2,65.9L366.9,65.8L366.4,65.7L366.2,65.5L365.7,65.3L365.4,65.2L365.2,65.1L364.7,64.8L364.4,64.7L364.2,64.6L363.7,64.3L363.4,64.2L363.2,64.0L362.8,63.8L362.4,63.6L362.2,63.5L361.9,63.3L361.4,63.2L361.1,63.1L360.7,63.0L360.2,63.0L359.9,63.1L359.4,63.3L359.2,63.5L358.9,63.7L358.7,63.9L358.4,64.1L358.2,64.3L357.9,64.6L357.7,64.8L357.4,65.1L357.2,65.3L356.9,65.6L356.6,65.8L356.3,66.1L356.0,66.3L355.7,66.6L355.4,66.8L355.2,67.0L354.9,67.2L354.7,67.3L354.3,67.6L353.9,67.8L353.7,67.9L353.4,68.1L352.9,68.3L352.7,68.4L352.2,68.6L351.9,68.7L351.4,68.8L351.2,68.9L350.7,69.0L350.2,69.1L349.9,69.1L349.4,69.2L348.9,69.2L348.4,69.2L347.9,69.2L347.4,69.2L346.9,69.1L346.5,69.1L346.2,69.0L345.7,68.9L345.4,68.8L344.9,68.7L344.6,68.6L344.2,68.4L343.9,68.3L343.4,68.1L343.2,68.0L342.9,67.8L342.5,67.6L342.2,67.4L341.9,67.2L341.7,67.0L341.4,66.8L341.1,66.6L340.8,66.3L340.5,66.1L340.3,65.8L340.0,65.6L339.8,65.3L339.6,65.1L339.4,64.8L339.2,64.6L338.9,64.2L338.7,63.9L338.5,63.6L338.3,63.3L338.2,63.0L337.9,62.6L337.8,62.3L337.7,62.0L337.5,61.6L337.4,61.3L337.2,60.8L337.2,60.6L337.0,60.1L336.9,59.6L336.9,59.3L336.8,58.8L336.7,58.3L336.7,57.8L336.7,57.5L336.7,57.1L336.7,56.6L336.7,56.3L336.7,55.8L336.8,55.3L336.9,54.8L336.9,54.5L337.0,54.1L337.2,53.6L337.2,53.3L337.4,52.8L337.5,52.6L337.7,52.1L337.8,51.8L337.9,51.6L338.2,51.1L338.3,50.8L338.5,50.6L338.7,50.3L338.9,49.9L339.2,49.6L339.3,49.3L339.5,49.1L339.8,48.8L340.0,48.6L340.2,48.3L340.5,48.1L340.8,47.8L341.1,47.6L341.4,47.3L341.7,47.1L341.9,46.9L342.2,46.8L342.5,46.6L342.9,46.3L343.2,46.2L343.4,46.1L343.9,45.8L344.2,45.7L344.6,45.6L344.9,45.5L345.4,45.3L345.7,45.2L346.2,45.1L346.5,45.1L346.9,45.0L347.4,45.0L347.9,44.9L348.4,44.9L348.9,44.9L349.4,45.0L349.9,45.0L350.2,45.1L350.7,45.2L351.2,45.3L351.4,45.4L351.9,45.5L352.2,45.6L352.7,45.8L352.9,45.9L353.3,46.1L353.7,46.2L353.9,46.4L354.3,46.6L354.7,46.8L354.9,46.9L355.2,47.1L355.5,47.3L355.9,47.6L356.2,47.8L356.4,48.0L356.7,48.1L356.9,48.3L357.3,48.6L357.7,48.8L357.9,48.9L358.2,49.1L358.7,49.3L359.0,49.3L359.4,49.3L359.7,49.3L360.2,49.2L360.4,49.1L360.9,48.8L361.2,48.6L361.4,48.5L361.7,48.3L362.0,48.1L362.4,47.8L362.7,47.6L362.9,47.4L363.2,47.3L363.5,47.1L363.9,46.8L364.2,46.6L364.4,46.5L364.7,46.3L365.2,46.1L365.4,46.0L365.7,45.8L366.2,45.6L366.4,45.5L366.9,45.3L367.2,45.2L367.6,45.1L367.9,45.0L368.4,44.8L368.7,44.8L369.2,44.6L369.5,44.6L369.9,44.5L370.4,44.4L370.9,44.3L371.2,44.3L371.7,44.2L372.2,44.2L372.7,44.2L373.2,44.2L373.7,44.2L374.2,44.2L374.7,44.2L375.2,44.2L375.7,44.3L375.9,44.3L376.4,44.4L376.9,44.5L377.4,44.6L377.7,44.6L378.2,44.8L378.4,44.8L378.9,45.0L379.2,45.1L379.7,45.2L379.9,45.3L380.4,45.5L380.7,45.6L381.1,45.8L381.4,46.0L381.7,46.1L382.1,46.3L382.4,46.5L382.7,46.7L382.9,46.8L383.3,47.1L383.6,47.3L383.9,47.5L384.2,47.7L384.4,48.0L384.7,48.2L384.9,48.4L385.2,48.7L385.4,48.9L385.7,49.2L385.9,49.5L386.2,49.8L386.4,50.1L386.5,50.3L386.7,50.6L386.9,51.0L387.1,51.3L387.3,51.6L387.4,51.9L387.6,52.3L387.7,52.6L387.9,53.1L387.9,53.3L388.1,53.8L388.2,54.2L388.3,54.6L388.4,55.1L388.4,55.4L388.5,55.8L388.6,56.3L388.7,56.7L388.8,57.1L388.9,57.6L389.0,57.8L389.1,58.3L389.3,58.6L389.4,59.0L389.6,59.3L389.8,59.6L389.9,59.8L390.2,60.2L390.4,60.6L390.6,60.8L390.8,61.1L391.0,61.3L391.2,61.6L391.4,61.8L391.7,62.1L391.9,62.4L392.2,62.7L392.4,63.0L392.7,63.3L392.9,63.6L393.1,63.8L393.3,64.1L393.5,64.3L393.7,64.6L393.9,64.9L394.2,65.2L394.4,65.6L394.6,65.8L394.8,66.1L394.9,66.3L395.2,66.7L395.4,67.1L395.5,67.3L395.7,67.7L395.8,68.1L395.9,68.3L396.1,68.8L396.2,69.1L396.3,69.6L396.4,70.1L396.4,70.6L396.4,71.1L396.2,71.6L396.2,71.8L395.9,72.3L395.7,72.6L395.4,72.8L395.2,73.0L394.9,73.2L394.6,73.3L394.2,73.5L393.9,73.6 M390.4,98.6L389.9,98.6L389.4,98.7L388.9,98.7L388.4,98.7L387.9,98.7L387.4,98.7L386.9,98.7L386.4,98.6L386.0,98.6L385.7,98.5L385.2,98.5L384.7,98.4L384.4,98.3L383.9,98.2L383.5,98.1L383.2,98.0L382.7,97.8L382.4,97.7L382.0,97.6L381.7,97.4L381.4,97.3L380.9,97.1L380.7,97.0L380.4,96.8L380.0,96.6L379.7,96.4L379.4,96.2L379.2,96.0L378.9,95.8L378.7,95.6L378.4,95.3L378.1,95.1L377.9,94.8L377.7,94.5L377.4,94.2L377.2,93.8L377.0,93.6L376.9,93.3L376.7,92.9L376.6,92.6L376.4,92.2L376.3,91.8L376.2,91.3L376.2,90.9L376.1,90.6L376.1,90.1L376.1,89.6L376.2,89.1L376.2,88.8L376.2,88.3L376.2,87.8L376.3,87.3L376.3,86.8L376.2,86.3L376.2,86.0L376.1,85.6L375.9,85.2L375.8,84.8L375.7,84.5L375.5,84.1L375.4,83.7L375.3,83.3L375.2,82.8L375.1,82.6L375.0,82.1L375.0,81.6L375.0,81.1L375.0,80.6L375.0,80.1L375.1,79.6L375.1,79.1L375.2,78.8L375.3,78.3L375.4,77.8L375.5,77.6L375.7,77.1L375.8,76.8L375.9,76.5L376.1,76.1L376.3,75.8L376.4,75.5L376.7,75.2L376.9,74.8L377.1,74.6L377.3,74.3L377.6,74.1L377.9,73.8L378.2,73.6L378.4,73.4L378.7,73.3L379.1,73.1L379.4,73.0L379.9,72.9L380.4,73.0L380.7,73.1L380.9,73.4L381.2,73.7L381.4,74.1L381.5,74.3L381.7,74.8L381.8,75.1L381.9,75.6L381.9,76.0L382.0,76.3L382.0,76.8L382.0,77.3L382.0,77.8L382.0,78.3L381.9,78.8L381.9,79.1L381.8,79.6L381.8,80.1L381.7,80.6L381.7,81.1L381.7,81.6L381.9,82.1L382.1,82.3L382.4,82.5L382.9,82.5L383.4,82.5L383.9,82.5L384.4,82.4L384.7,82.3L385.2,82.2L385.7,82.1L385.9,82.1L386.4,82.0L386.9,81.9L387.3,81.8L387.7,81.8L388.2,81.7L388.7,81.7L389.2,81.7L389.7,81.6L390.2,81.6L390.7,81.6L391.2,81.7L391.7,81.7L392.2,81.7L392.7,81.8L392.9,81.8L393.4,81.9L393.9,82.0L394.2,82.1L394.7,82.2L395.1,82.3L395.4,82.4L395.8,82.6L396.2,82.7L396.5,82.8L396.9,83.0L397.2,83.1L397.5,83.3L397.9,83.5L398.2,83.7L398.4,83.8L398.8,84.1L399.1,84.3L399.4,84.6L399.7,84.8L399.9,85.0L400.2,85.3L400.4,85.6L400.6,85.8L400.8,86.1L401.0,86.3L401.2,86.6L401.4,87.1L401.5,87.3L401.7,87.8L401.8,88.1L401.9,88.6L401.9,88.9L402.0,89.3L402.0,89.8L401.9,90.2L401.9,90.6L401.8,91.1L401.7,91.4L401.5,91.8L401.4,92.1L401.2,92.5L401.0,92.8L400.9,93.1L400.7,93.3L400.4,93.7L400.2,94.0L399.9,94.3L399.7,94.5L399.4,94.8L399.2,95.0L398.9,95.2L398.7,95.4L398.4,95.6L398.1,95.8L397.7,96.1L397.4,96.3L397.2,96.4L396.9,96.6L396.4,96.8L396.2,97.0L395.9,97.1L395.4,97.3L395.2,97.4L394.7,97.6L394.4,97.7L394.0,97.8L393.7,97.9L393.2,98.1L392.9,98.1L392.4,98.2L392.0,98.3L391.7,98.4L391.2,98.5L390.7,98.5L390.4,98.6 M392.2,71.9L391.7,72.0L391.2,72.0L390.7,72.0L390.2,72.0L389.7,72.0L389.2,71.9L388.9,71.8L388.4,71.7L387.9,71.6L387.7,71.5L387.2,71.4L386.9,71.3L386.4,71.1L386.2,71.0L385.7,70.9L385.4,70.8L384.9,70.6L384.7,70.5L384.3,70.3L383.9,70.2L383.7,70.1L383.2,69.8L382.9,69.7L382.6,69.6L382.2,69.4L381.9,69.2L381.6,69.1L381.2,68.8L380.9,68.7L380.7,68.5L380.3,68.3L379.9,68.1L379.7,68.0L379.4,67.8L378.9,67.6L378.7,67.5L378.3,67.3L377.9,67.2L377.6,67.1L377.2,66.9L376.8,66.8L376.4,66.7L375.9,66.6L375.7,66.5L375.2,66.4L374.7,66.3L374.4,66.3L373.9,66.2L373.4,66.1L373.0,66.1L372.7,66.0L372.2,65.9L371.7,65.9L371.4,65.8L370.9,65.7L370.4,65.6L370.2,65.6L369.7,65.4L369.3,65.3L368.9,65.2L368.5,65.1L368.2,65.0L367.8,64.8L367.4,64.7L367.1,64.6L366.7,64.4L366.4,64.3L366.1,64.1L365.7,63.9L365.4,63.7L365.1,63.6L364.7,63.3L364.4,63.1L364.2,63.0L363.9,62.8L363.6,62.6L363.3,62.3L363.0,62.1L362.7,61.9L362.4,61.7L362.2,61.5L361.9,61.3L361.6,61.1L361.2,60.8L360.9,60.7L360.5,60.6L360.2,60.5L359.9,60.6L359.4,60.8L359.2,61.0L358.9,61.2L358.7,61.4L358.4,61.7L358.2,62.0L357.9,62.3L357.7,62.6L357.5,62.8L357.3,63.1L357.1,63.3L356.9,63.6L356.7,63.8L356.4,64.1L356.2,64.4L355.9,64.6L355.7,64.9L355.4,65.1L355.2,65.3L354.9,65.6L354.5,65.8L354.2,66.1L353.9,66.2L353.7,66.4L353.4,66.6L352.9,66.8L352.7,66.9L352.4,67.1L351.9,67.3L351.7,67.3L351.2,67.5L350.9,67.6L350.4,67.7L349.9,67.8L349.6,67.8L349.2,67.9L348.7,67.9L348.2,67.9L347.7,67.9L347.2,67.8L346.9,67.8L346.4,67.7L345.9,67.6L345.7,67.6L345.2,67.4L344.9,67.3L344.4,67.1L344.2,67.0L343.8,66.8L343.4,66.6L343.2,66.5L342.9,66.3L342.5,66.1L342.2,65.8L341.9,65.6L341.7,65.4L341.4,65.2L341.2,65.0L340.9,64.7L340.7,64.4L340.4,64.1L340.2,63.8L340.0,63.6L339.8,63.3L339.6,63.1L339.4,62.7L339.2,62.3L339.1,62.1L338.9,61.8L338.7,61.3L338.6,61.1L338.5,60.6L338.4,60.3L338.2,59.8L338.2,59.6L338.1,59.1L338.0,58.6L337.9,58.1L337.9,57.8L337.9,57.3L337.9,56.8L337.9,56.3L337.9,56.1L338.0,55.6L338.1,55.1L338.2,54.6L338.2,54.3L338.4,53.8L338.4,53.6L338.6,53.1L338.7,52.8L338.9,52.3L339.0,52.1L339.2,51.8L339.4,51.4L339.6,51.1L339.8,50.8L339.9,50.6L340.2,50.3L340.4,49.9L340.7,49.7L340.9,49.4L341.2,49.1L341.4,48.9L341.7,48.7L341.9,48.5L342.2,48.3L342.4,48.1L342.8,47.8L343.2,47.6L343.4,47.5L343.7,47.3L344.2,47.1L344.4,47.0L344.8,46.8L345.2,46.7L345.6,46.6L345.9,46.5L346.4,46.4L346.7,46.3L347.2,46.2L347.7,46.2L348.2,46.2L348.7,46.2L349.2,46.2L349.7,46.3L350.0,46.3L350.4,46.4L350.9,46.5L351.2,46.6L351.7,46.8L351.9,46.8L352.4,47.0L352.7,47.2L353.0,47.3L353.4,47.5L353.7,47.7L353.9,47.8L354.3,48.1L354.7,48.3L354.9,48.5L355.2,48.7L355.4,48.9L355.7,49.1L355.9,49.3L356.2,49.6L356.5,49.8L356.8,50.1L357.1,50.3L357.3,50.6L357.6,50.8L357.9,51.1L358.2,51.3L358.4,51.4L358.7,51.6L359.2,51.7L359.7,51.7L360.1,51.6L360.4,51.4L360.7,51.2L360.9,51.0L361.2,50.8L361.4,50.5L361.7,50.3L361.9,50.1L362.2,49.8L362.5,49.6L362.7,49.3L363.0,49.1L363.3,48.8L363.6,48.6L363.9,48.3L364.2,48.2L364.4,48.0L364.7,47.8L365.1,47.6L365.4,47.4L365.7,47.2L365.9,47.1L366.4,46.8L366.7,46.7L367.0,46.6L367.4,46.4L367.7,46.3L368.2,46.1L368.4,46.0L368.9,45.9L369.2,45.8L369.7,45.7L370.2,45.6L370.4,45.6L370.9,45.5L371.4,45.4L371.9,45.4L372.4,45.3L372.7,45.3L373.2,45.3L373.7,45.3L374.2,45.3L374.5,45.3L374.9,45.4L375.4,45.4L375.9,45.5L376.4,45.6L376.7,45.6L377.2,45.7L377.7,45.8L377.9,45.9L378.4,46.0L378.7,46.1L379.2,46.3L379.4,46.4L379.9,46.6L380.2,46.7L380.4,46.8L380.9,47.1L381.2,47.2L381.4,47.4L381.8,47.6L382.2,47.8L382.4,48.0L382.7,48.2L382.9,48.4L383.2,48.6L383.5,48.8L383.7,49.1L384.0,49.3L384.2,49.6L384.5,49.8L384.7,50.1L384.9,50.4L385.2,50.7L385.4,51.1L385.5,51.3L385.7,51.6L385.9,52.0L386.1,52.3L386.2,52.6L386.4,53.1L386.5,53.3L386.6,53.8L386.7,54.1L386.8,54.6L386.9,55.0L387.0,55.3L387.1,55.8L387.2,56.3L387.2,56.6L387.4,57.1L387.4,57.4L387.6,57.8L387.7,58.2L387.8,58.6L387.9,58.8L388.2,59.3L388.3,59.6L388.4,59.8L388.7,60.2L388.9,60.6L389.1,60.8L389.3,61.1L389.5,61.3L389.7,61.6L389.9,61.9L390.2,62.2L390.4,62.5L390.7,62.8L390.9,63.1L391.1,63.3L391.3,63.6L391.5,63.8L391.7,64.1L391.9,64.3L392.2,64.7L392.4,65.0L392.6,65.3L392.8,65.6L393.0,65.8L393.2,66.2L393.4,66.6L393.5,66.8L393.7,67.2L393.8,67.6L393.9,67.8L394.1,68.3L394.2,68.8L394.2,69.1L394.2,69.6L394.2,69.8L394.1,70.3L393.9,70.6L393.7,71.0L393.4,71.3L393.2,71.4L392.9,71.6L392.4,71.8L392.2,71.9 M378.7,82.9L378.2,83.0L377.7,82.9L377.4,82.8L377.2,82.5L376.9,82.2L376.7,81.8L376.6,81.6L376.5,81.1L376.4,80.6L376.4,80.3L376.4,79.8L376.4,79.6L376.5,79.1L376.6,78.6L376.7,78.3L376.9,77.8L377.0,77.6L377.2,77.2L377.4,76.8L377.6,76.6L377.8,76.3L378.0,76.1L378.4,75.8L378.7,75.7L379.2,75.6L379.7,75.7L379.9,75.9L380.2,76.3L380.3,76.6L380.4,76.9L380.5,77.3L380.6,77.8L380.6,78.3L380.5,78.8L380.5,79.3L380.4,79.6L380.3,80.1L380.2,80.4L380.0,80.8L379.9,81.1L379.7,81.6L379.6,81.8L379.4,82.1L379.2,82.5L378.9,82.7L378.7,82.9 M390.9,97.6L390.4,97.7L389.9,97.7L389.4,97.8L388.9,97.8L388.4,97.8L387.9,97.8L387.4,97.8L386.9,97.8L386.4,97.7L385.9,97.6L385.6,97.6L385.2,97.5L384.7,97.4L384.4,97.3L383.9,97.2L383.5,97.1L383.2,97.0L382.8,96.8L382.4,96.7L382.2,96.5L381.7,96.3L381.4,96.2L381.2,96.0L380.9,95.8L380.5,95.6L380.2,95.3L379.9,95.1L379.7,94.9L379.4,94.7L379.2,94.4L378.9,94.1L378.7,93.8L378.5,93.6L378.4,93.3L378.2,92.9L378.0,92.6L377.9,92.3L377.8,91.8L377.7,91.3L377.6,91.1L377.6,90.6L377.6,90.1L377.7,89.6L377.7,89.3L377.8,88.8L377.9,88.3L378.0,88.1L378.2,87.6L378.3,87.3L378.4,87.0L378.6,86.6L378.8,86.3L378.9,86.1L379.2,85.8L379.4,85.5L379.7,85.3L380.0,85.1L380.4,84.9L380.7,84.7L381.1,84.6L381.4,84.4L381.8,84.3L382.2,84.2L382.5,84.1L382.9,83.9L383.2,83.8L383.7,83.7L384.0,83.6L384.4,83.4L384.8,83.3L385.2,83.2L385.7,83.1L385.9,83.0L386.4,82.9L386.9,82.8L387.2,82.8L387.7,82.7L388.2,82.7L388.7,82.6L389.2,82.6L389.4,82.6L389.9,82.6L390.4,82.6L390.8,82.6L391.2,82.6L391.7,82.6L392.2,82.7L392.7,82.8L393.0,82.8L393.4,82.9L393.9,83.0L394.2,83.1L394.7,83.2L394.9,83.3L395.4,83.5L395.7,83.6L396.2,83.8L396.4,83.9L396.7,84.1L397.1,84.3L397.4,84.5L397.7,84.7L397.9,84.9L398.2,85.1L398.5,85.3L398.8,85.6L399.0,85.8L399.2,86.1L399.4,86.3L399.7,86.6L399.9,87.0L400.1,87.3L400.2,87.6L400.4,88.1L400.5,88.3L400.6,88.8L400.6,89.3L400.6,89.8L400.6,90.3L400.5,90.8L400.4,91.1L400.3,91.6L400.1,91.8L399.9,92.3L399.8,92.6L399.6,92.8L399.4,93.1L399.2,93.4L398.9,93.7L398.7,94.0L398.4,94.2L398.2,94.4L397.9,94.7L397.7,94.9L397.4,95.1L397.0,95.3L396.7,95.6L396.4,95.7L396.2,95.9L395.8,96.1L395.4,96.3L395.2,96.4L394.7,96.6L394.4,96.7L394.1,96.8L393.7,97.0L393.3,97.1L392.9,97.2L392.4,97.3L392.2,97.4L391.7,97.5L391.2,97.6L390.9,97.6 M389.9,70.3L389.4,70.4L388.9,70.4L388.6,70.3L388.2,70.3L387.7,70.2L387.3,70.1L386.9,70.0L386.4,69.8L386.2,69.8L385.7,69.6L385.4,69.5L385.0,69.3L384.7,69.2L384.4,69.1L383.9,68.9L383.7,68.8L383.2,68.6L382.9,68.4L382.7,68.3L382.2,68.1L381.9,67.9L381.7,67.8L381.2,67.6L380.9,67.4L380.7,67.3L380.2,67.1L379.9,66.9L379.7,66.8L379.2,66.6L378.9,66.5L378.5,66.3L378.2,66.2L377.8,66.1L377.4,66.0L376.9,65.8L376.7,65.8L376.2,65.7L375.8,65.6L375.4,65.5L374.9,65.4L374.4,65.3L374.2,65.3L373.7,65.2L373.2,65.1L372.9,65.1L372.4,65.0L371.9,64.9L371.5,64.8L371.2,64.8L370.7,64.6L370.4,64.6L369.9,64.5L369.5,64.3L369.2,64.2L368.7,64.1L368.4,64.0L368.1,63.8L367.7,63.7L367.4,63.5L367.0,63.3L366.7,63.2L366.4,63.0L366.1,62.8L365.7,62.6L365.4,62.4L365.2,62.2L364.9,62.1L364.6,61.8L364.3,61.6L364.0,61.3L363.8,61.1L363.5,60.8L363.2,60.6L363.0,60.3L362.8,60.1L362.6,59.8L362.4,59.6L362.2,59.3L361.9,59.0L361.7,58.7L361.4,58.3L361.3,58.1L361.1,57.8L360.9,57.5L360.7,57.1L360.6,56.8L360.5,56.3L360.4,55.8L360.5,55.3L360.7,54.8L360.7,54.6L360.9,54.2L361.1,53.8L361.2,53.6L361.4,53.1L361.6,52.8L361.7,52.6L361.9,52.3L362.2,51.9L362.4,51.6L362.6,51.3L362.8,51.1L363.0,50.8L363.2,50.6L363.5,50.3L363.7,50.1L363.9,49.8L364.2,49.6L364.5,49.3L364.8,49.1L365.2,48.8L365.4,48.6L365.7,48.5L365.9,48.3L366.3,48.1L366.7,47.9L366.9,47.8L367.3,47.6L367.7,47.4L367.9,47.3L368.4,47.1L368.7,47.0L369.2,46.9L369.4,46.8L369.9,46.7L370.4,46.6L370.7,46.5L371.2,46.4L371.7,46.4L372.2,46.3L372.4,46.3L372.9,46.3L373.4,46.3L373.9,46.3L374.4,46.3L374.7,46.3L375.2,46.4L375.7,46.4L376.2,46.5L376.5,46.6L376.9,46.7L377.4,46.8L377.7,46.9L378.2,47.0L378.4,47.1L378.9,47.3L379.2,47.4L379.6,47.6L379.9,47.7L380.2,47.9L380.5,48.1L380.9,48.3L381.2,48.5L381.4,48.6L381.7,48.8L382.0,49.1L382.3,49.3L382.6,49.6L382.9,49.8L383.1,50.1L383.4,50.3L383.6,50.6L383.8,50.8L384.0,51.1L384.2,51.4L384.4,51.8L384.6,52.1L384.7,52.3L384.9,52.7L385.1,53.1L385.2,53.3L385.4,53.8L385.4,54.1L385.6,54.6L385.7,55.0L385.8,55.3L385.9,55.8L385.9,56.1L386.0,56.6L386.1,57.1L386.2,57.3L386.3,57.8L386.4,58.2L386.6,58.6L386.7,58.9L386.9,59.3L387.0,59.6L387.2,59.9L387.4,60.3L387.6,60.6L387.7,60.8L387.9,61.1L388.2,61.5L388.4,61.8L388.6,62.1L388.8,62.3L389.0,62.6L389.2,62.8L389.4,63.1L389.7,63.4L389.9,63.7L390.2,64.0L390.4,64.3L390.6,64.6L390.7,64.8L390.9,65.1L391.2,65.5L391.3,65.8L391.5,66.1L391.7,66.5L391.8,66.8L391.9,67.2L392.0,67.6L392.1,68.1L392.1,68.6L391.9,69.1L391.8,69.3L391.6,69.6L391.4,69.8L391.0,70.1L390.7,70.2L390.2,70.3L389.9,70.3 M350.2,66.6L349.7,66.7L349.2,66.7L348.7,66.8L348.2,66.8L347.7,66.8L347.2,66.7L346.7,66.6L346.4,66.6L345.9,66.5L345.5,66.3L345.2,66.2L344.8,66.1L344.4,65.9L344.2,65.8L343.8,65.6L343.4,65.3L343.2,65.2L342.9,65.0L342.7,64.8L342.4,64.6L342.1,64.3L341.8,64.1L341.6,63.8L341.4,63.6L341.2,63.3L340.9,63.0L340.7,62.7L340.4,62.3L340.3,62.1L340.2,61.8L339.9,61.4L339.8,61.1L339.7,60.8L339.5,60.3L339.4,60.1L339.3,59.6L339.2,59.2L339.1,58.8L339.0,58.3L339.0,57.8L338.9,57.3L338.9,56.8L339.0,56.3L339.0,55.8L339.1,55.3L339.2,54.9L339.2,54.6L339.4,54.1L339.5,53.8L339.6,53.3L339.7,53.1L339.9,52.7L340.1,52.3L340.2,52.1L340.4,51.8L340.7,51.4L340.9,51.1L341.1,50.8L341.3,50.6L341.5,50.3L341.7,50.1L342.0,49.8L342.3,49.6L342.6,49.3L342.9,49.1L343.2,48.9L343.4,48.7L343.7,48.6L344.1,48.3L344.4,48.2L344.7,48.0L345.2,47.8L345.4,47.8L345.9,47.6L346.2,47.5L346.7,47.4L347.2,47.4L347.4,47.3L347.9,47.3L348.4,47.3L348.9,47.3L349.2,47.3L349.7,47.4L350.2,47.5L350.6,47.6L350.9,47.7L351.4,47.8L351.7,47.9L352.0,48.1L352.4,48.2L352.7,48.4L353.0,48.6L353.4,48.8L353.7,49.0L353.9,49.2L354.2,49.3L354.5,49.6L354.8,49.8L355.0,50.1L355.3,50.3L355.5,50.6L355.8,50.8L356.0,51.1L356.2,51.3L356.4,51.6L356.7,51.9L356.9,52.2L357.2,52.6L357.4,52.8L357.5,53.1L357.7,53.3L357.9,53.7L358.2,54.1L358.3,54.3L358.4,54.6L358.7,55.1L358.8,55.3L358.9,55.8L359.0,56.1L359.0,56.6L358.9,57.0L358.8,57.3L358.7,57.8L358.6,58.1L358.4,58.5L358.3,58.8L358.2,59.1L358.0,59.6L357.8,59.8L357.7,60.1L357.4,60.6L357.3,60.8L357.2,61.1L356.9,61.5L356.7,61.8L356.5,62.1L356.4,62.3L356.2,62.6L355.9,62.9L355.7,63.2L355.4,63.5L355.2,63.8L354.9,64.0L354.7,64.3L354.4,64.5L354.2,64.7L353.9,64.9L353.7,65.1L353.3,65.3L352.9,65.5L352.7,65.7L352.4,65.8L351.9,66.0L351.7,66.1L351.2,66.3L350.9,66.4L350.4,66.5L350.2,66.6 M390.7,96.9L390.2,96.9L389.7,97.0L389.2,97.0L388.7,97.0L388.2,97.0L387.7,97.0L387.2,97.0L386.7,96.9L386.2,96.9L385.9,96.8L385.4,96.7L384.9,96.6L384.7,96.5L384.2,96.4L383.9,96.3L383.4,96.1L383.2,96.0L382.8,95.8L382.4,95.7L382.2,95.5L381.9,95.3L381.5,95.1L381.2,94.8L380.9,94.6L380.7,94.4L380.4,94.2L380.2,93.9L379.9,93.6L379.7,93.3L379.6,93.1L379.4,92.8L379.2,92.3L379.1,92.1L379.0,91.6L378.9,91.3L378.9,90.8L378.9,90.3L378.9,89.8L378.9,89.6L379.1,89.1L379.2,88.8L379.3,88.3L379.5,88.1L379.7,87.7L379.9,87.3L380.1,87.1L380.4,86.8L380.6,86.6L380.9,86.3L381.2,86.1L381.4,85.9L381.7,85.7L381.9,85.6L382.3,85.3L382.7,85.1L382.9,85.0L383.3,84.8L383.7,84.7L383.9,84.5L384.4,84.4L384.7,84.3L385.2,84.1L385.4,84.0L385.9,83.9L386.2,83.8L386.7,83.7L387.2,83.6L387.4,83.6L387.9,83.5L388.4,83.4L388.9,83.4L389.4,83.4L389.9,83.4L390.4,83.4L390.9,83.4L391.4,83.4L391.9,83.5L392.4,83.6L392.7,83.6L393.2,83.7L393.6,83.8L393.9,83.9L394.4,84.1L394.7,84.2L395.1,84.3L395.4,84.5L395.7,84.6L396.1,84.8L396.4,85.0L396.7,85.2L396.9,85.3L397.2,85.6L397.5,85.8L397.8,86.1L398.0,86.3L398.3,86.6L398.5,86.8L398.7,87.1L398.9,87.6L399.0,87.8L399.2,88.2L399.3,88.6L399.4,89.1L399.4,89.3L399.4,89.8L399.4,90.1L399.4,90.6L399.2,91.1L399.2,91.3L398.9,91.8L398.8,92.1L398.7,92.3L398.4,92.7L398.2,93.0L397.9,93.3L397.7,93.6L397.4,93.8L397.2,94.1L396.9,94.3L396.7,94.5L396.4,94.7L396.2,94.8L395.8,95.1L395.4,95.3L395.2,95.4L394.9,95.6L394.4,95.8L394.2,95.9L393.7,96.1L393.4,96.2L393.0,96.3L392.7,96.4L392.2,96.6L391.9,96.6L391.4,96.7L390.9,96.8L390.7,96.9 M388.2,68.6L387.7,68.6L387.4,68.6L386.9,68.5L386.4,68.4L386.0,68.3L385.7,68.2L385.2,68.1L384.9,68.0L384.5,67.8L384.2,67.7L383.9,67.6L383.4,67.4L383.2,67.3L382.7,67.1L382.4,66.9L382.2,66.8L381.7,66.6L381.4,66.5L381.1,66.3L380.7,66.1L380.4,66.0L379.9,65.8L379.7,65.7L379.3,65.6L378.9,65.5L378.5,65.3L378.2,65.2L377.7,65.1L377.4,65.0L376.9,64.9L376.5,64.8L376.2,64.8L375.7,64.7L375.2,64.6L374.9,64.5L374.4,64.4L373.9,64.4L373.7,64.3L373.2,64.2L372.7,64.2L372.3,64.1L371.9,64.0L371.4,63.9L371.1,63.8L370.7,63.7L370.2,63.6L369.9,63.5L369.4,63.3L369.2,63.2L368.7,63.1L368.4,62.9L368.1,62.8L367.7,62.6L367.4,62.5L367.2,62.3L366.7,62.1L366.4,61.9L366.2,61.7L365.9,61.5L365.7,61.3L365.4,61.1L365.1,60.8L364.8,60.6L364.6,60.3L364.4,60.1L364.1,59.8L363.9,59.6L363.7,59.2L363.4,58.8L363.3,58.6L363.1,58.3L362.9,57.9L362.8,57.6L362.7,57.2L362.6,56.8L362.5,56.3L362.4,55.8L362.4,55.3L362.5,54.8L362.6,54.3L362.7,53.9L362.8,53.6L362.9,53.2L363.1,52.8L363.2,52.6L363.4,52.2L363.7,51.8L363.9,51.6L364.1,51.3L364.3,51.1L364.5,50.8L364.7,50.6L365.0,50.3L365.2,50.1L365.5,49.8L365.8,49.6L366.2,49.3L366.4,49.2L366.7,49.0L367.0,48.8L367.4,48.6L367.7,48.4L367.9,48.3L368.4,48.1L368.7,48.0L369.2,47.8L369.4,47.8L369.9,47.6L370.2,47.6L370.7,47.4L371.2,47.4L371.4,47.3L371.9,47.2L372.4,47.2L372.9,47.2L373.4,47.2L373.9,47.2L374.4,47.2L374.9,47.2L375.4,47.3L375.7,47.3L376.2,47.4L376.7,47.5L376.9,47.6L377.4,47.8L377.7,47.8L378.2,48.0L378.4,48.1L378.9,48.3L379.2,48.4L379.5,48.6L379.9,48.8L380.2,49.0L380.4,49.1L380.7,49.3L381.1,49.6L381.4,49.8L381.7,50.1L381.9,50.3L382.2,50.6L382.4,50.8L382.6,51.1L382.8,51.3L383.0,51.6L383.2,51.8L383.4,52.2L383.6,52.6L383.8,52.8L383.9,53.1L384.1,53.6L384.2,53.8L384.4,54.3L384.4,54.6L384.6,55.1L384.7,55.5L384.8,55.8L384.9,56.3L384.9,56.6L385.0,57.1L385.1,57.6L385.2,57.8L385.3,58.3L385.4,58.6L385.6,59.1L385.7,59.3L385.9,59.8L386.0,60.1L386.2,60.4L386.4,60.8L386.5,61.1L386.7,61.3L386.9,61.7L387.2,62.0L387.4,62.3L387.6,62.6L387.7,62.8L387.9,63.1L388.2,63.4L388.4,63.8L388.6,64.1L388.8,64.3L388.9,64.6L389.2,65.0L389.4,65.3L389.5,65.6L389.7,66.1L389.7,66.3L389.8,66.8L389.8,67.3L389.7,67.7L389.4,68.1L389.2,68.3L388.9,68.4L388.4,68.5L388.2,68.6 M349.9,65.6L349.4,65.7L348.9,65.7L348.4,65.8L347.9,65.8L347.4,65.7L346.9,65.6L346.6,65.6L346.2,65.5L345.7,65.3L345.4,65.2L345.1,65.1L344.7,64.9L344.4,64.8L344.1,64.6L343.7,64.3L343.4,64.1L343.2,63.9L342.9,63.7L342.7,63.5L342.4,63.2L342.2,63.0L341.9,62.7L341.7,62.4L341.5,62.1L341.3,61.8L341.1,61.6L340.9,61.2L340.8,60.8L340.6,60.6L340.4,60.1L340.4,59.8L340.2,59.3L340.1,59.1L340.0,58.6L340.0,58.1L339.9,57.6L339.9,57.3L339.9,56.8L339.9,56.6L340.0,56.1L340.0,55.6L340.1,55.1L340.2,54.8L340.3,54.3L340.4,54.0L340.6,53.6L340.7,53.3L340.9,52.9L341.1,52.6L341.2,52.3L341.4,52.0L341.7,51.7L341.9,51.4L342.2,51.1L342.4,50.8L342.6,50.6L342.9,50.3L343.2,50.1L343.4,49.9L343.7,49.7L343.9,49.6L344.3,49.3L344.7,49.1L344.9,49.0L345.4,48.8L345.7,48.7L346.2,48.6L346.4,48.5L346.9,48.4L347.4,48.3L347.7,48.3L348.2,48.3L348.7,48.3L349.1,48.3L349.4,48.4L349.9,48.4L350.4,48.6L350.7,48.6L351.2,48.8L351.4,48.9L351.8,49.1L352.2,49.2L352.4,49.4L352.7,49.6L353.1,49.8L353.4,50.0L353.7,50.2L353.9,50.5L354.2,50.7L354.4,50.9L354.7,51.2L354.9,51.5L355.2,51.8L355.4,52.1L355.6,52.3L355.8,52.6L355.9,52.8L356.2,53.3L356.3,53.6L356.5,53.8L356.7,54.3L356.8,54.6L356.9,55.1L357.0,55.3L357.1,55.8L357.1,56.3L357.1,56.8L357.1,57.3L357.1,57.8L357.0,58.3L356.9,58.6L356.8,59.1L356.7,59.4L356.5,59.8L356.4,60.1L356.2,60.6L356.0,60.8L355.9,61.1L355.7,61.5L355.4,61.8L355.3,62.1L355.1,62.3L354.9,62.6L354.7,62.8L354.4,63.1L354.2,63.3L353.9,63.6L353.6,63.8L353.3,64.1L352.9,64.3L352.7,64.5L352.4,64.7L352.1,64.8L351.7,65.0L351.4,65.1L350.9,65.3L350.7,65.4L350.2,65.5L349.9,65.6 M390.9,96.1L390.4,96.2L389.9,96.2L389.4,96.3L388.9,96.3L388.4,96.3L387.9,96.3L387.4,96.3L386.9,96.2L386.4,96.1L386.1,96.1L385.7,96.0L385.2,95.9L384.9,95.8L384.4,95.6L384.2,95.5L383.7,95.3L383.4,95.2L383.2,95.1L382.7,94.8L382.4,94.6L382.2,94.5L381.9,94.3L381.7,94.1L381.4,93.8L381.2,93.5L380.9,93.2L380.7,92.9L380.5,92.6L380.4,92.3L380.2,91.8L380.1,91.6L380.0,91.1L380.0,90.6L380.0,90.1L380.1,89.6L380.2,89.3L380.4,88.8L380.5,88.6L380.7,88.2L380.9,87.8L381.1,87.6L381.3,87.3L381.6,87.1L381.8,86.8L382.1,86.6L382.4,86.3L382.7,86.2L382.9,86.0L383.2,85.8L383.7,85.6L383.9,85.4L384.2,85.3L384.7,85.1L384.9,85.0L385.4,84.8L385.7,84.7L386.2,84.6L386.4,84.5L386.9,84.4L387.3,84.3L387.7,84.3L388.2,84.2L388.7,84.1L389.2,84.1L389.7,84.1L390.2,84.1L390.7,84.1L391.2,84.2L391.7,84.2L392.2,84.3L392.4,84.3L392.9,84.5L393.4,84.6L393.7,84.7L394.1,84.8L394.4,84.9L394.7,85.1L395.2,85.3L395.4,85.4L395.7,85.6L396.1,85.8L396.4,86.1L396.7,86.3L396.9,86.6L397.2,86.8L397.4,87.1L397.6,87.3L397.7,87.6L397.9,87.9L398.1,88.3L398.2,88.6L398.3,89.1L398.4,89.6L398.3,90.1L398.3,90.6L398.2,90.9L398.0,91.3L397.9,91.6L397.7,92.1L397.5,92.3L397.3,92.6L397.1,92.8L396.9,93.1L396.7,93.3L396.4,93.6L396.1,93.8L395.8,94.1L395.5,94.3L395.2,94.5L394.9,94.7L394.6,94.8L394.2,95.1L393.9,95.2L393.6,95.3L393.2,95.5L392.9,95.6L392.4,95.7L392.1,95.8L391.7,95.9L391.2,96.0L390.9,96.1 M385.4,66.1L385.2,66.1L384.7,66.0L384.2,65.9L383.8,65.8L383.4,65.7L383.0,65.6L382.7,65.5L382.2,65.3L381.9,65.2L381.5,65.1L381.2,65.0L380.7,64.8L380.4,64.7L379.9,64.6L379.7,64.5L379.2,64.4L378.9,64.3L378.4,64.2L377.9,64.1L377.7,64.1L377.2,64.0L376.7,63.9L376.4,63.8L375.9,63.7L375.4,63.7L374.9,63.6L374.7,63.6L374.2,63.5L373.7,63.4L373.3,63.3L372.9,63.3L372.4,63.2L372.0,63.1L371.7,63.0L371.2,62.9L370.9,62.8L370.4,62.7L370.2,62.6L369.7,62.4L369.4,62.3L368.9,62.1L368.7,62.0L368.4,61.8L367.9,61.6L367.7,61.4L367.4,61.3L367.1,61.1L366.8,60.8L366.5,60.6L366.2,60.3L365.9,60.1L365.7,59.8L365.5,59.6L365.3,59.3L365.1,59.1L364.9,58.8L364.7,58.5L364.5,58.1L364.3,57.8L364.2,57.4L364.1,57.1L363.9,56.6L363.9,56.3L363.8,55.8L363.8,55.3L363.9,54.8L363.9,54.6L364.0,54.1L364.2,53.6L364.3,53.3L364.4,53.0L364.6,52.6L364.8,52.3L365.0,52.1L365.2,51.8L365.4,51.5L365.7,51.2L365.9,50.9L366.2,50.7L366.4,50.5L366.7,50.3L366.9,50.1L367.3,49.8L367.7,49.6L367.9,49.5L368.2,49.3L368.7,49.1L368.9,49.0L369.4,48.8L369.7,48.7L370.1,48.6L370.4,48.5L370.9,48.4L371.2,48.3L371.7,48.2L372.2,48.2L372.7,48.1L373.2,48.1L373.7,48.1L374.2,48.1L374.7,48.2L375.2,48.2L375.7,48.3L375.9,48.4L376.4,48.5L376.8,48.6L377.2,48.7L377.5,48.8L377.9,49.0L378.2,49.1L378.7,49.3L378.9,49.4L379.2,49.6L379.6,49.8L379.9,50.1L380.2,50.2L380.4,50.4L380.7,50.6L380.9,50.9L381.2,51.1L381.4,51.4L381.7,51.7L381.9,52.0L382.2,52.3L382.3,52.6L382.5,52.8L382.7,53.2L382.9,53.6L383.0,53.8L383.2,54.3L383.2,54.6L383.4,55.1L383.5,55.3L383.6,55.8L383.7,56.3L383.7,56.6L383.8,57.1L383.9,57.6L384.0,57.8L384.1,58.3L384.2,58.7L384.3,59.1L384.4,59.6L384.5,59.8L384.7,60.3L384.8,60.6L384.9,61.0L385.1,61.3L385.2,61.6L385.4,62.0L385.6,62.3L385.7,62.6L385.9,63.0L386.1,63.3L386.2,63.6L386.4,64.1L386.5,64.3L386.6,64.8L386.6,65.3L386.4,65.7L386.2,65.9L385.7,66.1L385.4,66.1 M349.4,64.6L348.9,64.6L348.4,64.7L347.9,64.7L347.4,64.6L347.2,64.6L346.7,64.5L346.2,64.3L345.9,64.2L345.5,64.1L345.2,63.9L344.9,63.8L344.5,63.6L344.2,63.3L343.9,63.2L343.7,63.0L343.4,62.7L343.2,62.5L342.9,62.2L342.7,61.9L342.4,61.6L342.2,61.3L342.1,61.1L341.9,60.8L341.7,60.3L341.6,60.1L341.4,59.7L341.3,59.3L341.2,58.9L341.1,58.6L341.0,58.1L341.0,57.6L341.0,57.1L341.0,56.6L341.0,56.1L341.1,55.6L341.2,55.2L341.3,54.8L341.4,54.3L341.5,54.1L341.7,53.7L341.9,53.3L342.0,53.1L342.2,52.8L342.4,52.4L342.7,52.1L342.9,51.8L343.1,51.6L343.4,51.3L343.7,51.1L343.9,50.9L344.2,50.7L344.4,50.5L344.8,50.3L345.2,50.1L345.4,50.0L345.8,49.8L346.2,49.7L346.6,49.6L346.9,49.5L347.4,49.4L347.9,49.4L348.4,49.4L348.9,49.4L349.4,49.5L349.9,49.6L350.2,49.6L350.7,49.8L350.9,49.9L351.4,50.1L351.7,50.2L351.9,50.3L352.3,50.6L352.7,50.8L352.9,51.0L353.2,51.2L353.4,51.5L353.7,51.7L353.9,52.0L354.2,52.3L354.4,52.6L354.6,52.8L354.7,53.1L354.9,53.4L355.1,53.8L355.2,54.1L355.4,54.5L355.5,54.8L355.7,55.3L355.7,55.6L355.8,56.1L355.8,56.6L355.8,57.1L355.8,57.6L355.8,58.1L355.7,58.5L355.6,58.8L355.4,59.3L355.4,59.6L355.2,60.0L355.0,60.3L354.9,60.6L354.7,61.0L354.4,61.3L354.3,61.6L354.1,61.8L353.9,62.1L353.6,62.3L353.4,62.6L353.1,62.8L352.8,63.1L352.5,63.3L352.2,63.5L351.9,63.7L351.7,63.8L351.2,64.1L350.9,64.2L350.5,64.3L350.2,64.4L349.7,64.5L349.4,64.6 M390.4,95.4L389.9,95.4L389.4,95.5L388.9,95.5L388.4,95.5L387.9,95.5L387.4,95.4L386.9,95.4L386.6,95.3L386.2,95.2L385.7,95.1L385.4,95.0L384.9,94.9L384.7,94.8L384.2,94.6L383.9,94.4L383.7,94.3L383.3,94.1L383.0,93.8L382.7,93.6L382.4,93.3L382.2,93.1L382.0,92.8L381.8,92.6L381.7,92.3L381.4,91.8L381.3,91.6L381.2,91.1L381.2,90.6L381.2,90.1L381.3,89.6L381.4,89.3L381.6,88.8L381.8,88.6L381.9,88.3L382.2,88.0L382.4,87.7L382.7,87.4L382.9,87.2L383.2,87.0L383.4,86.8L383.7,86.6L384.1,86.3L384.4,86.2L384.7,86.0L385.1,85.8L385.4,85.7L385.8,85.6L386.2,85.4L386.5,85.3L386.9,85.2L387.4,85.1L387.7,85.1L388.2,85.0L388.7,84.9L389.2,84.9L389.7,84.9L390.2,84.9L390.7,84.9L391.2,85.0L391.7,85.0L391.9,85.1L392.4,85.2L392.9,85.3L393.2,85.4L393.6,85.6L393.9,85.7L394.2,85.8L394.7,86.1L394.9,86.2L395.2,86.4L395.4,86.6L395.7,86.8L396.0,87.1L396.2,87.3L396.4,87.6L396.7,88.0L396.8,88.3L396.9,88.6L397.1,89.1L397.2,89.6L397.2,90.1L397.1,90.6L396.9,91.1L396.8,91.3L396.7,91.7L396.4,92.1L396.2,92.3L396.0,92.6L395.8,92.8L395.6,93.1L395.3,93.3L395.0,93.6L394.7,93.8L394.4,93.9L394.2,94.1L393.7,94.3L393.4,94.5L393.2,94.6L392.7,94.8L392.4,94.9L391.9,95.0L391.7,95.1L391.2,95.2L390.7,95.3L390.4,95.4 M382.2,63.3L381.7,63.4L381.2,63.4L380.7,63.4L380.2,63.3L379.9,63.3L379.4,63.2L378.9,63.2L378.4,63.1L377.9,63.1L377.7,63.0L377.2,63.0L376.7,62.9L376.2,62.9L375.8,62.8L375.4,62.8L374.9,62.7L374.4,62.6L374.0,62.6L373.7,62.5L373.2,62.4L372.7,62.3L372.4,62.3L371.9,62.2L371.6,62.1L371.2,62.0L370.8,61.8L370.4,61.7L370.1,61.6L369.7,61.4L369.4,61.3L369.0,61.1L368.7,60.9L368.4,60.8L368.1,60.6L367.8,60.3L367.5,60.1L367.2,59.8L366.9,59.6L366.7,59.3L366.4,59.1L366.2,58.8L366.1,58.6L365.9,58.3L365.7,57.9L365.5,57.6L365.4,57.3L365.2,56.8L365.2,56.6L365.1,56.1L365.1,55.6L365.1,55.1L365.1,54.6L365.2,54.3L365.3,53.8L365.4,53.6L365.7,53.1L365.8,52.8L366.0,52.6L366.2,52.3L366.4,51.9L366.7,51.7L366.9,51.4L367.2,51.2L367.4,51.0L367.7,50.8L368.0,50.6L368.4,50.3L368.7,50.2L368.9,50.0L369.4,49.8L369.7,49.7L370.0,49.6L370.4,49.4L370.9,49.3L371.2,49.3L371.7,49.2L372.2,49.1L372.4,49.1L372.9,49.0L373.4,49.0L373.9,49.0L374.4,49.1L374.7,49.1L375.2,49.2L375.7,49.2L376.0,49.3L376.4,49.4L376.9,49.6L377.2,49.7L377.5,49.8L377.9,50.0L378.2,50.1L378.5,50.3L378.9,50.6L379.2,50.7L379.4,50.9L379.7,51.1L379.9,51.3L380.2,51.6L380.5,51.8L380.7,52.1L380.9,52.4L381.2,52.7L381.4,53.1L381.5,53.3L381.7,53.6L381.9,54.1L382.0,54.3L382.2,54.8L382.3,55.1L382.4,55.6L382.5,55.8L382.6,56.3L382.7,56.8L382.7,57.1L382.8,57.6L382.8,58.1L382.9,58.6L382.9,58.8L383.0,59.3L383.1,59.8L383.2,60.3L383.2,60.6L383.2,61.1L383.3,61.6L383.3,62.1L383.2,62.6L383.0,62.8L382.8,63.1L382.4,63.3L382.2,63.3 M348.9,63.6L348.4,63.6L347.9,63.6L347.6,63.6L347.2,63.5L346.7,63.4L346.4,63.3L345.9,63.1L345.7,63.0L345.3,62.8L344.9,62.6L344.7,62.4L344.4,62.2L344.2,62.0L343.9,61.8L343.7,61.5L343.4,61.2L343.2,60.9L343.0,60.6L342.8,60.3L342.7,60.1L342.5,59.6L342.4,59.3L342.2,58.8L342.1,58.6L342.0,58.1L342.0,57.6L342.0,57.1L342.0,56.6L342.0,56.1L342.1,55.6L342.2,55.3L342.3,54.8L342.4,54.5L342.6,54.1L342.7,53.8L342.9,53.5L343.2,53.1L343.4,52.8L343.6,52.6L343.8,52.3L344.1,52.1L344.4,51.8L344.7,51.6L344.9,51.4L345.2,51.3L345.5,51.1L345.9,50.9L346.2,50.8L346.7,50.6L346.9,50.6L347.4,50.5L347.9,50.4L348.4,50.4L348.9,50.4L349.4,50.5L349.7,50.6L350.2,50.7L350.5,50.8L350.9,51.0L351.2,51.1L351.6,51.3L351.9,51.6L352.2,51.8L352.4,52.0L352.7,52.2L352.9,52.4L353.2,52.7L353.4,53.0L353.6,53.3L353.8,53.6L353.9,53.8L354.2,54.3L354.3,54.6L354.4,54.9L354.5,55.3L354.7,55.8L354.7,56.1L354.7,56.6L354.8,57.1L354.7,57.6L354.7,58.0L354.6,58.3L354.5,58.8L354.4,59.1L354.2,59.6L354.1,59.8L353.9,60.2L353.7,60.6L353.5,60.8L353.3,61.1L353.1,61.3L352.9,61.6L352.7,61.8L352.4,62.1L352.1,62.3L351.7,62.6L351.4,62.8L351.2,62.9L350.8,63.1L350.4,63.2L350.2,63.3L349.7,63.5L349.2,63.6L348.9,63.6 M390.4,94.6L389.9,94.7L389.4,94.7L388.9,94.7L388.4,94.7L387.9,94.7L387.4,94.7L386.9,94.6L386.7,94.5L386.2,94.4L385.9,94.3L385.4,94.2L385.2,94.1L384.7,93.8L384.4,93.7L384.2,93.5L383.9,93.3L383.6,93.1L383.3,92.8L383.1,92.6L382.9,92.3L382.7,91.9L382.5,91.6L382.4,91.1L382.4,90.8L382.4,90.3L382.4,89.9L382.5,89.6L382.7,89.1L382.8,88.8L383.0,88.6L383.2,88.3L383.4,88.0L383.7,87.8L383.9,87.6L384.2,87.3L384.6,87.1L384.9,86.9L385.2,86.7L385.5,86.6L385.9,86.4L386.2,86.3L386.7,86.1L386.9,86.0L387.4,85.9L387.8,85.8L388.2,85.8L388.7,85.7L389.2,85.7L389.7,85.6L390.2,85.7L390.7,85.7L391.2,85.8L391.5,85.8L391.9,85.9L392.4,86.0L392.7,86.1L393.2,86.3L393.4,86.4L393.7,86.6L394.1,86.8L394.4,87.0L394.7,87.2L394.9,87.5L395.2,87.7L395.4,88.0L395.6,88.3L395.7,88.6L395.9,89.1L396.0,89.3L396.0,89.8L396.0,90.3L395.9,90.6L395.8,91.1L395.7,91.3L395.4,91.7L395.2,92.1L395.0,92.3L394.7,92.6L394.5,92.8L394.2,93.1L393.9,93.2L393.7,93.4L393.4,93.6L392.9,93.8L392.7,93.9L392.3,94.1L391.9,94.2L391.6,94.3L391.2,94.4L390.7,94.5L390.4,94.6 M378.9,61.8L378.4,61.9L377.9,61.9L377.4,61.9L376.9,61.9L376.4,61.9L375.9,61.8L375.6,61.8L375.2,61.8L374.7,61.7L374.2,61.7L373.7,61.6L373.4,61.5L372.9,61.4L372.4,61.3L372.2,61.3L371.7,61.1L371.4,61.0L370.9,60.9L370.7,60.8L370.2,60.6L369.9,60.4L369.7,60.3L369.3,60.1L368.9,59.8L368.7,59.7L368.4,59.5L368.2,59.3L367.9,59.0L367.7,58.8L367.4,58.5L367.2,58.1L367.0,57.8L366.8,57.6L366.7,57.2L366.5,56.8L366.4,56.4L366.4,56.1L366.3,55.6L366.3,55.1L366.4,54.6L366.5,54.3L366.7,53.8L366.8,53.6L366.9,53.3L367.2,52.9L367.4,52.6L367.6,52.3L367.8,52.1L368.1,51.8L368.4,51.6L368.7,51.4L368.9,51.2L369.2,51.1L369.6,50.8L369.9,50.7L370.2,50.6L370.7,50.4L371.0,50.3L371.4,50.2L371.9,50.1L372.2,50.1L372.7,50.0L373.2,50.0L373.7,50.0L374.2,50.0L374.7,50.1L374.9,50.1L375.4,50.2L375.9,50.3L376.2,50.4L376.7,50.6L376.9,50.7L377.3,50.8L377.7,51.0L377.9,51.2L378.2,51.3L378.5,51.6L378.9,51.8L379.2,52.1L379.4,52.3L379.6,52.6L379.9,52.8L380.0,53.1L380.2,53.3L380.4,53.7L380.7,54.1L380.8,54.3L380.9,54.7L381.1,55.1L381.2,55.5L381.3,55.8L381.4,56.3L381.4,56.8L381.5,57.1L381.5,57.6L381.5,58.1L381.5,58.6L381.5,59.1L381.5,59.6L381.4,59.8L381.3,60.3L381.2,60.6L380.9,61.0L380.7,61.2L380.4,61.4L380.1,61.6L379.7,61.7L379.2,61.8L378.9,61.8 M349.4,62.3L348.9,62.4L348.4,62.5L347.9,62.4L347.4,62.4L347.2,62.3L346.7,62.2L346.4,62.1L345.9,61.9L345.7,61.7L345.4,61.6L345.1,61.3L344.8,61.1L344.6,60.8L344.3,60.6L344.2,60.3L343.9,60.0L343.7,59.6L343.6,59.3L343.4,59.0L343.3,58.6L343.2,58.1L343.1,57.8L343.1,57.3L343.1,56.8L343.1,56.3L343.2,55.9L343.3,55.6L343.4,55.1L343.5,54.8L343.7,54.5L343.9,54.1L344.1,53.8L344.2,53.6L344.4,53.3L344.7,53.1L345.0,52.8L345.3,52.6L345.6,52.3L345.9,52.2L346.2,52.0L346.7,51.8L346.9,51.8L347.4,51.6L347.9,51.6L348.2,51.6L348.7,51.6L348.9,51.6L349.4,51.7L349.9,51.8L350.2,51.9L350.5,52.1L350.9,52.3L351.2,52.4L351.4,52.6L351.7,52.8L352.0,53.1L352.2,53.3L352.4,53.6L352.7,54.0L352.9,54.3L353.0,54.6L353.2,54.9L353.3,55.3L353.4,55.6L353.5,56.1L353.6,56.6L353.6,57.1L353.6,57.6L353.5,58.1L353.4,58.3L353.3,58.8L353.2,59.1L353.0,59.6L352.8,59.8L352.7,60.1L352.4,60.4L352.2,60.7L351.9,61.0L351.7,61.2L351.4,61.4L351.2,61.6L350.8,61.8L350.4,62.0L350.2,62.1L349.7,62.3L349.4,62.3 M389.7,93.8L389.2,93.9L388.7,93.9L388.2,93.9L387.8,93.8L387.4,93.8L386.9,93.7L386.6,93.6L386.2,93.4L385.9,93.3L385.4,93.1L385.2,92.9L384.9,92.7L384.7,92.5L384.4,92.3L384.2,92.0L383.9,91.6L383.8,91.3L383.7,90.8L383.7,90.6L383.7,90.2L383.7,89.8L383.9,89.3L384.1,89.1L384.2,88.8L384.4,88.6L384.7,88.3L384.9,88.1L385.2,87.8L385.6,87.6L385.9,87.4L386.2,87.3L386.6,87.1L386.9,87.0L387.3,86.8L387.7,86.7L388.2,86.6L388.6,86.6L388.9,86.5L389.4,86.5L389.9,86.5L390.4,86.6L390.7,86.6L391.2,86.7L391.7,86.8L391.9,86.9L392.4,87.1L392.7,87.2L393.0,87.3L393.4,87.6L393.7,87.8L393.9,88.1L394.2,88.3L394.3,88.6L394.5,88.8L394.7,89.3L394.7,89.6L394.7,90.1L394.7,90.4L394.6,90.8L394.4,91.1L394.2,91.6L394.0,91.8L393.7,92.1L393.5,92.3L393.2,92.6L392.9,92.7L392.7,92.9L392.3,93.1L391.9,93.3L391.7,93.4L391.2,93.5L390.9,93.6L390.4,93.7L389.9,93.8L389.7,93.8 M377.4,60.6L376.9,60.7L376.4,60.7L375.9,60.7L375.4,60.7L374.9,60.7L374.4,60.6L373.9,60.6L373.7,60.5L373.2,60.5L372.7,60.3L372.4,60.3L371.9,60.1L371.7,60.0L371.2,59.8L370.9,59.7L370.6,59.6L370.2,59.3L369.9,59.2L369.7,59.0L369.4,58.8L369.2,58.6L368.9,58.3L368.7,58.0L368.4,57.7L368.2,57.3L368.1,57.1L367.9,56.7L367.8,56.3L367.7,55.8L367.7,55.3L367.8,54.8L367.9,54.3L368.0,54.1L368.2,53.7L368.4,53.3L368.6,53.1L368.9,52.8L369.1,52.6L369.4,52.3L369.7,52.1L369.9,52.0L370.2,51.8L370.7,51.6L370.9,51.5L371.4,51.3L371.7,51.3L372.2,51.2L372.7,51.1L372.9,51.1L373.4,51.0L373.9,51.1L374.2,51.1L374.7,51.1L375.2,51.2L375.5,51.3L375.9,51.5L376.2,51.6L376.7,51.8L376.9,51.9L377.2,52.1L377.6,52.3L377.9,52.6L378.2,52.8L378.4,53.0L378.7,53.3L378.9,53.6L379.1,53.8L379.2,54.1L379.4,54.4L379.6,54.8L379.7,55.1L379.9,55.6L379.9,55.8L380.0,56.3L380.1,56.8L380.1,57.3L380.1,57.8L380.0,58.3L379.9,58.6L379.7,59.1L379.6,59.3L379.4,59.6L379.2,59.8L378.9,60.1L378.4,60.3L378.2,60.4L377.7,60.5L377.4,60.6 M348.7,61.1L348.2,61.1L347.8,61.1L347.4,61.0L346.9,60.8L346.7,60.7L346.4,60.6L346.0,60.3L345.7,60.1L345.4,59.8L345.2,59.6L345.1,59.3L344.9,59.1L344.7,58.6L344.6,58.3L344.4,57.8L344.4,57.6L344.4,57.1L344.4,56.6L344.4,56.3L344.5,55.8L344.7,55.4L344.8,55.1L345.0,54.8L345.2,54.5L345.4,54.2L345.7,54.0L345.9,53.7L346.2,53.6L346.6,53.3L346.9,53.2L347.2,53.1L347.7,53.0L348.2,52.9L348.7,52.9L349.2,53.0L349.4,53.1L349.9,53.3L350.2,53.4L350.5,53.6L350.8,53.8L351.1,54.1L351.3,54.3L351.5,54.6L351.7,54.8L351.9,55.3L352.0,55.6L352.2,56.1L352.2,56.3L352.3,56.8L352.3,57.3L352.2,57.8L352.1,58.1L352.0,58.6L351.9,58.8L351.7,59.2L351.4,59.5L351.2,59.8L350.9,60.1L350.7,60.3L350.4,60.5L350.2,60.6L349.8,60.8L349.4,60.9L348.9,61.1L348.7,61.1 M389.4,92.8L388.9,92.9L388.4,92.8L388.2,92.8L387.7,92.7L387.2,92.6L386.9,92.5L386.6,92.3L386.2,92.1L385.9,91.9L385.7,91.6L385.5,91.3L385.3,91.1L385.2,90.6L385.2,90.1L385.4,89.6L385.5,89.3L385.7,89.1L385.9,88.8L386.2,88.6L386.6,88.3L386.9,88.1L387.2,88.0L387.7,87.8L387.9,87.8L388.4,87.6L388.9,87.6L389.2,87.6L389.7,87.5L390.1,87.6L390.4,87.6L390.9,87.7L391.2,87.8L391.7,88.0L391.9,88.1L392.2,88.3L392.5,88.6L392.7,88.8L392.9,89.1L393.1,89.6L393.2,89.9L393.2,90.1L393.1,90.6L392.9,90.9L392.7,91.3L392.4,91.6L392.2,91.8L391.9,92.0L391.7,92.1L391.3,92.3L390.9,92.5L390.7,92.6L390.2,92.7L389.7,92.8L389.4,92.8 M375.2,59.3L374.7,59.3L374.4,59.3L373.9,59.3L373.4,59.2L373.0,59.1L372.7,59.0L372.2,58.8L371.9,58.7L371.6,58.6L371.2,58.3L370.9,58.1L370.7,57.9L370.4,57.7L370.2,57.4L369.9,57.1L369.8,56.8L369.6,56.6L369.5,56.1L369.4,55.6L369.5,55.1L369.6,54.6L369.8,54.3L369.9,54.0L370.2,53.7L370.4,53.5L370.7,53.3L371.0,53.1L371.4,52.8L371.7,52.7L372.1,52.6L372.4,52.5L372.9,52.4L373.4,52.4L373.9,52.4L374.4,52.5L374.9,52.6L375.2,52.6L375.7,52.8L375.9,52.9L376.2,53.1L376.6,53.3L376.9,53.6L377.2,53.8L377.4,54.1L377.6,54.3L377.7,54.6L377.9,54.9L378.1,55.3L378.2,55.6L378.3,56.1L378.3,56.6L378.3,57.1L378.2,57.6L378.1,57.8L377.9,58.1L377.7,58.4L377.4,58.6L377.2,58.8L376.7,59.1L376.4,59.1L375.9,59.3L375.4,59.3L375.2,59.3 M348.4,59.1L348.2,59.1L347.7,59.0L347.4,58.8L347.0,58.6L346.8,58.3L346.6,58.1L346.4,57.7L346.3,57.3L346.3,56.8L346.4,56.3L346.5,56.1L346.7,55.8L346.9,55.5L347.2,55.3L347.6,55.1L347.9,55.0L348.4,54.9L348.9,55.0L349.2,55.1L349.5,55.3L349.8,55.6L350.0,55.8L350.2,56.3L350.3,56.6L350.3,57.1L350.2,57.6L350.1,57.8L349.9,58.2L349.7,58.5L349.4,58.7L349.2,58.9L348.7,59.0L348.4,59.1 M389.7,90.9L389.2,91.0L388.7,91.0L388.3,90.8L388.1,90.6L388.0,90.1L388.2,89.8L388.5,89.6L388.9,89.4L389.4,89.4L389.9,89.5L390.2,89.7L390.4,90.1L390.2,90.6L389.9,90.8L389.7,90.9" fill="none" stroke="#555" stroke-width="0.45"/><ellipse cx="347.5" cy="56.5" rx="2.5" ry="0.8" fill="#fff"/><ellipse cx="372.5" cy="55" rx="2.8" ry="1.4" fill="#fff"/><ellipse cx="389" cy="90" rx="3" ry="0.8" fill="#fff"/>
<path d="M325.9,35.3 L357.8,35.3 Q360.4,35.3 360.4,39 L360.4,71.8 Q360.4,75.9 357.8,75.9 L325.9,75.9" fill="none" stroke="#333" stroke-width="0.8"/>
<path d="M410.5,35.3 L363,35.3 Q360.4,35.3 360.4,39 L360.4,71.8 Q360.4,75.9 363,75.9 L410.5,75.9" fill="none" stroke="#333" stroke-width="0.8"/>
<path d="M410.5,76.3 L367,76.3 Q364.6,76.3 364.6,79.5 L364.6,110.9" fill="none" stroke="#333" stroke-width="0.8"/>
<text x="300.9" y="8.8" font-size="9.8" text-anchor="start" fill="#111">Terminally Exh.</text>
<text x="372.7" y="17.5" font-size="9.8" text-anchor="start" fill="#111">Intermediate Exh.</text>
<text x="399.5" y="126.6" font-size="9.8" text-anchor="start" fill="#111">Precursor Exh.</text>
<line x1="331.5" y1="12" x2="343" y2="44.7" stroke="#555" stroke-width="0.6"/>
<line x1="410.4" y1="21" x2="403.4" y2="43" stroke="#555" stroke-width="0.6"/>
<line x1="402.8" y1="96.2" x2="423.8" y2="112.6" stroke="#555" stroke-width="0.6"/>
<polygon points="422.0,59.8 459.2,59.8 459.2,57.0 464.9,62.8 459.2,68.6 459.2,65.8 422.0,65.8" fill="#7d7d7d"/>
<text x="421" y="85.7" font-size="9.9" text-anchor="start" fill="#111">Bulk TCR-seq</text>
<polygon points="560.4,60.0 573.5,60.0 573.5,57.3 579.4,62.8 573.5,68.3 573.5,65.5 560.4,65.5" fill="#7b7b7b"/>
<g filter="url(#blur2)"><circle cx="488" cy="45" r="3.6" fill="#e0e0e0"/><circle cx="488" cy="45" r="2.2" fill="#cfcfcf"/><circle cx="490" cy="52" r="3.6" fill="#e0e0e0"/><circle cx="490" cy="52" r="2.2" fill="#cfcfcf"/><circle cx="494" cy="38" r="3.6" fill="#e0e0e0"/><circle cx="494" cy="38" r="2.2" fill="#cfcfcf"/><circle cx="513" cy="44" r="3.6" fill="#e0e0e0"/><circle cx="513" cy="44" r="2.2" fill="#cfcfcf"/><circle cx="516" cy="51" r="3.6" fill="#e0e0e0"/><circle cx="516" cy="51" r="2.2" fill="#cfcfcf"/><circle cx="503" cy="50" r="3.6" fill="#e0e0e0"/><circle cx="503" cy="50" r="2.2" fill="#cfcfcf"/><circle cx="496" cy="62" r="3.6" fill="#e0e0e0"/><circle cx="496" cy="62" r="2.2" fill="#cfcfcf"/><circle cx="512" cy="62" r="3.6" fill="#e0e0e0"/><circle cx="512" cy="62" r="2.2" fill="#cfcfcf"/><circle cx="518" cy="45" r="3.6" fill="#e0e0e0"/><circle cx="518" cy="45" r="2.2" fill="#cfcfcf"/><circle cx="522" cy="46" r="3.6" fill="#e0e0e0"/><circle cx="522" cy="46" r="2.2" fill="#cfcfcf"/><circle cx="525" cy="53" r="3.6" fill="#e0e0e0"/><circle cx="525" cy="53" r="2.2" fill="#cfcfcf"/><circle cx="533" cy="43" r="3.6" fill="#e0e0e0"/><circle cx="533" cy="43" r="2.2" fill="#cfcfcf"/><circle cx="541" cy="47" r="3.6" fill="#e0e0e0"/><circle cx="541" cy="47" r="2.2" fill="#cfcfcf"/><circle cx="545" cy="58" r="3.6" fill="#e0e0e0"/><circle cx="545" cy="58" r="2.2" fill="#cfcfcf"/><circle cx="531" cy="63" r="3.6" fill="#e0e0e0"/><circle cx="531" cy="63" r="2.2" fill="#cfcfcf"/><circle cx="540" cy="62" r="3.6" fill="#e0e0e0"/><circle cx="540" cy="62" r="2.2" fill="#cfcfcf"/><circle cx="520" cy="72" r="3.6" fill="#e0e0e0"/><circle cx="520" cy="72" r="2.2" fill="#cfcfcf"/><circle cx="535" cy="72" r="3.6" fill="#e0e0e0"/><circle cx="535" cy="72" r="2.2" fill="#cfcfcf"/><circle cx="540" cy="78" r="3.6" fill="#e0e0e0"/><circle cx="540" cy="78" r="2.2" fill="#cfcfcf"/><circle cx="534" cy="84" r="3.6" fill="#e0e0e0"/><circle cx="534" cy="84" r="2.2" fill="#cfcfcf"/><circle cx="523" cy="91" r="3.6" fill="#e0e0e0"/><circle cx="523" cy="91" r="2.2" fill="#cfcfcf"/><circle cx="541" cy="94" r="3.6" fill="#e0e0e0"/><circle cx="541" cy="94" r="2.2" fill="#cfcfcf"/><circle cx="539" cy="86" r="3.6" fill="#e0e0e0"/><circle cx="539" cy="86" r="2.2" fill="#cfcfcf"/><circle cx="525" cy="100" r="3.6" fill="#e0e0e0"/><circle cx="525" cy="100" r="2.2" fill="#cfcfcf"/></g>
<circle cx="498" cy="41.9" r="3.6" fill="#8a8a8a"/><circle cx="498.6" cy="41.3" r="1.8" fill="#a8a8a8"/><circle cx="498" cy="41.9" r="5.0" fill="none" stroke="#3f63dc" stroke-width="1.4"/><circle cx="507.9" cy="39.3" r="3.6" fill="#8a8a8a"/><circle cx="508.5" cy="38.699999999999996" r="1.8" fill="#a8a8a8"/><circle cx="507.9" cy="39.3" r="5.0" fill="none" stroke="#3f63dc" stroke-width="1.4"/><circle cx="507.4" cy="48" r="3.6" fill="#8a8a8a"/><circle cx="508.0" cy="47.4" r="1.8" fill="#a8a8a8"/><circle cx="507.4" cy="48" r="5.0" fill="none" stroke="#3f63dc" stroke-width="1.4"/><circle cx="491.7" cy="57.2" r="3.6" fill="#8a8a8a"/><circle cx="492.3" cy="56.6" r="1.8" fill="#a8a8a8"/><circle cx="491.7" cy="57.2" r="5.0" fill="none" stroke="#3f63dc" stroke-width="1.4"/><circle cx="501.5" cy="58.3" r="3.6" fill="#8a8a8a"/><circle cx="502.1" cy="57.699999999999996" r="1.8" fill="#a8a8a8"/><circle cx="501.5" cy="58.3" r="5.0" fill="none" stroke="#f39018" stroke-width="1.4"/><circle cx="508.5" cy="55.5" r="3.6" fill="#8a8a8a"/><circle cx="509.1" cy="54.9" r="1.8" fill="#a8a8a8"/><circle cx="508.5" cy="55.5" r="5.0" fill="none" stroke="#f39018" stroke-width="1.4"/><circle cx="530" cy="47.4" r="3.6" fill="#8a8a8a"/><circle cx="530.6" cy="46.8" r="1.8" fill="#a8a8a8"/><circle cx="530" cy="47.4" r="5.0" fill="none" stroke="#3f63dc" stroke-width="1.4"/><circle cx="538.1" cy="53.3" r="3.6" fill="#8a8a8a"/><circle cx="538.7" cy="52.699999999999996" r="1.8" fill="#a8a8a8"/><circle cx="538.1" cy="53.3" r="5.0" fill="none" stroke="#3f63dc" stroke-width="1.4"/><circle cx="527.6" cy="58.3" r="3.6" fill="#8a8a8a"/><circle cx="528.2" cy="57.699999999999996" r="1.8" fill="#a8a8a8"/><circle cx="527.6" cy="58.3" r="5.0" fill="none" stroke="#f39018" stroke-width="1.4"/><circle cx="529.3" cy="74.3" r="3.6" fill="#8a8a8a"/><circle cx="529.9" cy="73.7" r="1.8" fill="#a8a8a8"/><circle cx="529.3" cy="74.3" r="5.0" fill="none" stroke="#22a04a" stroke-width="1.4"/><circle cx="537" cy="79.6" r="3.6" fill="#8a8a8a"/><circle cx="537.6" cy="79.0" r="1.8" fill="#a8a8a8"/><circle cx="537" cy="79.6" r="5.0" fill="none" stroke="#3f63dc" stroke-width="1.4"/><circle cx="518.4" cy="82.8" r="3.6" fill="#8a8a8a"/><circle cx="519.0" cy="82.2" r="1.8" fill="#a8a8a8"/><circle cx="518.4" cy="82.8" r="5.0" fill="none" stroke="#7a3aa0" stroke-width="1.4"/><circle cx="537" cy="90" r="3.6" fill="#8a8a8a"/><circle cx="537.6" cy="89.4" r="1.8" fill="#a8a8a8"/><circle cx="537" cy="90" r="5.0" fill="none" stroke="#3f63dc" stroke-width="1.4"/><circle cx="529.3" cy="88.3" r="3.6" fill="#8a8a8a"/><circle cx="529.9" cy="87.7" r="1.8" fill="#a8a8a8"/><circle cx="529.3" cy="88.3" r="5.0" fill="none" stroke="#f39018" stroke-width="1.4"/><circle cx="527.1" cy="96.2" r="3.6" fill="#8a8a8a"/><circle cx="527.7" cy="95.60000000000001" r="1.8" fill="#a8a8a8"/><circle cx="527.1" cy="96.2" r="5.0" fill="none" stroke="#3f63dc" stroke-width="1.4"/><circle cx="534.4" cy="97.1" r="3.6" fill="#8a8a8a"/><circle cx="535.0" cy="96.5" r="1.8" fill="#a8a8a8"/><circle cx="534.4" cy="97.1" r="5.0" fill="none" stroke="#f39018" stroke-width="1.4"/><circle cx="604.2" cy="45.6" r="3.6" fill="#8a8a8a"/><circle cx="604.8000000000001" cy="45.0" r="1.8" fill="#a8a8a8"/><circle cx="604.2" cy="45.6" r="5.0" fill="none" stroke="#3f63dc" stroke-width="1.4"/><circle cx="614.5" cy="43" r="3.6" fill="#8a8a8a"/><circle cx="615.1" cy="42.4" r="1.8" fill="#a8a8a8"/><circle cx="614.5" cy="43" r="5.0" fill="none" stroke="#3f63dc" stroke-width="1.4"/><circle cx="613.7" cy="51.9" r="3.6" fill="#8a8a8a"/><circle cx="614.3000000000001" cy="51.3" r="1.8" fill="#a8a8a8"/><circle cx="613.7" cy="51.9" r="5.0" fill="none" stroke="#3f63dc" stroke-width="1.4"/><circle cx="598.3" cy="61" r="3.6" fill="#8a8a8a"/><circle cx="598.9" cy="60.4" r="1.8" fill="#a8a8a8"/><circle cx="598.3" cy="61" r="5.0" fill="none" stroke="#3f63dc" stroke-width="1.4"/><circle cx="607.8" cy="62" r="3.6" fill="#8a8a8a"/><circle cx="608.4" cy="61.4" r="1.8" fill="#a8a8a8"/><circle cx="607.8" cy="62" r="5.0" fill="none" stroke="#f39018" stroke-width="1.4"/><circle cx="615.7" cy="60" r="3.6" fill="#8a8a8a"/><circle cx="616.3000000000001" cy="59.4" r="1.8" fill="#a8a8a8"/><circle cx="615.7" cy="60" r="5.0" fill="none" stroke="#f39018" stroke-width="1.4"/><circle cx="636.3" cy="51.1" r="3.6" fill="#8a8a8a"/><circle cx="636.9" cy="50.5" r="1.8" fill="#a8a8a8"/><circle cx="636.3" cy="51.1" r="5.0" fill="none" stroke="#3f63dc" stroke-width="1.4"/><circle cx="644.6" cy="56.8" r="3.6" fill="#8a8a8a"/><circle cx="645.2" cy="56.199999999999996" r="1.8" fill="#a8a8a8"/><circle cx="644.6" cy="56.8" r="5.0" fill="none" stroke="#3f63dc" stroke-width="1.4"/><circle cx="634.2" cy="61.8" r="3.6" fill="#8a8a8a"/><circle cx="634.8000000000001" cy="61.199999999999996" r="1.8" fill="#a8a8a8"/><circle cx="634.2" cy="61.8" r="5.0" fill="none" stroke="#f39018" stroke-width="1.4"/><circle cx="643.6" cy="83" r="3.6" fill="#8a8a8a"/><circle cx="644.2" cy="82.4" r="1.8" fill="#a8a8a8"/><circle cx="643.6" cy="83" r="5.0" fill="none" stroke="#3f63dc" stroke-width="1.4"/><circle cx="643.2" cy="93.9" r="3.6" fill="#8a8a8a"/><circle cx="643.8000000000001" cy="93.30000000000001" r="1.8" fill="#a8a8a8"/><circle cx="643.2" cy="93.9" r="5.0" fill="none" stroke="#3f63dc" stroke-width="1.4"/><circle cx="635.8" cy="91.9" r="3.6" fill="#8a8a8a"/><circle cx="636.4" cy="91.30000000000001" r="1.8" fill="#a8a8a8"/><circle cx="635.8" cy="91.9" r="5.0" fill="none" stroke="#f39018" stroke-width="1.4"/><circle cx="633.4" cy="99.8" r="3.6" fill="#8a8a8a"/><circle cx="634.0" cy="99.2" r="1.8" fill="#a8a8a8"/><circle cx="633.4" cy="99.8" r="5.0" fill="none" stroke="#3f63dc" stroke-width="1.4"/><circle cx="641.3" cy="100.4" r="3.6" fill="#8a8a8a"/><circle cx="641.9" cy="99.80000000000001" r="1.8" fill="#a8a8a8"/><circle cx="641.3" cy="100.4" r="5.0" fill="none" stroke="#f39018" stroke-width="1.4"/>
<text x="519.4" y="132.4" font-size="10" text-anchor="middle" fill="#111">Identify clones</text>
<text x="628.2" y="132.4" font-size="9.8" text-anchor="middle" fill="#111">Select clones containing</text>
<text x="628.4" y="143.5" font-size="9.8" text-anchor="middle" fill="#111">TIM-3<tspan font-size="6.5" dy="-3.5">+</tspan><tspan dy="3.5"> cells</tspan></text>
<text x="-0.5" y="166.3" font-size="14" font-weight="bold" fill="#000">b</text>
<line x1="42.6" y1="164" x2="42.6" y2="421.3" stroke="#333" stroke-width="0.9"/>
<line x1="42.2" y1="421" x2="300" y2="421" stroke="#333" stroke-width="0.9"/>
<line x1="40" y1="410.0" x2="42.6" y2="410.0" stroke="#333" stroke-width="0.8"/>
<text x="37.8" y="413.6" font-size="10" text-anchor="end" fill="#222">0</text>
<line x1="54.3" y1="421" x2="54.3" y2="423.6" stroke="#333" stroke-width="0.8"/>
<text x="54.3" y="435.2" font-size="10" text-anchor="middle" fill="#222">0</text>
<line x1="40" y1="363.3" x2="42.6" y2="363.3" stroke="#333" stroke-width="0.8"/>
<text x="37.8" y="366.9" font-size="10" text-anchor="end" fill="#222">20</text>
<line x1="101.2" y1="421" x2="101.2" y2="423.6" stroke="#333" stroke-width="0.8"/>
<text x="101.2" y="435.2" font-size="10" text-anchor="middle" fill="#222">20</text>
<line x1="40" y1="316.7" x2="42.6" y2="316.7" stroke="#333" stroke-width="0.8"/>
<text x="37.8" y="320.3" font-size="10" text-anchor="end" fill="#222">40</text>
<line x1="148.1" y1="421" x2="148.1" y2="423.6" stroke="#333" stroke-width="0.8"/>
<text x="148.1" y="435.2" font-size="10" text-anchor="middle" fill="#222">40</text>
<line x1="40" y1="270.0" x2="42.6" y2="270.0" stroke="#333" stroke-width="0.8"/>
<text x="37.8" y="273.6" font-size="10" text-anchor="end" fill="#222">60</text>
<line x1="195.0" y1="421" x2="195.0" y2="423.6" stroke="#333" stroke-width="0.8"/>
<text x="195.0" y="435.2" font-size="10" text-anchor="middle" fill="#222">60</text>
<line x1="40" y1="223.4" x2="42.6" y2="223.4" stroke="#333" stroke-width="0.8"/>
<text x="37.8" y="227.0" font-size="10" text-anchor="end" fill="#222">80</text>
<line x1="241.9" y1="421" x2="241.9" y2="423.6" stroke="#333" stroke-width="0.8"/>
<text x="241.9" y="435.2" font-size="10" text-anchor="middle" fill="#222">80</text>
<line x1="40" y1="176.7" x2="42.6" y2="176.7" stroke="#333" stroke-width="0.8"/>
<text x="37.8" y="180.3" font-size="10" text-anchor="end" fill="#222">100</text>
<line x1="288.8" y1="421" x2="288.8" y2="423.6" stroke="#333" stroke-width="0.8"/>
<text x="288.8" y="435.2" font-size="10" text-anchor="middle" fill="#222">100</text>
<text x="171.5" y="455" font-size="10.3" text-anchor="middle" fill="#111">Fraction of cells Precursor Exh. (%)</text>
<text x="9.3" y="292.7" font-size="10.3" text-anchor="middle" fill="#111" transform="rotate(-90 9.3 292.7)">Fraction of cells Terminally Exh. (%)</text>
<text x="205.9" y="167.9" font-size="9.8" fill="#ff8c00">Expanding clone</text>
<text x="205.9" y="179.4" font-size="9.8" fill="#4169e1">Contracting clone</text>
<path d="M54.3,176.7L78.7,226.6M78.9,221.8L78.7,226.6L74.8,223.8" stroke="#ff8c00" stroke-width="1.1" fill="none"/>
<path d="M76.0,199.5L153.6,276.8M152.2,272.2L153.6,276.8L149.1,275.4M58.1,196.6L94.2,232.5M92.8,227.9L94.2,232.5L89.6,231.1M112.7,235.3L180.9,303.2M179.5,298.6L180.9,303.2L176.3,301.8M162.4,293.6L82.2,213.8M83.6,218.4L82.2,213.8L86.8,215.2M85.0,224.3L172.3,311.2M170.9,306.6L172.3,311.2L167.7,309.8M58.1,199.8L146.6,287.9M145.2,283.3L146.6,287.9L142.0,286.5M105.0,228.2L173.5,296.3M172.1,291.7L173.5,296.3L168.9,294.9M105.8,231.0L187.2,312.0M185.8,307.4L187.2,312.0L182.6,310.6M80.4,220.8L172.0,312.0M170.6,307.4L172.0,312.0L167.4,310.6M104.8,241.0L60.0,196.5M61.4,201.1L60.0,196.5L64.6,197.9M91.0,226.7L147.4,282.7M146.0,278.1L147.4,282.7L142.8,281.3M76.9,202.2L136.8,261.7M135.4,257.1L136.8,261.7L132.2,260.3M94.3,240.5L166.2,312.0M164.8,307.4L166.2,312.0L161.6,310.6M176.2,312.0L112.4,248.5M113.8,253.1L112.4,248.5L117.0,249.9M107.3,250.7L169.0,312.0M167.5,307.4L169.0,312.0L164.4,310.6M66.7,214.5L160.4,307.7M158.9,303.1L160.4,307.7L155.8,306.3M189.3,312.0L104.4,227.5M105.8,232.1L104.4,227.5L109.0,228.9M108.9,263.6L78.4,233.3M79.8,237.9L78.4,233.3L83.0,234.7M105.5,261.7L131.0,287.1M129.6,282.5L131.0,287.1L126.4,285.7M96.4,286.5L135.4,325.3M134.0,320.7L135.4,325.3L130.8,323.9M154.2,300.3L83.9,230.4M85.3,235.0L83.9,230.4L88.5,231.8M114.4,302.9L89.5,278.1M90.9,282.7L89.5,278.1L94.1,279.5M120.9,293.9L90.1,263.3M91.5,267.8L90.1,263.3L94.7,264.7M72.7,224.5L141.1,292.6M139.7,288.0L141.1,292.6L136.5,291.2M81.3,255.9L129.1,303.5M127.7,298.9L129.1,303.5L124.5,302.1M87.1,251.5L139.6,303.8M138.2,299.2L139.6,303.8L135.0,302.4M136.8,305.1L79.6,248.2M81.0,252.8L79.6,248.2L84.2,249.6M111.6,289.7L159.5,337.3M158.1,332.7L159.5,337.3L154.9,335.9M62.6,301.2L53.1,293.4M54.9,297.8L53.1,293.4L57.8,294.3M86.5,223.0L98.3,220.5M93.7,219.2L98.3,220.5L94.6,223.6M58.4,243.9L53.5,254.1M57.4,251.2L53.5,254.1L53.3,249.3M64.6,299.9L80.7,293.5M75.9,292.9L80.7,293.5L77.6,297.1M54.5,228.0L53.1,217.6M51.4,222.1L53.1,217.6L55.9,221.6M80.2,263.3L69.4,251.7M70.6,256.4L69.4,251.7L73.9,253.3M61.4,205.4L76.6,202.8M72.0,201.3L76.6,202.8L72.8,205.7M76.0,210.1L72.7,201.9M72.2,206.6L72.7,201.9L76.4,205.0M60.0,279.1L53.1,272.1M54.5,276.7L53.1,272.1L57.7,273.5M70.6,289.9L65.9,280.1M65.7,284.8L65.9,280.1L69.7,282.9M66.9,194.9L67.6,190.0M64.8,193.8L67.6,190.0L69.3,194.5M76.1,220.8L86.0,229.4M84.3,224.9L86.0,229.4L81.3,228.3M56.2,236.0L63.4,217.6M59.7,220.7L63.4,217.6L63.9,222.4M66.1,197.0L67.9,190.2M64.6,193.7L67.9,190.2L69.0,194.9M66.1,201.1L62.1,195.3M62.6,200.0L62.1,195.3L66.4,197.5M85.8,265.9L88.4,275.3M89.4,270.6L88.4,275.3L85.1,271.8M68.2,249.8L53.1,238.0M55.1,242.4L53.1,238.0L57.9,238.9M74.3,283.0L96.7,282.4M92.4,280.2L96.7,282.4L92.5,284.8M104.6,248.0L125.6,254.7M122.3,251.3L125.6,254.7L120.9,255.6M101.6,274.7L101.0,295.0M103.4,290.8L101.0,295.0L98.9,290.7M69.1,266.3L64.2,258.8M64.6,263.6L64.2,258.8L68.4,261.1M78.5,294.1L70.0,299.4M74.8,299.1L70.0,299.4L72.4,295.3M56.9,188.8L53.1,209.4M56.1,205.6L53.1,209.4L51.7,204.8M60.9,189.7L73.5,198.8M71.3,194.5L73.5,198.8L68.7,198.2M93.0,281.0L87.7,264.8M86.8,269.6L87.7,264.8L91.1,268.2M57.5,236.5L53.1,225.1M52.5,229.9L53.1,225.1L56.7,228.3M70.6,270.9L79.4,281.2M78.4,276.6L79.4,281.2L75.0,279.5M68.2,204.1L63.2,197.4M63.9,202.2L63.2,197.4L67.5,199.5M96.5,281.1L102.2,302.2M103.2,297.5L102.2,302.2L98.9,298.7M63.6,201.1L65.8,205.4M65.9,200.6L65.8,205.4L61.9,202.7M86.6,296.4L85.3,286.8M83.6,291.3L85.3,286.8L88.1,290.7M88.1,236.3L76.1,230.0M78.8,233.9L76.1,230.0L80.9,229.9M54.5,295.8L59.4,290.8M54.9,292.2L59.4,290.8L58.1,295.4M55.7,294.1L76.1,297.3M72.3,294.4L76.1,297.3L71.6,298.9M78.0,262.9L73.6,252.6M73.2,257.4L73.6,252.6L77.3,255.6M68.6,221.2L58.8,227.1M63.6,226.8L58.8,227.1L61.2,223.0M61.9,287.1L53.1,293.3M57.9,292.7L53.1,293.3L55.3,289.0M73.8,254.8L80.9,250.9M76.1,251.0L80.9,250.9L78.2,254.9M76.6,204.1L62.2,190.7M63.8,195.2L62.2,190.7L66.9,191.9M77.1,224.2L66.5,219.4M69.4,223.2L66.5,219.4L71.3,219.1M90.8,249.7L86.2,262.2M89.8,259.0L86.2,262.2L85.6,257.4M55.2,271.8L53.1,275.7M57.1,273.0L53.1,275.7L53.1,270.9M76.5,249.0L92.7,264.2M91.2,259.7L92.7,264.2L88.1,263.0M65.0,255.5L80.7,267.2M78.6,262.8L80.7,267.2L75.9,266.4M56.3,287.2L62.9,302.9M63.4,298.1L62.9,302.9L59.2,299.8M63.5,210.2L57.4,212.8M62.2,213.2L57.4,212.8L60.4,209.1M87.9,228.6L95.2,228.4M90.9,226.3L95.2,228.4L91.1,230.8M55.4,291.1L72.6,278.8M67.8,279.4L72.6,278.8L70.5,283.1M61.3,280.1L81.5,277.1M77.0,275.5L81.5,277.1L77.7,280.0M87.0,217.8L98.6,237.1M98.4,232.3L98.6,237.1L94.5,234.6M85.5,229.7L87.1,234.8M88.0,230.1L87.1,234.8L83.7,231.5M57.4,212.6L72.0,201.0M67.3,201.9L72.0,201.0L70.1,205.4M73.5,231.6L77.9,239.7M77.9,234.9L77.9,239.7L73.9,237.1M62.1,280.0L62.1,263.9M59.8,268.1L62.1,263.9L64.3,268.1M54.8,256.4L53.1,249.6M52.0,254.3L53.1,249.6L56.3,253.2M77.8,250.0L89.9,243.0M85.1,243.2L89.9,243.0L87.4,247.1M78.2,208.5L79.4,201.7M76.4,205.5L79.4,201.7L80.9,206.3M58.4,207.4L53.1,220.1M56.8,217.1L53.1,220.1L52.7,215.4M57.7,283.9L73.2,273.3M68.4,273.8L73.2,273.3L70.9,277.6M78.8,246.9L77.2,254.9M80.3,251.1L77.2,254.9L75.8,250.3M68.5,269.0L73.4,254.2M69.9,257.5L73.4,254.2L74.2,258.9M61.1,215.6L70.9,218.6M67.4,215.2L70.9,218.6L66.2,219.5M70.0,213.8L53.1,203.1M55.5,207.3L53.1,203.1L57.9,203.5M70.2,275.3L83.8,273.3M79.3,271.7L83.8,273.3L79.9,276.1M63.7,254.5L69.1,244.4M65.1,247.1L69.1,244.4L69.0,249.2M72.0,284.6L85.7,285.3M81.6,282.9L85.7,285.3L81.3,287.4M90.7,227.2L70.7,223.2M74.4,226.2L70.7,223.2L75.3,221.8M67.3,242.0L63.5,262.4M66.5,258.6L63.5,262.4L62.1,257.8M81.2,252.3L78.9,274.7M81.6,270.7L78.9,274.7L77.1,270.3M70.9,273.1L67.4,290.0M70.4,286.3L67.4,290.0L66.0,285.4M57.7,181.9L63.4,189.2M62.6,184.5L63.4,189.2L59.0,187.2M61.0,279.1L55.2,299.0M58.5,295.5L55.2,299.0L54.2,294.3M55.8,263.2L53.1,254.7M52.2,259.4L53.1,254.7L56.5,258.1M101.2,291.9L118.2,280.7M113.4,281.2L118.2,280.7L115.9,284.9M60.0,229.6L57.8,233.9M61.8,231.1L57.8,233.9L57.8,229.1M75.6,260.5L62.9,255.1M65.9,258.9L62.9,255.1L67.6,254.7M84.4,253.4L77.8,255.3M82.5,256.3L77.8,255.3L81.2,252.0M59.7,288.5L76.2,302.6M74.4,298.1L76.2,302.6L71.5,301.5M88.6,290.5L99.5,294.7M96.4,291.1L99.5,294.7L94.7,295.3M59.8,265.5L53.1,280.5M56.9,277.6L53.1,280.5L52.8,275.7M58.1,181.6L53.1,194.6M56.8,191.4L53.1,194.6L52.6,189.8M93.4,288.4L82.1,288.0M86.3,290.4L82.1,288.0L86.4,285.9M61.3,231.3L68.3,216.1M64.5,219.0L68.3,216.1L68.6,220.9M88.9,223.2L89.9,212.2M87.3,216.2L89.9,212.2L91.8,216.6M61.0,185.3L61.2,183.6M58.6,187.6L61.2,183.6L63.1,188.0M64.3,211.9L53.1,220.5M57.9,219.7L53.1,220.5L55.1,216.2M69.9,263.3L72.5,258.0M68.6,260.8L72.5,258.0L72.7,262.8M75.0,212.5L75.5,227.3M77.6,223.0L75.5,227.3L73.1,223.1M55.7,269.2L53.1,255.2M51.7,259.8L53.1,255.2L56.1,258.9M76.4,297.4L67.1,297.7M71.4,299.8L67.1,297.7L71.2,295.3M56.9,260.7L53.1,252.3M52.8,257.1L53.1,252.3L56.9,255.3M76.1,205.5L63.7,189.1M64.4,193.9L63.7,189.1L68.0,191.1M68.5,290.1L83.2,277.6M78.5,278.7L83.2,277.6L81.4,282.1M66.4,211.1L69.6,203.5M65.9,206.5L69.6,203.5L70.0,208.3M73.6,208.4L67.4,212.4M72.2,212.0L67.4,212.4L69.7,208.2M66.7,236.2L58.9,239.7M63.7,240.0L58.9,239.7L61.9,235.9M63.5,271.2L64.5,276.3M65.9,271.7L64.5,276.3L61.5,272.6M101.0,254.4L86.2,259.5M90.9,260.2L86.2,259.5L89.5,256.0M102.2,265.0L111.0,275.5M110.0,270.8L111.0,275.5L106.6,273.7M84.7,302.4L86.9,319.3M88.6,314.8L86.9,319.3L84.1,315.4M76.8,240.7L63.6,242.7M68.1,244.3L63.6,242.7L67.4,239.8M64.3,298.0L53.1,298.1M57.4,300.3L53.1,298.1L57.4,295.8M81.3,246.7L60.5,255.8M65.3,256.2L60.5,255.8L63.5,252.0M64.2,202.9L60.1,206.8M64.7,205.4L60.1,206.8L61.6,202.2M62.2,257.3L62.9,251.3M60.2,255.2L62.9,251.3L64.7,255.7M106.7,262.0L118.9,274.8M117.6,270.2L118.9,274.8L114.4,273.3M67.4,285.8L77.4,298.1M76.5,293.4L77.4,298.1L73.0,296.2M70.8,259.4L78.5,280.1M79.1,275.3L78.5,280.1L74.9,276.9M70.5,207.3L63.8,206.7M67.8,209.3L63.8,206.7L68.2,204.9M73.5,297.3L81.0,293.3M76.2,293.3L81.0,293.3L78.3,297.3M68.9,214.6L56.7,217.5M61.3,218.7L56.7,217.5L60.3,214.3M77.6,220.9L73.1,208.3M72.4,213.1L73.1,208.3L76.6,211.6M55.4,279.9L70.0,290.6M67.9,286.3L70.0,290.6L65.3,289.9M78.0,256.5L68.0,245.9M69.3,250.5L68.0,245.9L72.5,247.4M68.0,302.3L73.0,283.7M69.7,287.2L73.0,283.7L74.1,288.4M63.8,284.6L55.7,282.5M59.3,285.8L55.7,282.5L60.4,281.4M57.9,251.8L60.5,247.3M56.4,249.9L60.5,247.3L60.4,252.1M68.2,288.8L75.0,276.8M71.0,279.4L75.0,276.8L74.9,281.6M58.9,246.2L53.1,236.5M53.4,241.3L53.1,236.5L57.2,239.0M56.1,296.2L53.1,289.4M52.8,294.1L53.1,289.4L56.9,292.3M114.3,275.1L125.6,267.6M120.8,268.0L125.6,267.6L123.3,271.8M64.4,281.9L56.4,289.7M61.0,288.4L56.4,289.7L57.9,285.1M59.7,211.0L56.7,191.9M55.1,196.4L56.7,191.9L59.6,195.7M59.7,244.0L69.1,248.3M66.1,244.5L69.1,248.3L64.3,248.6M54.3,200.0L53.1,208.1M56.0,204.2L53.1,208.1L51.5,203.6M63.4,216.4L76.2,218.9M72.4,215.9L76.2,218.9L71.6,220.3M59.2,278.8L65.1,275.0M60.3,275.4L65.1,275.0L62.8,279.2M60.7,276.5L53.1,290.8M57.1,288.1L53.1,290.8L53.1,286.0M60.6,252.5L53.1,263.7M57.4,261.4L53.1,263.7L53.6,258.9M63.1,253.6L66.8,258.7M66.1,253.9L66.8,258.7L62.5,256.6M77.3,249.7L69.7,265.7M73.6,262.8L69.7,265.7L69.5,260.9M67.2,210.9L65.5,227.2M68.2,223.2L65.5,227.2L63.7,222.8M76.0,242.0L78.0,226.6M75.2,230.5L78.0,226.6L79.7,231.1M81.5,255.9L88.7,243.0M84.7,245.6L88.7,243.0L88.6,247.8M87.4,213.7L78.7,206.2M80.4,210.7L78.7,206.2L83.3,207.3M66.2,213.7L77.4,212.1M72.8,210.5L77.4,212.1L73.5,214.9M63.5,259.0L71.2,270.4M70.7,265.6L71.2,270.4L66.9,268.1M93.4,249.8L89.5,245.6M90.7,250.3L89.5,245.6L94.0,247.2M63.9,227.3L68.4,223.6M63.7,224.5L68.4,223.6L66.6,228.0M89.4,258.7L96.0,256.6M91.2,255.7L96.0,256.6L92.6,260.0M89.2,225.7L97.1,225.1M92.7,223.2L97.1,225.1L93.1,227.7M104.4,260.6L94.6,264.7M99.3,265.1L94.6,264.7L97.6,261.0M95.6,223.9L98.6,235.7M99.7,231.0L98.6,235.7L95.4,232.1M67.8,264.7L82.1,257.0M77.3,257.0L82.1,257.0L79.5,261.0M64.3,279.4L71.6,281.0M67.9,277.9L71.6,281.0L67.0,282.3M100.9,273.5L93.2,271.8M96.9,274.9L93.2,271.8L97.9,270.5M97.9,222.8L88.2,234.7M92.6,232.9L88.2,234.7L89.1,230.0M99.9,248.6L91.1,255.2M95.9,254.4L91.1,255.2L93.2,250.8M64.2,201.8L53.1,210.8M57.8,209.8L53.1,210.8L55.0,206.3M68.7,230.1L54.1,226.8M57.7,229.9L54.1,226.8L58.7,225.5M62.6,248.6L56.9,248.0M60.9,250.7L56.9,248.0L61.4,246.2M84.9,211.3L72.7,204.9M75.4,208.9L72.7,204.9L77.5,204.9M87.4,261.2L76.4,246.2M77.1,250.9L76.4,246.2L80.7,248.3M74.7,240.5L81.4,236.6M76.6,236.8L81.4,236.6L78.9,240.7M66.7,192.6L64.2,209.4M67.1,205.5L64.2,209.4L62.6,204.8M102.7,230.4L86.9,221.7M89.5,225.7L86.9,221.7L91.7,221.8M81.7,207.7L66.1,197.4M68.4,201.6L66.1,197.4L70.9,197.9M102.2,253.8L108.8,256.7M105.8,252.9L108.8,256.7L104.0,257.0M63.5,212.6L60.2,201.1M59.2,205.8L60.2,201.1L63.5,204.6M89.0,277.8L88.7,286.3M91.1,282.2L88.7,286.3L86.6,282.0M82.4,410.0L77.8,354.0M75.9,358.4L77.8,354.0L80.3,358.0M94.2,407.7L89.5,358.7M87.6,363.1L89.5,358.7L92.1,362.7M73.1,403.0L68.4,368.0M66.7,372.5L68.4,368.0L71.2,371.9M101.2,368.0L112.9,358.7M108.2,359.6L112.9,358.7L111.0,363.1M61.3,405.3L59.0,377.3M57.1,381.7L59.0,377.3L61.6,381.4M112.9,398.3L124.7,377.3M120.6,379.9L124.7,377.3L124.6,382.1M87.1,382.0L96.5,363.3M92.6,366.1L96.5,363.3L96.6,368.1M136.4,405.3L148.1,389.0M143.8,391.1L148.1,389.0L147.5,393.8M63.7,386.7L75.4,370.3M71.1,372.5L75.4,370.3L74.8,375.1M56.5,280.1L56.5,302.3M58.7,298.0L56.5,302.3L54.2,298.0M56.6,334.6L57.6,314.0M55.1,318.2L57.6,314.0L59.6,318.4M55.1,225.3L58.9,260.8M60.7,256.4L58.9,260.8L56.2,256.8M55.0,290.0L53.1,274.6M51.4,279.1L53.1,274.6L55.9,278.5M55.1,261.9L54.6,284.6M57.0,280.5L54.6,284.6L52.5,280.4M57.4,204.8L57.5,179.7M55.2,184.0L57.5,179.7L59.7,184.0M59.4,350.0L58.3,358.7M61.1,354.8L58.3,358.7L56.6,354.2M54.7,343.3L53.1,358.7M55.8,354.7L53.1,358.7L51.3,354.2M56.0,221.6L56.1,178.4M53.8,182.6L56.1,178.4L58.3,182.6M54.7,280.1L53.9,258.1M51.8,262.4L53.9,258.1L56.3,262.3M54.7,300.1L53.4,318.6M55.9,314.5L53.4,318.6L51.4,314.2M55.4,344.4L53.5,358.7M56.3,354.8L53.5,358.7L51.8,354.2M59.8,217.7L60.0,199.2M57.7,203.4L60.0,199.2L62.2,203.4M59.3,267.4L59.1,307.7M61.3,303.5L59.1,307.7L56.8,303.5M56.0,348.9L57.7,358.7M59.2,354.1L57.7,358.7L54.8,354.9M56.1,241.4L54.5,285.4M56.9,281.3L54.5,285.4L52.4,281.1M56.1,265.8L53.7,250.1M52.1,254.6L53.7,250.1L56.5,254.0M62.3,261.1L59.1,236.5M57.4,241.0L59.1,236.5L61.9,240.4M55.7,276.7L54.8,231.6M52.6,235.9L54.8,231.6L57.2,235.8M57.4,283.5L59.8,324.6M61.8,320.2L59.8,324.6L57.3,320.4M55.9,346.6L54.4,358.7M57.2,354.7L54.4,358.7L52.7,354.2M54.5,234.2L53.6,190.8M51.4,195.1L53.6,190.8L55.9,195.0M56.7,266.4L55.9,309.2M58.2,305.0L55.9,309.2L53.7,304.9M55.8,199.2L56.5,183.1M54.1,187.2L56.5,183.1L58.6,187.4M102.9,277.7L115.8,282.4M112.6,278.9L115.8,282.4L111.0,283.1M116.3,318.2L124.7,309.2M120.1,310.8L124.7,309.2L123.4,313.9M181.1,330.5L182.5,319.4M179.7,323.3L182.5,319.4L184.2,323.9M81.8,303.4L80.7,328.0M83.2,323.9L80.7,328.0L78.7,323.7M142.6,285.7L155.6,285.3M151.3,283.2L155.6,285.3L151.4,287.7M179.0,331.1L177.1,314.1M175.3,318.6L177.1,314.1L179.8,318.1M102.6,302.2L114.1,298.7M109.4,297.8L114.1,298.7L110.7,302.1M178.6,326.6L187.5,332.6M185.3,328.4L187.5,332.6L182.8,332.1M144.4,326.7L166.1,319.0M161.3,318.3L166.1,319.0L162.8,322.5M92.5,323.8L103.7,346.6M103.9,341.8L103.7,346.6L99.8,343.8M78.4,277.1L63.7,280.3M68.3,281.6L63.7,280.3L67.3,277.2M84.9,311.7L97.8,312.7M93.7,310.1L97.8,312.7L93.4,314.6M87.5,326.5L97.6,316.2M93.1,317.7L97.6,316.2L96.3,320.8M173.9,330.7L183.5,305.7M179.9,308.9L183.5,305.7L184.1,310.5M100.2,313.8L116.6,319.1M113.3,315.6L116.6,319.1L111.9,319.9M150.6,316.3L164.8,314.4M160.3,312.8L164.8,314.4L160.9,317.2M155.5,287.9L140.2,294.9M145.0,295.2L140.2,294.9L143.2,291.1M132.4,308.5L108.3,313.8M113.0,315.1L108.3,313.8L112.0,310.7M95.2,299.3L117.9,309.5M115.0,305.7L117.9,309.5L113.1,309.8M92.8,276.9L98.5,285.8M98.1,281.0L98.5,285.8L94.3,283.4M102.4,323.1L128.5,314.1M123.8,313.3L128.5,314.1L125.3,317.6M118.2,282.4L123.7,277.6M119.0,278.7L123.7,277.6L122.0,282.1M130.9,288.9L146.4,278.8M141.6,279.2L146.4,278.8L144.0,283.0M121.7,326.5L110.5,334.6M115.2,333.9L110.5,334.6L112.6,330.3M128.9,312.7L122.8,299.5M122.5,304.3L122.8,299.5L126.6,302.4M139.3,275.9L162.5,285.7M159.5,281.9L162.5,285.7L157.8,286.1M165.1,317.9L177.7,319.8M173.8,316.9L177.7,319.8L173.2,321.4M86.6,305.0L85.0,319.0M87.8,315.1L85.0,319.0L83.3,314.6M144.2,318.2L160.4,321.6M156.7,318.5L160.4,321.6L155.8,323.0M125.7,303.1L145.4,322.7M144.0,318.1L145.4,322.7L140.8,321.3M131.3,308.6L125.0,314.3M129.7,313.1L125.0,314.3L126.7,309.7M120.0,283.9L121.4,292.1M122.9,287.5L121.4,292.1L118.4,288.3M167.2,312.0L181.9,313.8M178.0,311.0L181.9,313.8L177.4,315.5M96.7,302.1L108.7,312.8M107.1,308.3L108.7,312.8L104.1,311.6M112.9,317.1L97.5,317.6M101.8,319.7L97.5,317.6L101.6,315.2M114.1,295.8L127.8,309.4M126.4,304.8L127.8,309.4L123.2,308.0M89.2,322.0L75.4,307.6M76.7,312.2L75.4,307.6L79.9,309.1M88.4,330.4L82.9,318.7M82.6,323.5L82.9,318.7L86.7,321.6M76.3,302.7L92.4,311.3M89.8,307.3L92.4,311.3L87.6,311.3M121.7,293.9L140.3,276.4M135.7,277.7L140.3,276.4L138.8,281.0M114.7,306.5L124.8,314.8M123.0,310.4L124.8,314.8L120.1,313.8M94.0,285.4L86.8,290.5M91.6,289.9L86.8,290.5L89.0,286.2M76.2,314.0L100.7,312.9M96.4,310.8L100.7,312.9L96.6,315.3M93.3,318.7L79.6,307.3M81.5,311.7L79.6,307.3L84.3,308.3M120.7,297.2L112.0,310.8M116.2,308.5L112.0,310.8L112.4,306.1M56.8,330.0L57.8,354.6M59.9,350.3L57.8,354.6L55.4,350.5M75.5,330.0L110.0,343.8M106.9,340.1L110.0,343.8L105.3,344.3M98.2,369.4L98.2,333.9M95.9,338.2L98.2,333.9L100.5,338.2M107.1,340.8L113.0,331.0M108.9,333.5L113.0,331.0L112.7,335.8M82.4,407.8L75.5,354.6M73.9,359.1L75.5,354.6L78.3,358.5M81.5,407.8L74.6,355.6M72.9,360.1L74.6,355.6L77.3,359.5M98.2,408.8L89.3,354.6M87.8,359.2L89.3,354.6L92.2,358.4M92.3,367.4L85.4,376.3M89.8,374.3L85.4,376.3L86.2,371.6M60.8,364.5L60.8,372.4M63.0,368.1L60.8,372.4L58.5,368.1M69.6,368.4L66.7,376.3M70.3,373.1L66.7,376.3L66.1,371.5M54.9,408.8L78.5,391.1M73.8,391.8L78.5,391.1L76.5,395.4M54.9,408.8L74.6,393.1M69.8,393.9L74.6,393.1L72.7,397.5M54.9,408.8L91.3,392.1M86.5,391.8L91.3,392.1L88.4,395.9M98.2,408.8L120.9,375.3M116.6,377.6L120.9,375.3L120.4,380.1M100.2,396.0L110.0,393.1M105.3,392.1L110.0,393.1L106.6,396.4M98.2,408.8L123.8,400.9M119.1,400.0L123.8,400.9L120.4,404.3M106.1,368.4L121.8,364.5M117.2,363.3L121.8,364.5L118.3,367.7M55.8,395.0L55.8,383.2M53.6,387.4L55.8,383.2L58.1,387.4M120.0,338.9L145.6,339.9M141.5,337.4L145.6,339.9L141.3,341.9M127.9,333.9L165.3,350.7M162.4,346.9L165.3,350.7L160.5,351.0M138.7,343.8L138.7,330.0M136.5,334.2L138.7,330.0L141.0,334.2M176.2,363.5L171.2,349.7M170.5,354.5L171.2,349.7L174.8,352.9M190.9,363.5L180.1,348.7M180.8,353.5L180.1,348.7L184.4,350.8M199.8,355.6L181.1,348.7M184.3,352.3L181.1,348.7L185.8,348.1M170.2,367.4L144.6,377.3M149.4,377.9L144.6,377.3L147.8,373.7M173.2,379.3L175.2,368.4M172.2,372.2L175.2,368.4L176.6,373.0M164.3,383.2L191.9,389.1M188.2,386.0L191.9,389.1L187.3,390.4M152.5,372.4L162.4,383.2M161.2,378.6L162.4,383.2L157.8,381.6M170.2,405.9L176.2,389.1M172.6,392.4L176.2,389.1L176.9,393.9M193.9,408.8L184.0,377.3M183.2,382.0L184.0,377.3L187.5,380.7M120.0,400.9L131.8,399.0M127.3,397.4L131.8,399.0L128.0,401.9M143.6,367.4L144.6,361.5M141.7,365.3L144.6,361.5L146.2,366.1M233.4,353.6L213.7,333.9M215.1,338.5L213.7,333.9L218.3,335.3M227.5,362.5L205.8,345.7M207.8,350.1L205.8,345.7L210.6,346.6M202.9,349.7L202.9,345.7M200.6,350.0L202.9,345.7L205.1,350.0M213.7,359.5L229.4,371.3M227.4,367.0L229.4,371.3L224.7,370.6M239.3,361.5L225.5,371.3M230.3,370.7L225.5,371.3L227.7,367.0M200.9,371.3L220.6,379.2M217.5,375.5L220.6,379.2L215.8,379.7M224.5,401.9L212.7,403.8M217.3,405.3L212.7,403.8L216.5,400.9M256.0,408.7L239.3,384.1M239.8,388.9L239.3,384.1L243.5,386.4M273.7,407.8L256.0,402.8M259.5,406.1L256.0,402.8L260.7,401.8M195.0,333.9L203.9,339.8M201.6,335.6L203.9,339.8L199.1,339.4M127.4,250.0L148.8,269.5M147.2,265.0L148.8,269.5L144.2,268.3M148.8,269.5L164.6,285.3M163.2,280.7L164.6,285.3L160.0,283.9M164.6,285.3L181.4,302.1M180.0,297.5L181.4,302.1L176.8,300.7M120.0,261.2L147.9,285.3M146.2,280.9L147.9,285.3L143.2,284.3M147.9,285.3L168.3,302.1M166.5,297.6L168.3,302.1L163.6,301.1M131.2,268.6L165.6,312.3M164.7,307.6L165.6,312.3L161.2,310.4M173.0,300.2L187.9,318.8M187.0,314.1L187.9,318.8L183.5,316.9M169.3,319.7L181.4,331.8M180.0,327.2L181.4,331.8L176.8,330.4M162.8,303.0L173.9,313.2M172.3,308.7L173.9,313.2L169.3,312.0M120.0,272.3L142.3,280.7M139.1,277.1L142.3,280.7L137.6,281.3M54.3,410.0L73.1,386.7M68.6,388.6L73.1,386.7L72.2,391.4M54.3,410.0L80.1,391.3M75.3,392.0L80.1,391.3L78.0,395.6M54.3,410.0L63.7,377.3M60.3,380.8L63.7,377.3L64.7,382.0M54.3,410.0L96.5,384.3M91.7,384.6L96.5,384.3L94.1,388.5M159.8,312.0L176.2,328.3M174.8,323.8L176.2,328.3L171.6,327.0M171.6,340.0L190.3,354.0M188.3,349.7L190.3,354.0L185.6,353.3M183.3,344.7L166.9,330.7M168.6,335.1L166.9,330.7L171.5,331.7M195.0,358.7L209.1,370.3M207.2,365.9L209.1,370.3L204.4,369.4M148.1,300.3L164.5,316.7M163.1,312.1L164.5,316.7L159.9,315.3M199.7,349.3L188.0,337.7M189.4,342.3L188.0,337.7L192.6,339.1" stroke="#4169e1" stroke-width="1.1" fill="none" stroke-linecap="round" stroke-linejoin="round"/>
<path d="M51.9,408.8L82.4,408.8M78.2,406.6L82.4,408.8L78.2,411.1M82.4,408.8L92.3,407.8M87.8,406.0L92.3,407.8L88.3,410.5M98.2,408.8L123.8,408.8M119.6,406.6L123.8,408.8L119.6,411.1M52.9,408.8L63.7,364.5M60.5,368.1L63.7,364.5L64.9,369.1M52.9,408.8L72.6,376.3M68.5,378.8L72.6,376.3L72.3,381.1M52.9,408.8L65.7,379.3M61.9,382.3L65.7,379.3L66.1,384.0M52.9,408.8L68.6,385.2M64.4,387.4L68.6,385.2L68.2,389.9M84.4,408.8L100.2,389.1M95.8,391.0L100.2,389.1L99.3,393.8M92.3,408.8L110.0,386.2M105.6,388.1L110.0,386.2L109.2,390.9M97.2,408.8L97.2,374.3M95.0,378.6L97.2,374.3L99.5,378.6M115.9,362.5L115.9,335.9M113.7,340.1L115.9,335.9L118.2,340.1M118.9,408.8L110.0,360.5M108.6,365.1L110.0,360.5L113.0,364.3M88.3,348.7L85.4,347.7M88.7,351.2L85.4,347.7L90.1,346.9M93.3,359.6L90.3,361.5M95.1,361.1L90.3,361.5L92.6,357.3M139.7,408.8L123.0,362.5M122.3,367.3L123.0,362.5L126.5,365.7M139.7,408.8L134.8,360.5M133.0,365.0L134.8,360.5L137.5,364.5M134.8,383.2L131.8,364.5M130.3,369.0L131.8,364.5L134.7,368.3M145.6,399.0L139.7,381.2M138.9,386.0L139.7,381.2L143.2,384.5M120.0,408.8L131.8,408.8M127.6,406.6L131.8,408.8L127.6,411.1M120.0,397.0L127.9,380.2M124.0,383.1L127.9,380.2L128.1,385.0M157.4,386.2L142.7,351.7M142.3,356.5L142.7,351.7L146.4,354.7M159.4,386.2L151.5,360.5M150.6,365.3L151.5,360.5L154.9,363.9M170.2,385.2L158.4,356.6M158.0,361.4L158.4,356.6L162.1,359.7M158.4,408.8L162.4,388.1M159.4,391.9L162.4,388.1L163.8,392.7M169.3,406.8L163.3,385.2M162.3,389.9L163.3,385.2L166.6,388.7M148.6,404.9L190.9,409.8M187.0,407.1L190.9,409.8L186.5,411.6M173.2,408.8L179.1,398.0M175.1,400.6L179.1,398.0L179.1,402.8M199.8,399.0L185.0,378.3M185.7,383.0L185.0,378.3L189.3,380.4M198.8,391.1L187.0,379.3M188.4,383.9L187.0,379.3L191.6,380.7M190.9,400.0L185.0,398.0M188.3,401.5L185.0,398.0L189.8,397.2M199.8,359.6L183.1,335.9M183.7,340.7L183.1,335.9L187.3,338.1M145.6,338.9L156.5,338.9M152.2,336.6L156.5,338.9L152.2,341.1M155.5,330.0L165.3,347.7M165.2,342.9L165.3,347.7L161.3,345.1M286.5,408.7L233.4,353.6M234.7,358.2L233.4,353.6L237.9,355.1M286.5,408.7L236.3,378.2M238.8,382.4L236.3,378.2L241.1,378.5M286.5,408.7L249.1,378.2M251.0,382.7L249.1,378.2L253.8,379.2M286.5,408.7L244.2,389.1M247.1,392.9L244.2,389.1L249.0,388.8M286.5,408.7L265.9,387.1M267.2,391.7L265.9,387.1L270.4,388.6M286.5,408.7L254.1,400.9M257.6,404.1L254.1,400.9L258.7,399.7M286.5,408.7L224.5,407.8M228.7,410.1L224.5,407.8L228.8,405.6M286.5,408.7L248.1,407.8M252.3,410.1L248.1,407.8L252.4,405.6M286.5,408.7L262.9,406.8M266.9,409.4L262.9,406.8L267.3,404.9M254.1,375.3L240.3,361.5M241.7,366.1L240.3,361.5L244.9,362.9M195.0,395.0L206.8,409.7M205.9,405.0L206.8,409.7L202.4,407.8M215.7,405.8L197.0,384.1M198.0,388.8L197.0,384.1L201.4,385.9M215.7,391.0L207.8,374.3M207.6,379.1L207.8,374.3L211.6,377.2M195.0,357.6L212.7,370.4M210.6,366.0L212.7,370.4L208.0,369.7M229.4,359.5L224.5,361.5M229.3,362.0L224.5,361.5L227.6,357.8M195.0,404.8L220.6,410.7M217.0,407.6L220.6,410.7L216.0,412.0M165.6,295.6L147.9,276.0M149.1,280.7L147.9,276.0L152.4,277.7M168.3,331.8L150.7,315.1M152.2,319.6L150.7,315.1L155.3,316.4M157.2,335.0L149.8,314.2M149.1,318.9L149.8,314.2L153.3,317.4M160.0,335.0L151.6,315.1M151.2,319.9L151.6,315.1L155.3,318.1M110.3,410.0L121.4,370.4M118.1,373.8L121.4,370.4L122.5,375.1M109.0,410.0L105.1,368.5M103.2,372.9L105.1,368.5L107.7,372.5M194.2,410.0L179.7,391.0M180.5,395.8L179.7,391.0L184.0,393.0M146.2,410.0L141.7,364.2M139.9,368.6L141.7,364.2L144.3,368.2M178.7,410.0L171.6,378.6M170.4,383.3L171.6,378.6L174.8,382.3M54.3,410.0L73.6,367.1M69.8,370.1L73.6,367.1L73.9,371.9M54.3,410.0L65.6,383.2M61.9,386.2L65.6,383.2L66.0,388.0M54.3,410.0L63.2,375.1M60.0,378.6L63.2,375.1L64.3,379.7M127.0,249.7L112.5,251.8M117.0,253.4L112.5,251.8L116.3,249.0M97.0,295.9L88.3,307.8M92.6,305.7L88.3,307.8L89.0,303.1" stroke="#ff8c00" stroke-width="1.1" fill="none" stroke-linecap="round" stroke-linejoin="round"/>
<text x="305.2" y="166.2" font-size="14" font-weight="bold" fill="#000">c</text>
<text x="484.6" y="166.3" font-size="14" font-weight="bold" fill="#000">d</text>
<line x1="343.5" y1="189" x2="343.5" y2="304.3" stroke="#666" stroke-width="0.9"/>
<line x1="343.5" y1="304.3" x2="456.5" y2="304.3" stroke="#666" stroke-width="0.9"/>
<line x1="399.6" y1="189" x2="399.6" y2="304.3" stroke="#999" stroke-width="0.6" stroke-dasharray="1.6,1.4"/>
<line x1="343.5" y1="246.7" x2="456.5" y2="246.7" stroke="#999" stroke-width="0.6" stroke-dasharray="1.6,1.4"/>
<line x1="343.5" y1="304.3" x2="456.5" y2="189" stroke="#555" stroke-width="0.6" stroke-dasharray="1.4,0.9"/>
<line x1="341.1" y1="201.4" x2="343.5" y2="201.4" stroke="#666" stroke-width="0.8"/>
<line x1="341.1" y1="225.5" x2="343.5" y2="225.5" stroke="#666" stroke-width="0.8"/>
<line x1="341.1" y1="246.7" x2="343.5" y2="246.7" stroke="#666" stroke-width="0.8"/>
<line x1="341.1" y1="268.4" x2="343.5" y2="268.4" stroke="#666" stroke-width="0.8"/>
<line x1="341.1" y1="292.6" x2="343.5" y2="292.6" stroke="#666" stroke-width="0.8"/>
<line x1="341.1" y1="189.2" x2="343.5" y2="189.2" stroke="#666" stroke-width="0.8"/>
<line x1="341.9" y1="213.5" x2="343.5" y2="213.5" stroke="#666" stroke-width="0.7"/>
<line x1="341.9" y1="233" x2="343.5" y2="233" stroke="#666" stroke-width="0.7"/>
<line x1="341.9" y1="260.6" x2="343.5" y2="260.6" stroke="#666" stroke-width="0.7"/>
<line x1="341.9" y1="280.5" x2="343.5" y2="280.5" stroke="#666" stroke-width="0.7"/>
<rect x="341.5" y="233" width="1.9" height="26.5" fill="#8a8a8a"/>
<line x1="342.6" y1="304.3" x2="342.6" y2="306.7" stroke="#666" stroke-width="0.8"/>
<line x1="354.9" y1="304.3" x2="354.9" y2="306.7" stroke="#666" stroke-width="0.8"/>
<line x1="376.8" y1="304.3" x2="376.8" y2="306.7" stroke="#666" stroke-width="0.8"/>
<line x1="399.6" y1="304.3" x2="399.6" y2="306.7" stroke="#666" stroke-width="0.8"/>
<line x1="422.3" y1="304.3" x2="422.3" y2="306.7" stroke="#666" stroke-width="0.8"/>
<line x1="444.8" y1="304.3" x2="444.8" y2="306.7" stroke="#666" stroke-width="0.8"/>
<line x1="456.5" y1="304.3" x2="456.5" y2="306.7" stroke="#666" stroke-width="0.8"/>
<line x1="365.9" y1="304.3" x2="365.9" y2="305.90000000000003" stroke="#666" stroke-width="0.7"/>
<line x1="386.4" y1="304.3" x2="386.4" y2="305.90000000000003" stroke="#666" stroke-width="0.7"/>
<line x1="412.7" y1="304.3" x2="412.7" y2="305.90000000000003" stroke="#666" stroke-width="0.7"/>
<line x1="433.7" y1="304.3" x2="433.7" y2="305.90000000000003" stroke="#666" stroke-width="0.7"/>
<rect x="386.4" y="302.40000000000003" width="26.3" height="1.9" fill="#8a8a8a"/>
<text x="339.2" y="206.8" fill="#222" font-size="10.6" text-anchor="end">10<tspan font-size="6.6" dy="-7.1">4</tspan></text>
<text x="339.2" y="230.9" fill="#222" font-size="10.6" text-anchor="end">10<tspan font-size="6.6" dy="-7.1">2</tspan></text>
<text x="338.9" y="250.6" fill="#222" font-size="10.6" text-anchor="end">0</text>
<text x="339.2" y="273.9" fill="#222" font-size="10.6" text-anchor="end">−10<tspan font-size="6.6" dy="-7.1">2</tspan></text>
<text x="339.2" y="298.1" fill="#222" font-size="10.6" text-anchor="end">−10<tspan font-size="6.6" dy="-7.1">4</tspan></text>
<text x="354.6" y="321" fill="#222" font-size="10.6" text-anchor="middle">−10<tspan font-size="6.6" dy="-7.1">4</tspan></text>
<text x="378.2" y="321" fill="#222" font-size="10.6" text-anchor="middle">−10<tspan font-size="6.6" dy="-7.1">2</tspan></text>
<text x="421.6" y="321" fill="#222" font-size="10.6" text-anchor="middle">10<tspan font-size="6.6" dy="-7.1">2</tspan></text>
<text x="445.2" y="321" fill="#222" font-size="10.6" text-anchor="middle">10<tspan font-size="6.6" dy="-7.1">4</tspan></text>
<text x="399.6" y="317.6" fill="#222" font-size="10.6" text-anchor="middle">0</text>
<line x1="491.1" y1="189" x2="491.1" y2="304.3" stroke="#666" stroke-width="0.9"/>
<line x1="491.1" y1="304.3" x2="604.1" y2="304.3" stroke="#666" stroke-width="0.9"/>
<line x1="547.2" y1="189" x2="547.2" y2="304.3" stroke="#999" stroke-width="0.6" stroke-dasharray="1.6,1.4"/>
<line x1="491.1" y1="246.7" x2="604.1" y2="246.7" stroke="#999" stroke-width="0.6" stroke-dasharray="1.6,1.4"/>
<line x1="491.1" y1="304.3" x2="604.1" y2="189" stroke="#555" stroke-width="0.6" stroke-dasharray="1.4,0.9"/>
<line x1="488.70000000000005" y1="201.4" x2="491.1" y2="201.4" stroke="#666" stroke-width="0.8"/>
<line x1="488.70000000000005" y1="225.5" x2="491.1" y2="225.5" stroke="#666" stroke-width="0.8"/>
<line x1="488.70000000000005" y1="246.7" x2="491.1" y2="246.7" stroke="#666" stroke-width="0.8"/>
<line x1="488.70000000000005" y1="268.4" x2="491.1" y2="268.4" stroke="#666" stroke-width="0.8"/>
<line x1="488.70000000000005" y1="292.6" x2="491.1" y2="292.6" stroke="#666" stroke-width="0.8"/>
<line x1="488.70000000000005" y1="189.2" x2="491.1" y2="189.2" stroke="#666" stroke-width="0.8"/>
<line x1="489.5" y1="213.5" x2="491.1" y2="213.5" stroke="#666" stroke-width="0.7"/>
<line x1="489.5" y1="233" x2="491.1" y2="233" stroke="#666" stroke-width="0.7"/>
<line x1="489.5" y1="260.6" x2="491.1" y2="260.6" stroke="#666" stroke-width="0.7"/>
<line x1="489.5" y1="280.5" x2="491.1" y2="280.5" stroke="#666" stroke-width="0.7"/>
<rect x="489.1" y="233" width="1.9" height="26.5" fill="#8a8a8a"/>
<line x1="490.20000000000005" y1="304.3" x2="490.20000000000005" y2="306.7" stroke="#666" stroke-width="0.8"/>
<line x1="502.5" y1="304.3" x2="502.5" y2="306.7" stroke="#666" stroke-width="0.8"/>
<line x1="524.4" y1="304.3" x2="524.4" y2="306.7" stroke="#666" stroke-width="0.8"/>
<line x1="547.2" y1="304.3" x2="547.2" y2="306.7" stroke="#666" stroke-width="0.8"/>
<line x1="569.9" y1="304.3" x2="569.9" y2="306.7" stroke="#666" stroke-width="0.8"/>
<line x1="592.4" y1="304.3" x2="592.4" y2="306.7" stroke="#666" stroke-width="0.8"/>
<line x1="604.1" y1="304.3" x2="604.1" y2="306.7" stroke="#666" stroke-width="0.8"/>
<line x1="513.5" y1="304.3" x2="513.5" y2="305.90000000000003" stroke="#666" stroke-width="0.7"/>
<line x1="534.0" y1="304.3" x2="534.0" y2="305.90000000000003" stroke="#666" stroke-width="0.7"/>
<line x1="560.3" y1="304.3" x2="560.3" y2="305.90000000000003" stroke="#666" stroke-width="0.7"/>
<line x1="581.3" y1="304.3" x2="581.3" y2="305.90000000000003" stroke="#666" stroke-width="0.7"/>
<rect x="534.0" y="302.40000000000003" width="26.3" height="1.9" fill="#8a8a8a"/>
<text x="486.79999999999995" y="206.8" fill="#222" font-size="10.6" text-anchor="end">10<tspan font-size="6.6" dy="-7.1">4</tspan></text>
<text x="486.79999999999995" y="230.9" fill="#222" font-size="10.6" text-anchor="end">10<tspan font-size="6.6" dy="-7.1">2</tspan></text>
<text x="486.49999999999994" y="250.6" fill="#222" font-size="10.6" text-anchor="end">0</text>
<text x="486.79999999999995" y="273.9" fill="#222" font-size="10.6" text-anchor="end">−10<tspan font-size="6.6" dy="-7.1">2</tspan></text>
<text x="486.79999999999995" y="298.1" fill="#222" font-size="10.6" text-anchor="end">−10<tspan font-size="6.6" dy="-7.1">4</tspan></text>
<text x="502.20000000000005" y="321" fill="#222" font-size="10.6" text-anchor="middle">−10<tspan font-size="6.6" dy="-7.1">4</tspan></text>
<text x="525.8" y="321" fill="#222" font-size="10.6" text-anchor="middle">−10<tspan font-size="6.6" dy="-7.1">2</tspan></text>
<text x="569.2" y="321" fill="#222" font-size="10.6" text-anchor="middle">10<tspan font-size="6.6" dy="-7.1">2</tspan></text>
<text x="592.8" y="321" fill="#222" font-size="10.6" text-anchor="middle">10<tspan font-size="6.6" dy="-7.1">4</tspan></text>
<text x="547.2" y="317.6" fill="#222" font-size="10.6" text-anchor="middle">0</text>
<text x="313.2" y="246.3" font-size="10" text-anchor="middle" fill="#111" transform="rotate(-90 313.2 246.3)">Change in Terminally Exh. cells</text>
<text x="476" y="338.8" font-size="10" text-anchor="middle" fill="#111">Change in Precursor Exh. cells</text>
<circle cx="364.8" cy="223.3" r="1.4" fill="#4169e1"/><circle cx="370.6" cy="226.9" r="1.4" fill="#4169e1"/><circle cx="376.3" cy="226.4" r="1.4" fill="#4169e1"/><circle cx="384.0" cy="225.1" r="1.4" fill="#4169e1"/><circle cx="362.2" cy="237.9" r="1.4" fill="#4169e1"/><circle cx="367.3" cy="237.9" r="1.4" fill="#4169e1"/><circle cx="377.6" cy="241.8" r="1.4" fill="#4169e1"/><circle cx="385.2" cy="239.2" r="1.4" fill="#4169e1"/><circle cx="386.5" cy="240.5" r="1.4" fill="#4169e1"/><circle cx="391.6" cy="243.0" r="1.4" fill="#4169e1"/><circle cx="394.2" cy="244.3" r="1.4" fill="#4169e1"/><circle cx="392.9" cy="229.0" r="1.4" fill="#4169e1"/><circle cx="403.2" cy="229.0" r="1.4" fill="#4169e1"/><circle cx="404.4" cy="232.8" r="1.4" fill="#4169e1"/><circle cx="403.9" cy="243.0" r="1.4" fill="#4169e1"/><circle cx="416.0" cy="232.0" r="1.4" fill="#4169e1"/><circle cx="416.0" cy="239.2" r="1.4" fill="#4169e1"/><circle cx="376.3" cy="246.9" r="1.4" fill="#4169e1"/><circle cx="375.0" cy="250.7" r="1.4" fill="#4169e1"/><circle cx="404.5" cy="263.4" r="1.4" fill="#4169e1"/><circle cx="408.5" cy="260.8" r="1.4" fill="#4169e1"/><circle cx="411.7" cy="265.4" r="1.4" fill="#4169e1"/><circle cx="415.0" cy="267.3" r="1.4" fill="#4169e1"/><circle cx="418.3" cy="268.6" r="1.4" fill="#4169e1"/><circle cx="419.0" cy="270.0" r="1.4" fill="#4169e1"/><circle cx="417.0" cy="271.9" r="1.4" fill="#4169e1"/><circle cx="414.4" cy="273.2" r="1.4" fill="#4169e1"/><circle cx="411.7" cy="270.6" r="1.4" fill="#4169e1"/><circle cx="409.1" cy="269.3" r="1.4" fill="#4169e1"/><circle cx="406.5" cy="268.0" r="1.4" fill="#4169e1"/><circle cx="403.2" cy="268.6" r="1.4" fill="#4169e1"/><circle cx="402.5" cy="271.3" r="1.4" fill="#4169e1"/><circle cx="405.2" cy="272.6" r="1.4" fill="#4169e1"/><circle cx="407.8" cy="274.6" r="1.4" fill="#4169e1"/><circle cx="410.4" cy="276.5" r="1.4" fill="#4169e1"/><circle cx="413.1" cy="278.5" r="1.4" fill="#4169e1"/><circle cx="415.7" cy="279.2" r="1.4" fill="#4169e1"/><circle cx="418.3" cy="279.8" r="1.4" fill="#4169e1"/><circle cx="420.3" cy="283.1" r="1.4" fill="#4169e1"/><circle cx="416.3" cy="282.4" r="1.4" fill="#4169e1"/><circle cx="415.0" cy="285.7" r="1.4" fill="#4169e1"/><circle cx="417.0" cy="289.7" r="1.4" fill="#4169e1"/><circle cx="417.7" cy="292.3" r="1.4" fill="#4169e1"/><circle cx="422.9" cy="291.6" r="1.4" fill="#4169e1"/><circle cx="424.2" cy="290.3" r="1.4" fill="#4169e1"/><circle cx="428.8" cy="271.3" r="1.4" fill="#4169e1"/><circle cx="407.1" cy="280.5" r="1.4" fill="#4169e1"/><circle cx="405.2" cy="284.4" r="1.4" fill="#4169e1"/><circle cx="405.8" cy="287.0" r="1.4" fill="#4169e1"/><circle cx="405.2" cy="290.3" r="1.4" fill="#4169e1"/><circle cx="403.2" cy="277.8" r="1.4" fill="#4169e1"/><circle cx="401.2" cy="275.2" r="1.4" fill="#4169e1"/><circle cx="374.3" cy="247.6" r="1.4" fill="#4169e1"/><circle cx="376.3" cy="251.6" r="1.4" fill="#4169e1"/><circle cx="378.2" cy="254.2" r="1.4" fill="#4169e1"/><circle cx="381.5" cy="254.9" r="1.4" fill="#4169e1"/><circle cx="384.8" cy="255.5" r="1.4" fill="#4169e1"/><circle cx="375.6" cy="247.0" r="1.4" fill="#4169e1"/><circle cx="381.5" cy="247.0" r="1.4" fill="#4169e1"/><circle cx="377.6" cy="245.7" r="1.4" fill="#4169e1"/><circle cx="390.7" cy="251.6" r="1.4" fill="#4169e1"/><circle cx="396.0" cy="256.8" r="1.4" fill="#4169e1"/><circle cx="390.1" cy="260.8" r="1.4" fill="#4169e1"/><circle cx="384.2" cy="260.1" r="1.4" fill="#4169e1"/><circle cx="375.6" cy="260.8" r="1.4" fill="#4169e1"/><circle cx="365.8" cy="261.8" r="1.4" fill="#4169e1"/><circle cx="365.1" cy="295.6" r="1.4" fill="#4169e1"/><circle cx="366.4" cy="298.2" r="1.4" fill="#4169e1"/><circle cx="373.0" cy="295.6" r="1.4" fill="#4169e1"/><circle cx="373.0" cy="299.5" r="1.4" fill="#4169e1"/><circle cx="380.2" cy="294.3" r="1.4" fill="#4169e1"/><circle cx="387.4" cy="295.6" r="1.4" fill="#4169e1"/><circle cx="365.8" cy="291.6" r="1.4" fill="#4169e1"/><circle cx="368.4" cy="291.6" r="1.4" fill="#4169e1"/><circle cx="385.5" cy="290.3" r="1.4" fill="#4169e1"/><circle cx="397.3" cy="284.4" r="1.4" fill="#4169e1"/><circle cx="393.3" cy="288.3" r="1.4" fill="#4169e1"/><circle cx="389.4" cy="284.4" r="1.4" fill="#4169e1"/><circle cx="371.2" cy="226.4" r="1.4" fill="#4169e1"/><circle cx="371.7" cy="230.7" r="1.4" fill="#4169e1"/><circle cx="377.2" cy="223.0" r="1.4" fill="#4169e1"/><circle cx="378.0" cy="227.3" r="1.4" fill="#4169e1"/><circle cx="381.9" cy="232.7" r="1.4" fill="#4169e1"/><circle cx="383.1" cy="242.3" r="1.4" fill="#4169e1"/><circle cx="385.7" cy="239.2" r="1.4" fill="#4169e1"/><circle cx="376.3" cy="242.7" r="1.4" fill="#4169e1"/><circle cx="377.2" cy="245.2" r="1.4" fill="#4169e1"/><circle cx="392.5" cy="243.0" r="1.4" fill="#4169e1"/><circle cx="392.9" cy="277.7" r="1.4" fill="#4169e1"/><circle cx="374.6" cy="276.2" r="1.4" fill="#4169e1"/><circle cx="390.9" cy="281.6" r="1.4" fill="#4169e1"/><circle cx="383.2" cy="268.9" r="1.4" fill="#4169e1"/><circle cx="377.1" cy="279.7" r="1.4" fill="#4169e1"/><circle cx="390.7" cy="271.1" r="1.4" fill="#4169e1"/><circle cx="379.9" cy="276.8" r="1.4" fill="#4169e1"/><circle cx="382.6" cy="271.9" r="1.4" fill="#4169e1"/><circle cx="384.1" cy="277.1" r="1.4" fill="#4169e1"/><circle cx="396.0" cy="267.4" r="1.4" fill="#4169e1"/><circle cx="388.0" cy="266.7" r="1.4" fill="#4169e1"/><circle cx="390.5" cy="272.3" r="1.4" fill="#4169e1"/><circle cx="379.1" cy="278.6" r="1.4" fill="#4169e1"/><circle cx="389.5" cy="270.0" r="1.4" fill="#4169e1"/><circle cx="395.6" cy="277.3" r="1.4" fill="#4169e1"/><circle cx="400.5" cy="274.7" r="1.4" fill="#4169e1"/><circle cx="374.4" cy="283.9" r="1.4" fill="#4169e1"/><circle cx="380.7" cy="283.5" r="1.4" fill="#4169e1"/><circle cx="384.6" cy="276.6" r="1.4" fill="#4169e1"/><circle cx="385.3" cy="271.1" r="1.4" fill="#4169e1"/><circle cx="382.1" cy="272.4" r="1.4" fill="#4169e1"/><circle cx="398.4" cy="263.4" r="1.4" fill="#4169e1"/><circle cx="378.6" cy="268.3" r="1.4" fill="#4169e1"/><circle cx="369.5" cy="279.9" r="1.4" fill="#4169e1"/><circle cx="391.8" cy="275.2" r="1.4" fill="#4169e1"/><circle cx="383.8" cy="271.8" r="1.4" fill="#4169e1"/><circle cx="395.0" cy="262.2" r="1.4" fill="#4169e1"/><circle cx="378.0" cy="282.4" r="1.4" fill="#4169e1"/><circle cx="376.3" cy="282.2" r="1.4" fill="#4169e1"/><circle cx="390.8" cy="270.7" r="1.4" fill="#4169e1"/><circle cx="386.7" cy="274.1" r="1.4" fill="#4169e1"/><circle cx="369.3" cy="265.8" r="1.4" fill="#4169e1"/><circle cx="373.8" cy="282.1" r="1.4" fill="#4169e1"/><circle cx="369.0" cy="281.9" r="1.4" fill="#4169e1"/><circle cx="388.7" cy="280.6" r="1.4" fill="#4169e1"/><circle cx="371.2" cy="280.7" r="1.4" fill="#4169e1"/><circle cx="386.6" cy="277.1" r="1.4" fill="#4169e1"/><circle cx="377.7" cy="291.0" r="1.4" fill="#4169e1"/><circle cx="380.0" cy="284.8" r="1.4" fill="#4169e1"/><circle cx="382.9" cy="278.8" r="1.4" fill="#4169e1"/><circle cx="398.5" cy="270.5" r="1.4" fill="#4169e1"/><circle cx="381.6" cy="271.0" r="1.4" fill="#4169e1"/><circle cx="374.3" cy="273.2" r="1.4" fill="#4169e1"/><circle cx="394.9" cy="259.0" r="1.4" fill="#4169e1"/><circle cx="367.7" cy="296.2" r="1.4" fill="#4169e1"/><circle cx="392.4" cy="267.9" r="1.4" fill="#4169e1"/><circle cx="387.7" cy="268.1" r="1.4" fill="#4169e1"/><circle cx="380.2" cy="281.1" r="1.4" fill="#4169e1"/><circle cx="385.2" cy="272.0" r="1.4" fill="#4169e1"/><circle cx="398.2" cy="270.8" r="1.4" fill="#4169e1"/><circle cx="381.2" cy="270.2" r="1.4" fill="#4169e1"/><circle cx="383.6" cy="273.9" r="1.4" fill="#4169e1"/><circle cx="385.0" cy="279.8" r="1.4" fill="#4169e1"/><circle cx="379.6" cy="280.1" r="1.4" fill="#4169e1"/><circle cx="390.6" cy="273.4" r="1.4" fill="#4169e1"/><circle cx="379.5" cy="271.2" r="1.4" fill="#4169e1"/><circle cx="389.9" cy="287.2" r="1.4" fill="#4169e1"/><circle cx="369.6" cy="283.1" r="1.4" fill="#4169e1"/><circle cx="388.8" cy="273.0" r="1.4" fill="#4169e1"/><circle cx="386.2" cy="264.5" r="1.4" fill="#4169e1"/><circle cx="388.3" cy="266.8" r="1.4" fill="#4169e1"/><circle cx="375.3" cy="284.7" r="1.4" fill="#4169e1"/><circle cx="385.0" cy="270.4" r="1.4" fill="#4169e1"/><circle cx="376.3" cy="279.3" r="1.4" fill="#4169e1"/><circle cx="382.7" cy="275.3" r="1.4" fill="#4169e1"/><circle cx="368.7" cy="271.1" r="1.4" fill="#4169e1"/><circle cx="394.1" cy="270.0" r="1.4" fill="#4169e1"/><circle cx="369.0" cy="275.6" r="1.4" fill="#4169e1"/><circle cx="376.6" cy="277.7" r="1.4" fill="#4169e1"/><circle cx="370.3" cy="293.0" r="1.4" fill="#4169e1"/><circle cx="385.7" cy="272.4" r="1.4" fill="#4169e1"/><circle cx="386.6" cy="275.2" r="1.4" fill="#4169e1"/><circle cx="392.0" cy="271.2" r="1.4" fill="#4169e1"/><circle cx="397.5" cy="276.2" r="1.4" fill="#4169e1"/><circle cx="379.5" cy="275.6" r="1.4" fill="#4169e1"/><circle cx="375.5" cy="279.5" r="1.4" fill="#4169e1"/><circle cx="377.5" cy="279.8" r="1.4" fill="#4169e1"/><circle cx="387.1" cy="276.7" r="1.4" fill="#4169e1"/><circle cx="377.1" cy="286.6" r="1.4" fill="#4169e1"/><circle cx="380.4" cy="277.1" r="1.4" fill="#4169e1"/><circle cx="373.5" cy="270.0" r="1.4" fill="#4169e1"/><circle cx="380.2" cy="267.0" r="1.4" fill="#4169e1"/><circle cx="392.0" cy="270.5" r="1.4" fill="#4169e1"/><circle cx="397.3" cy="270.8" r="1.4" fill="#4169e1"/><circle cx="392.7" cy="278.4" r="1.4" fill="#4169e1"/><circle cx="387.1" cy="282.9" r="1.4" fill="#4169e1"/><circle cx="382.9" cy="277.8" r="1.4" fill="#4169e1"/><circle cx="379.3" cy="281.8" r="1.4" fill="#4169e1"/><circle cx="387.0" cy="270.4" r="1.4" fill="#4169e1"/><circle cx="372.9" cy="282.4" r="1.4" fill="#4169e1"/><circle cx="386.0" cy="273.1" r="1.4" fill="#4169e1"/><circle cx="373.4" cy="277.9" r="1.4" fill="#4169e1"/><circle cx="373.6" cy="266.0" r="1.4" fill="#4169e1"/><circle cx="382.5" cy="285.2" r="1.4" fill="#4169e1"/><circle cx="372.3" cy="281.6" r="1.4" fill="#4169e1"/><circle cx="398.5" cy="270.4" r="1.4" fill="#4169e1"/><circle cx="390.0" cy="270.6" r="1.4" fill="#4169e1"/><circle cx="380.7" cy="295.3" r="1.4" fill="#4169e1"/><circle cx="386.2" cy="275.5" r="1.4" fill="#4169e1"/><circle cx="398.4" cy="271.1" r="1.4" fill="#4169e1"/><circle cx="380.5" cy="270.9" r="1.4" fill="#4169e1"/><circle cx="381.5" cy="276.1" r="1.4" fill="#4169e1"/><circle cx="375.3" cy="275.7" r="1.4" fill="#4169e1"/><circle cx="374.8" cy="280.6" r="1.4" fill="#4169e1"/><circle cx="379.5" cy="280.8" r="1.4" fill="#4169e1"/><circle cx="392.0" cy="272.1" r="1.4" fill="#4169e1"/><circle cx="387.6" cy="282.7" r="1.4" fill="#4169e1"/><circle cx="384.1" cy="266.2" r="1.4" fill="#4169e1"/><circle cx="377.9" cy="280.5" r="1.4" fill="#4169e1"/><circle cx="378.2" cy="283.8" r="1.4" fill="#4169e1"/><circle cx="363.8" cy="276.7" r="1.4" fill="#4169e1"/><circle cx="392.5" cy="273.5" r="1.4" fill="#4169e1"/><circle cx="370.6" cy="284.6" r="1.4" fill="#4169e1"/><circle cx="390.6" cy="264.2" r="1.4" fill="#4169e1"/><circle cx="370.2" cy="276.8" r="1.4" fill="#4169e1"/><circle cx="370.4" cy="273.5" r="1.4" fill="#4169e1"/><circle cx="375.1" cy="272.2" r="1.4" fill="#4169e1"/><circle cx="389.8" cy="285.4" r="1.4" fill="#4169e1"/><circle cx="377.3" cy="285.3" r="1.4" fill="#4169e1"/><circle cx="385.8" cy="260.0" r="1.4" fill="#4169e1"/><circle cx="383.9" cy="275.4" r="1.4" fill="#4169e1"/><circle cx="382.6" cy="281.2" r="1.4" fill="#4169e1"/><circle cx="380.5" cy="279.8" r="1.4" fill="#4169e1"/><circle cx="379.6" cy="277.4" r="1.4" fill="#4169e1"/><circle cx="383.2" cy="289.9" r="1.4" fill="#4169e1"/><circle cx="379.4" cy="271.4" r="1.4" fill="#4169e1"/><circle cx="402.9" cy="272.8" r="1.4" fill="#4169e1"/><circle cx="379.6" cy="274.2" r="1.4" fill="#4169e1"/><circle cx="380.7" cy="285.2" r="1.4" fill="#4169e1"/><circle cx="378.4" cy="274.6" r="1.4" fill="#4169e1"/><circle cx="388.9" cy="270.5" r="1.4" fill="#4169e1"/><circle cx="388.1" cy="284.7" r="1.4" fill="#4169e1"/><circle cx="393.4" cy="277.0" r="1.4" fill="#4169e1"/><circle cx="390.0" cy="279.4" r="1.4" fill="#4169e1"/><circle cx="384.4" cy="281.1" r="1.4" fill="#4169e1"/><circle cx="390.2" cy="268.8" r="1.4" fill="#4169e1"/><circle cx="374.3" cy="284.9" r="1.4" fill="#4169e1"/><circle cx="383.8" cy="279.3" r="1.4" fill="#4169e1"/><circle cx="379.7" cy="281.4" r="1.4" fill="#4169e1"/><circle cx="397.3" cy="281.3" r="1.4" fill="#4169e1"/><circle cx="398.3" cy="268.5" r="1.4" fill="#4169e1"/><circle cx="392.6" cy="265.9" r="1.4" fill="#4169e1"/><circle cx="392.7" cy="270.6" r="1.4" fill="#4169e1"/><circle cx="394.5" cy="270.6" r="1.4" fill="#4169e1"/><circle cx="379.2" cy="274.1" r="1.4" fill="#4169e1"/><circle cx="393.1" cy="269.8" r="1.4" fill="#4169e1"/><circle cx="390.0" cy="274.4" r="1.4" fill="#4169e1"/><circle cx="368.5" cy="289.1" r="1.4" fill="#4169e1"/><circle cx="381.2" cy="279.6" r="1.4" fill="#4169e1"/><circle cx="381.8" cy="265.7" r="1.4" fill="#4169e1"/><circle cx="380.3" cy="277.4" r="1.4" fill="#4169e1"/><circle cx="388.8" cy="278.1" r="1.4" fill="#4169e1"/><circle cx="377.0" cy="278.5" r="1.4" fill="#4169e1"/><circle cx="382.8" cy="264.8" r="1.4" fill="#4169e1"/><circle cx="395.1" cy="262.3" r="1.4" fill="#4169e1"/><circle cx="393.9" cy="269.8" r="1.4" fill="#4169e1"/><circle cx="400.9" cy="270.8" r="1.4" fill="#4169e1"/><circle cx="378.0" cy="268.8" r="1.4" fill="#4169e1"/><circle cx="385.0" cy="276.7" r="1.4" fill="#4169e1"/><circle cx="383.8" cy="267.7" r="1.4" fill="#4169e1"/><circle cx="374.3" cy="276.9" r="1.4" fill="#4169e1"/><circle cx="382.8" cy="270.8" r="1.4" fill="#4169e1"/><circle cx="384.7" cy="280.6" r="1.4" fill="#4169e1"/><circle cx="383.5" cy="284.0" r="1.4" fill="#4169e1"/><circle cx="384.7" cy="273.4" r="1.4" fill="#4169e1"/><circle cx="393.1" cy="272.5" r="1.4" fill="#4169e1"/><circle cx="379.1" cy="274.9" r="1.4" fill="#4169e1"/><circle cx="383.6" cy="277.7" r="1.4" fill="#4169e1"/><circle cx="392.8" cy="271.3" r="1.4" fill="#4169e1"/><circle cx="374.4" cy="273.4" r="1.4" fill="#4169e1"/><circle cx="386.2" cy="276.4" r="1.4" fill="#4169e1"/><circle cx="390.5" cy="267.9" r="1.4" fill="#4169e1"/><circle cx="375.1" cy="286.3" r="1.4" fill="#4169e1"/><circle cx="378.2" cy="271.6" r="1.4" fill="#4169e1"/><circle cx="398.7" cy="271.3" r="1.4" fill="#4169e1"/><circle cx="384.3" cy="276.9" r="1.4" fill="#4169e1"/><circle cx="379.9" cy="284.1" r="1.4" fill="#4169e1"/><circle cx="378.3" cy="276.3" r="1.4" fill="#4169e1"/><circle cx="377.5" cy="272.6" r="1.4" fill="#4169e1"/><circle cx="395.9" cy="277.9" r="1.4" fill="#4169e1"/><circle cx="383.3" cy="263.2" r="1.4" fill="#4169e1"/><circle cx="378.8" cy="274.8" r="1.4" fill="#4169e1"/><circle cx="380.0" cy="264.8" r="1.4" fill="#4169e1"/><circle cx="364.7" cy="285.1" r="1.4" fill="#4169e1"/><circle cx="390.3" cy="270.1" r="1.4" fill="#4169e1"/><circle cx="398.1" cy="261.0" r="1.4" fill="#4169e1"/><circle cx="382.9" cy="275.2" r="1.4" fill="#4169e1"/><circle cx="379.6" cy="285.1" r="1.4" fill="#4169e1"/><circle cx="369.6" cy="278.2" r="1.4" fill="#4169e1"/><circle cx="378.8" cy="275.8" r="1.4" fill="#4169e1"/><circle cx="390.5" cy="267.9" r="1.4" fill="#4169e1"/><circle cx="385.7" cy="271.4" r="1.4" fill="#4169e1"/><circle cx="393.1" cy="269.3" r="1.4" fill="#4169e1"/><circle cx="380.5" cy="267.6" r="1.4" fill="#4169e1"/><circle cx="386.8" cy="269.6" r="1.4" fill="#4169e1"/><circle cx="391.5" cy="273.6" r="1.4" fill="#4169e1"/><circle cx="390.5" cy="278.1" r="1.4" fill="#4169e1"/><circle cx="383.5" cy="270.3" r="1.4" fill="#4169e1"/><circle cx="384.8" cy="275.9" r="1.4" fill="#4169e1"/><circle cx="375.4" cy="284.7" r="1.4" fill="#4169e1"/><circle cx="419.5" cy="274.7" r="1.4" fill="#4169e1"/><circle cx="410.8" cy="276.2" r="1.4" fill="#4169e1"/><circle cx="417.1" cy="269.3" r="1.4" fill="#4169e1"/><circle cx="416.2" cy="267.8" r="1.4" fill="#4169e1"/><circle cx="413.5" cy="276.6" r="1.4" fill="#4169e1"/><circle cx="401.7" cy="277.6" r="1.4" fill="#4169e1"/><circle cx="411.4" cy="261.4" r="1.4" fill="#4169e1"/><circle cx="407.1" cy="268.7" r="1.4" fill="#4169e1"/><circle cx="404.3" cy="275.9" r="1.4" fill="#4169e1"/><circle cx="404.9" cy="273.4" r="1.4" fill="#4169e1"/><circle cx="403.0" cy="271.2" r="1.4" fill="#4169e1"/><circle cx="421.8" cy="275.9" r="1.4" fill="#4169e1"/><circle cx="400.0" cy="266.5" r="1.4" fill="#4169e1"/><circle cx="409.1" cy="261.7" r="1.4" fill="#4169e1"/><circle cx="416.3" cy="272.7" r="1.4" fill="#4169e1"/><circle cx="409.6" cy="273.4" r="1.4" fill="#4169e1"/><circle cx="405.6" cy="265.1" r="1.4" fill="#4169e1"/><circle cx="411.5" cy="277.7" r="1.4" fill="#4169e1"/><circle cx="408.8" cy="260.3" r="1.4" fill="#4169e1"/><circle cx="407.8" cy="273.3" r="1.4" fill="#4169e1"/><circle cx="401.7" cy="282.5" r="1.4" fill="#4169e1"/><circle cx="402.8" cy="273.0" r="1.4" fill="#4169e1"/><circle cx="403.0" cy="279.3" r="1.4" fill="#4169e1"/><circle cx="401.9" cy="266.8" r="1.4" fill="#4169e1"/><circle cx="417.2" cy="264.3" r="1.4" fill="#4169e1"/><circle cx="406.5" cy="276.8" r="1.4" fill="#4169e1"/><circle cx="412.3" cy="260.8" r="1.4" fill="#4169e1"/><circle cx="413.9" cy="271.0" r="1.4" fill="#4169e1"/><circle cx="417.9" cy="261.0" r="1.4" fill="#4169e1"/><circle cx="414.9" cy="275.8" r="1.4" fill="#4169e1"/><circle cx="407.6" cy="270.1" r="1.4" fill="#4169e1"/><circle cx="412.5" cy="268.2" r="1.4" fill="#4169e1"/><circle cx="407.8" cy="267.7" r="1.4" fill="#4169e1"/><circle cx="410.9" cy="277.7" r="1.4" fill="#4169e1"/><circle cx="399.7" cy="273.2" r="1.4" fill="#4169e1"/><circle cx="412.0" cy="283.4" r="1.4" fill="#4169e1"/><circle cx="405.2" cy="281.7" r="1.4" fill="#4169e1"/><circle cx="407.1" cy="276.4" r="1.4" fill="#4169e1"/><circle cx="356.3" cy="200.8" r="1.4" fill="#ff8c00"/><circle cx="374.2" cy="218.7" r="1.4" fill="#ff8c00"/><circle cx="375.5" cy="220.0" r="1.4" fill="#ff8c00"/><circle cx="384.0" cy="218.2" r="1.4" fill="#ff8c00"/><circle cx="388.6" cy="214.1" r="1.4" fill="#ff8c00"/><circle cx="391.6" cy="220.8" r="1.4" fill="#ff8c00"/><circle cx="378.8" cy="225.1" r="1.4" fill="#ff8c00"/><circle cx="376.3" cy="226.9" r="1.4" fill="#ff8c00"/><circle cx="380.9" cy="230.2" r="1.4" fill="#ff8c00"/><circle cx="385.2" cy="226.9" r="1.4" fill="#ff8c00"/><circle cx="387.8" cy="227.7" r="1.4" fill="#ff8c00"/><circle cx="395.5" cy="227.7" r="1.4" fill="#ff8c00"/><circle cx="396.8" cy="227.2" r="1.4" fill="#ff8c00"/><circle cx="399.3" cy="226.4" r="1.4" fill="#ff8c00"/><circle cx="401.4" cy="223.8" r="1.4" fill="#ff8c00"/><circle cx="405.7" cy="221.8" r="1.4" fill="#ff8c00"/><circle cx="402.7" cy="231.5" r="1.4" fill="#ff8c00"/><circle cx="404.4" cy="230.2" r="1.4" fill="#ff8c00"/><circle cx="403.2" cy="234.6" r="1.4" fill="#ff8c00"/><circle cx="407.0" cy="229.0" r="1.4" fill="#ff8c00"/><circle cx="412.1" cy="228.5" r="1.4" fill="#ff8c00"/><circle cx="413.4" cy="221.3" r="1.4" fill="#ff8c00"/><circle cx="417.2" cy="216.2" r="1.4" fill="#ff8c00"/><circle cx="418.5" cy="220.0" r="1.4" fill="#ff8c00"/><circle cx="419.8" cy="222.6" r="1.4" fill="#ff8c00"/><circle cx="416.0" cy="225.1" r="1.4" fill="#ff8c00"/><circle cx="416.7" cy="226.9" r="1.4" fill="#ff8c00"/><circle cx="418.5" cy="228.5" r="1.4" fill="#ff8c00"/><circle cx="421.1" cy="226.4" r="1.4" fill="#ff8c00"/><circle cx="422.9" cy="219.2" r="1.4" fill="#ff8c00"/><circle cx="424.4" cy="214.9" r="1.4" fill="#ff8c00"/><circle cx="425.7" cy="217.4" r="1.4" fill="#ff8c00"/><circle cx="427.5" cy="208.5" r="1.4" fill="#ff8c00"/><circle cx="428.8" cy="207.2" r="1.4" fill="#ff8c00"/><circle cx="430.0" cy="211.0" r="1.4" fill="#ff8c00"/><circle cx="432.1" cy="210.5" r="1.4" fill="#ff8c00"/><circle cx="433.1" cy="209.8" r="1.4" fill="#ff8c00"/><circle cx="427.5" cy="221.3" r="1.4" fill="#ff8c00"/><circle cx="428.8" cy="226.4" r="1.4" fill="#ff8c00"/><circle cx="424.9" cy="225.9" r="1.4" fill="#ff8c00"/><circle cx="426.2" cy="234.1" r="1.4" fill="#ff8c00"/><circle cx="433.9" cy="225.9" r="1.4" fill="#ff8c00"/><circle cx="437.0" cy="228.5" r="1.4" fill="#ff8c00"/><circle cx="407.0" cy="243.0" r="1.4" fill="#ff8c00"/><circle cx="416.7" cy="237.9" r="1.4" fill="#ff8c00"/><circle cx="417.8" cy="241.8" r="1.4" fill="#ff8c00"/><circle cx="419.8" cy="243.8" r="1.4" fill="#ff8c00"/><circle cx="416.0" cy="243.0" r="1.4" fill="#ff8c00"/><circle cx="424.9" cy="241.8" r="1.4" fill="#ff8c00"/><circle cx="426.2" cy="243.8" r="1.4" fill="#ff8c00"/><circle cx="382.7" cy="237.9" r="1.4" fill="#ff8c00"/><circle cx="378.8" cy="239.2" r="1.4" fill="#ff8c00"/><circle cx="384.0" cy="232.0" r="1.4" fill="#ff8c00"/><circle cx="381.9" cy="232.8" r="1.4" fill="#ff8c00"/><circle cx="412.1" cy="241.8" r="1.4" fill="#ff8c00"/><circle cx="421.9" cy="221.3" r="1.4" fill="#ff8c00"/><circle cx="423.6" cy="223.8" r="1.4" fill="#ff8c00"/><circle cx="414.2" cy="226.4" r="1.4" fill="#ff8c00"/><circle cx="415.5" cy="230.2" r="1.4" fill="#ff8c00"/><circle cx="421.1" cy="230.2" r="1.4" fill="#ff8c00"/><circle cx="419.3" cy="236.6" r="1.4" fill="#ff8c00"/><circle cx="426.5" cy="221.3" r="1.4" fill="#ff8c00"/><circle cx="422.4" cy="213.6" r="1.4" fill="#ff8c00"/><circle cx="416.0" cy="239.2" r="1.4" fill="#ff8c00"/><circle cx="382.8" cy="258.8" r="1.4" fill="#ff8c00"/><circle cx="416.4" cy="239.2" r="1.4" fill="#ff8c00"/><circle cx="418.1" cy="242.7" r="1.4" fill="#ff8c00"/><circle cx="419.0" cy="244.4" r="1.4" fill="#ff8c00"/><circle cx="423.3" cy="244.4" r="1.4" fill="#ff8c00"/><circle cx="425.0" cy="241.8" r="1.4" fill="#ff8c00"/><circle cx="415.6" cy="224.7" r="1.4" fill="#ff8c00"/><circle cx="418.1" cy="228.1" r="1.4" fill="#ff8c00"/>
<circle cx="561.0" cy="221.3" r="1.4" fill="#000004"/><circle cx="535.6" cy="266.7" r="1.4" fill="#7f2481"/><circle cx="531.6" cy="218.2" r="1.4" fill="#000004"/><circle cx="573.8" cy="243.8" r="1.4" fill="#000004"/><circle cx="563.9" cy="272.7" r="1.4" fill="#fc9168"/><circle cx="539.2" cy="220.8" r="1.4" fill="#000004"/><circle cx="531.4" cy="267.7" r="1.4" fill="#6a1c80"/><circle cx="572.5" cy="225.9" r="1.4" fill="#000004"/><circle cx="552.8" cy="281.7" r="1.4" fill="#fdefb1"/><circle cx="563.8" cy="267.8" r="1.4" fill="#feb57e"/><circle cx="532.0" cy="281.1" r="1.4" fill="#f8785f"/><circle cx="552.8" cy="272.6" r="1.4" fill="#982d7f"/><circle cx="532.2" cy="276.6" r="1.4" fill="#f97a60"/><circle cx="546.1" cy="270.4" r="1.4" fill="#feaa76"/><circle cx="563.6" cy="239.2" r="1.4" fill="#000004"/><circle cx="551.5" cy="243.0" r="1.4" fill="#340f66"/><circle cx="520.6" cy="299.5" r="1.4" fill="#bf3b76"/><circle cx="540.7" cy="269.3" r="1.4" fill="#832681"/><circle cx="530.1" cy="285.2" r="1.4" fill="#e35066"/><circle cx="545.7" cy="261.0" r="1.4" fill="#8d2981"/><circle cx="518.8" cy="280.7" r="1.4" fill="#932b80"/><circle cx="517.2" cy="283.1" r="1.4" fill="#f8755e"/><circle cx="553.2" cy="265.1" r="1.4" fill="#d6456c"/><circle cx="550.4" cy="273.0" r="1.4" fill="#bb3977"/><circle cx="541.7" cy="270.0" r="1.4" fill="#fea874"/><circle cx="531.1" cy="284.0" r="1.4" fill="#fc9068"/><circle cx="555.4" cy="274.6" r="1.4" fill="#fde7aa"/><circle cx="520.5" cy="282.4" r="1.4" fill="#e45265"/><circle cx="533.6" cy="273.1" r="1.4" fill="#c53d73"/><circle cx="555.4" cy="267.7" r="1.4" fill="#feb77f"/><circle cx="575.1" cy="208.5" r="1.4" fill="#000004"/><circle cx="527.2" cy="280.1" r="1.4" fill="#932b80"/><circle cx="527.0" cy="271.4" r="1.4" fill="#9a2e7e"/><circle cx="570.0" cy="213.6" r="1.4" fill="#8c2981"/><circle cx="530.4" cy="264.8" r="1.4" fill="#f7715c"/><circle cx="553.4" cy="287.0" r="1.4" fill="#fdefb1"/><circle cx="572.6" cy="241.8" r="1.4" fill="#000004"/><circle cx="533.3" cy="271.4" r="1.4" fill="#f7705c"/><circle cx="541.0" cy="277.0" r="1.4" fill="#d4446c"/><circle cx="516.9" cy="265.8" r="1.4" fill="#6c1d80"/><circle cx="559.9" cy="260.8" r="1.4" fill="#fa8463"/><circle cx="519.9" cy="281.6" r="1.4" fill="#fb8965"/><circle cx="532.3" cy="280.6" r="1.4" fill="#f8745e"/><circle cx="559.7" cy="241.8" r="1.4" fill="#000004"/><circle cx="554.6" cy="229.0" r="1.4" fill="#431173"/><circle cx="526.4" cy="274.8" r="1.4" fill="#b0357a"/><circle cx="564.8" cy="264.3" r="1.4" fill="#ec5e61"/><circle cx="539.6" cy="270.5" r="1.4" fill="#d5456c"/><circle cx="516.1" cy="289.1" r="1.4" fill="#c83f72"/><circle cx="533.1" cy="290.3" r="1.4" fill="#732080"/><circle cx="563.1" cy="230.2" r="1.4" fill="#de4968"/><circle cx="526.2" cy="268.3" r="1.4" fill="#972d7f"/><circle cx="531.1" cy="270.3" r="1.4" fill="#aa337b"/><circle cx="548.1" cy="274.7" r="1.4" fill="#fea773"/><circle cx="573.3" cy="217.4" r="1.4" fill="#491376"/><circle cx="565.9" cy="279.8" r="1.4" fill="#fea572"/><circle cx="542.1" cy="270.6" r="1.4" fill="#e14e66"/><circle cx="534.7" cy="282.9" r="1.4" fill="#ed6161"/><circle cx="525.3" cy="291.0" r="1.4" fill="#df4a68"/><circle cx="566.6" cy="244.4" r="1.4" fill="#000004"/><circle cx="531.4" cy="279.3" r="1.4" fill="#fdefb1"/><circle cx="531.9" cy="276.9" r="1.4" fill="#b73779"/><circle cx="549.3" cy="282.5" r="1.4" fill="#fc9569"/><circle cx="571.8" cy="290.3" r="1.4" fill="#fdefb1"/><circle cx="522.4" cy="280.6" r="1.4" fill="#fc9469"/><circle cx="525.8" cy="283.8" r="1.4" fill="#fa8463"/><circle cx="523.2" cy="260.8" r="1.4" fill="#641a80"/><circle cx="513.4" cy="291.6" r="1.4" fill="#e85963"/><circle cx="533.8" cy="275.5" r="1.4" fill="#e35166"/><circle cx="529.5" cy="232.7" r="1.4" fill="#000004"/><circle cx="525.6" cy="268.8" r="1.4" fill="#691c80"/><circle cx="552.0" cy="230.2" r="1.4" fill="#000004"/><circle cx="563.6" cy="225.1" r="1.4" fill="#000004"/><circle cx="545.8" cy="270.8" r="1.4" fill="#ed6061"/><circle cx="527.2" cy="277.4" r="1.4" fill="#d3446d"/><circle cx="533.3" cy="272.4" r="1.4" fill="#fc9469"/><circle cx="517.8" cy="276.8" r="1.4" fill="#e25066"/><circle cx="532.9" cy="271.1" r="1.4" fill="#8c2981"/><circle cx="535.7" cy="284.7" r="1.4" fill="#fd9b6b"/><circle cx="533.8" cy="276.4" r="1.4" fill="#9d2f7e"/><circle cx="558.0" cy="276.5" r="1.4" fill="#cf426e"/><circle cx="531.6" cy="225.1" r="1.4" fill="#000004"/><circle cx="555.2" cy="270.1" r="1.4" fill="#f7705c"/><circle cx="533.3" cy="239.2" r="1.4" fill="#2f0f5e"/><circle cx="536.5" cy="270.5" r="1.4" fill="#fc9469"/><circle cx="525.8" cy="254.2" r="1.4" fill="#3b0f70"/><circle cx="521.9" cy="273.2" r="1.4" fill="#a3307d"/><circle cx="550.6" cy="279.3" r="1.4" fill="#fdefb1"/><circle cx="527.1" cy="275.6" r="1.4" fill="#cb4070"/><circle cx="523.9" cy="279.3" r="1.4" fill="#feb67f"/><circle cx="525.6" cy="227.3" r="1.4" fill="#000004"/><circle cx="512.4" cy="223.3" r="1.4" fill="#000004"/><circle cx="537.0" cy="284.4" r="1.4" fill="#fea26f"/><circle cx="535.9" cy="266.8" r="1.4" fill="#ef6460"/><circle cx="544.4" cy="227.2" r="1.4" fill="#2b0f58"/><circle cx="530.4" cy="270.8" r="1.4" fill="#a8327c"/><circle cx="552.8" cy="290.3" r="1.4" fill="#fa8564"/><circle cx="526.8" cy="274.1" r="1.4" fill="#fa8262"/><circle cx="524.8" cy="223.0" r="1.4" fill="#000004"/><circle cx="570.5" cy="291.6" r="1.4" fill="#fdefb1"/><circle cx="541.5" cy="269.8" r="1.4" fill="#fc9068"/><circle cx="530.8" cy="268.9" r="1.4" fill="#ea5c62"/><circle cx="562.5" cy="275.8" r="1.4" fill="#fec187"/><circle cx="559.1" cy="277.7" r="1.4" fill="#fdefb1"/><circle cx="579.7" cy="210.5" r="1.4" fill="#000004"/><circle cx="526.4" cy="239.2" r="1.4" fill="#000004"/><circle cx="521.9" cy="247.6" r="1.4" fill="#250e4f"/><circle cx="567.1" cy="274.7" r="1.4" fill="#feaa75"/><circle cx="531.5" cy="275.4" r="1.4" fill="#c93f71"/><circle cx="530.2" cy="271.9" r="1.4" fill="#fc8f67"/><circle cx="572.0" cy="214.9" r="1.4" fill="#2c0f5a"/><circle cx="554.1" cy="276.8" r="1.4" fill="#fdefb1"/><circle cx="527.6" cy="264.8" r="1.4" fill="#f97a60"/><circle cx="542.7" cy="262.3" r="1.4" fill="#fea06e"/><circle cx="516.6" cy="281.9" r="1.4" fill="#8f2a80"/><circle cx="530.9" cy="263.2" r="1.4" fill="#290f56"/><circle cx="572.5" cy="241.8" r="1.4" fill="#000004"/><circle cx="524.6" cy="278.5" r="1.4" fill="#ab337b"/><circle cx="568.7" cy="230.2" r="1.4" fill="#000004"/><circle cx="529.5" cy="232.8" r="1.4" fill="#000004"/><circle cx="546.3" cy="271.3" r="1.4" fill="#d6466b"/><circle cx="531.7" cy="277.1" r="1.4" fill="#bd3a76"/><circle cx="511.4" cy="276.7" r="1.4" fill="#862781"/><circle cx="574.1" cy="221.3" r="1.4" fill="#000004"/><circle cx="537.6" cy="274.4" r="1.4" fill="#feb47d"/><circle cx="529.1" cy="247.0" r="1.4" fill="#431173"/><circle cx="516.0" cy="291.6" r="1.4" fill="#feb67f"/><circle cx="533.8" cy="264.5" r="1.4" fill="#310f61"/><circle cx="577.6" cy="211.0" r="1.4" fill="#000004"/><circle cx="546.9" cy="226.4" r="1.4" fill="#000004"/><circle cx="564.0" cy="239.2" r="1.4" fill="#000004"/><circle cx="549.5" cy="266.8" r="1.4" fill="#fc9469"/><circle cx="532.6" cy="270.4" r="1.4" fill="#c13c75"/><circle cx="535.4" cy="227.7" r="1.4" fill="#000004"/><circle cx="528.0" cy="277.1" r="1.4" fill="#992d7f"/><circle cx="571.2" cy="223.8" r="1.4" fill="#000004"/><circle cx="531.2" cy="273.9" r="1.4" fill="#d9476a"/><circle cx="552.8" cy="284.4" r="1.4" fill="#fdefb1"/><circle cx="518.0" cy="273.5" r="1.4" fill="#d5456c"/><circle cx="537.9" cy="270.1" r="1.4" fill="#a9327c"/><circle cx="523.9" cy="226.9" r="1.4" fill="#240e4d"/><circle cx="547.6" cy="266.5" r="1.4" fill="#631a7f"/><circle cx="528.1" cy="279.8" r="1.4" fill="#f66e5d"/><circle cx="550.8" cy="229.0" r="1.4" fill="#000004"/><circle cx="565.5" cy="261.0" r="1.4" fill="#a7327c"/><circle cx="537.4" cy="285.4" r="1.4" fill="#fec98d"/><circle cx="539.6" cy="271.2" r="1.4" fill="#f56d5d"/><circle cx="537.6" cy="270.6" r="1.4" fill="#e95a63"/><circle cx="559.7" cy="228.5" r="1.4" fill="#000004"/><circle cx="532.8" cy="239.2" r="1.4" fill="#000004"/><circle cx="516.3" cy="271.1" r="1.4" fill="#270e52"/><circle cx="542.5" cy="259.0" r="1.4" fill="#f2685e"/><circle cx="530.3" cy="237.9" r="1.4" fill="#000004"/><circle cx="584.6" cy="228.5" r="1.4" fill="#000004"/><circle cx="525.1" cy="272.6" r="1.4" fill="#ad347b"/><circle cx="537.8" cy="268.8" r="1.4" fill="#ec5f61"/><circle cx="514.0" cy="298.2" r="1.4" fill="#db4869"/><circle cx="539.1" cy="273.6" r="1.4" fill="#fb8e67"/><circle cx="527.9" cy="277.4" r="1.4" fill="#cc4170"/><circle cx="550.8" cy="277.8" r="1.4" fill="#feaf7a"/><circle cx="564.3" cy="237.9" r="1.4" fill="#8c2981"/><circle cx="527.3" cy="281.4" r="1.4" fill="#892881"/><circle cx="517.2" cy="278.2" r="1.4" fill="#fd966a"/><circle cx="565.9" cy="268.6" r="1.4" fill="#ea5c62"/><circle cx="524.7" cy="279.7" r="1.4" fill="#822581"/><circle cx="526.7" cy="278.6" r="1.4" fill="#431173"/><circle cx="566.6" cy="270.0" r="1.4" fill="#feac77"/><circle cx="552.5" cy="273.4" r="1.4" fill="#fde8ab"/><circle cx="538.3" cy="271.1" r="1.4" fill="#fb8e67"/><circle cx="515.3" cy="296.2" r="1.4" fill="#ce426f"/><circle cx="534.1" cy="240.5" r="1.4" fill="#2a0f57"/><circle cx="523.9" cy="251.6" r="1.4" fill="#3b0f70"/><circle cx="530.3" cy="275.3" r="1.4" fill="#fea874"/><circle cx="538.4" cy="270.7" r="1.4" fill="#cc4170"/><circle cx="522.6" cy="250.7" r="1.4" fill="#0a071d"/><circle cx="564.7" cy="269.3" r="1.4" fill="#c83f71"/><circle cx="540.0" cy="267.9" r="1.4" fill="#691c80"/><circle cx="535.2" cy="282.7" r="1.4" fill="#bb3977"/><circle cx="523.0" cy="284.7" r="1.4" fill="#da476a"/><circle cx="534.4" cy="269.6" r="1.4" fill="#681b80"/><circle cx="550.5" cy="272.8" r="1.4" fill="#fea571"/><circle cx="527.5" cy="276.8" r="1.4" fill="#f8795f"/><circle cx="562.6" cy="267.3" r="1.4" fill="#fdefb1"/><circle cx="534.7" cy="276.7" r="1.4" fill="#febc83"/><circle cx="561.1" cy="276.6" r="1.4" fill="#d9476a"/><circle cx="524.2" cy="277.7" r="1.4" fill="#e25066"/><circle cx="558.4" cy="276.2" r="1.4" fill="#fed093"/><circle cx="534.6" cy="270.4" r="1.4" fill="#eb5e62"/><circle cx="559.0" cy="261.4" r="1.4" fill="#feb37d"/><circle cx="528.3" cy="295.3" r="1.4" fill="#fd996b"/><circle cx="529.7" cy="272.4" r="1.4" fill="#be3a76"/><circle cx="569.4" cy="275.9" r="1.4" fill="#f97b60"/><circle cx="538.1" cy="267.9" r="1.4" fill="#852681"/><circle cx="552.0" cy="232.8" r="1.4" fill="#2a0f57"/><circle cx="559.6" cy="283.4" r="1.4" fill="#fdefb1"/><circle cx="528.5" cy="230.2" r="1.4" fill="#000004"/><circle cx="527.5" cy="284.1" r="1.4" fill="#feb67e"/><circle cx="523.9" cy="242.7" r="1.4" fill="#000004"/><circle cx="528.3" cy="283.5" r="1.4" fill="#982d7f"/><circle cx="562.0" cy="273.2" r="1.4" fill="#fdefb1"/><circle cx="527.6" cy="284.8" r="1.4" fill="#e04c67"/><circle cx="518.2" cy="284.6" r="1.4" fill="#e55465"/><circle cx="546.0" cy="271.1" r="1.4" fill="#fdeeb0"/><circle cx="538.1" cy="267.9" r="1.4" fill="#f7725d"/><circle cx="527.1" cy="280.8" r="1.4" fill="#fa8162"/><circle cx="544.9" cy="284.4" r="1.4" fill="#fc9369"/><circle cx="546.1" cy="270.5" r="1.4" fill="#a7327c"/><circle cx="554.7" cy="276.4" r="1.4" fill="#d1436d"/><circle cx="509.8" cy="237.9" r="1.4" fill="#000004"/><circle cx="540.3" cy="270.6" r="1.4" fill="#e35166"/><circle cx="564.8" cy="216.2" r="1.4" fill="#350f67"/><circle cx="526.0" cy="274.6" r="1.4" fill="#6e1e80"/><circle cx="559.3" cy="265.4" r="1.4" fill="#9c2e7e"/><circle cx="557.2" cy="273.4" r="1.4" fill="#fed497"/><circle cx="558.5" cy="277.7" r="1.4" fill="#feb37d"/><circle cx="565.4" cy="241.8" r="1.4" fill="#3d0f71"/><circle cx="535.0" cy="295.6" r="1.4" fill="#feb27b"/><circle cx="528.8" cy="270.2" r="1.4" fill="#de4a68"/><circle cx="550.1" cy="271.3" r="1.4" fill="#fdefb1"/><circle cx="528.1" cy="270.9" r="1.4" fill="#812581"/><circle cx="575.1" cy="221.3" r="1.4" fill="#000004"/><circle cx="567.9" cy="283.1" r="1.4" fill="#fdefb1"/><circle cx="529.1" cy="254.9" r="1.4" fill="#0a071d"/><circle cx="529.1" cy="276.1" r="1.4" fill="#d5456c"/><circle cx="514.9" cy="237.9" r="1.4" fill="#2c0f5a"/><circle cx="523.2" cy="247.0" r="1.4" fill="#000004"/><circle cx="551.9" cy="275.9" r="1.4" fill="#e65664"/><circle cx="542.6" cy="262.2" r="1.4" fill="#a9327c"/><circle cx="539.6" cy="272.1" r="1.4" fill="#b4367a"/><circle cx="525.2" cy="245.7" r="1.4" fill="#000004"/><circle cx="523.1" cy="279.5" r="1.4" fill="#bb3977"/><circle cx="520.6" cy="295.6" r="1.4" fill="#dc4869"/><circle cx="540.3" cy="278.4" r="1.4" fill="#862781"/><circle cx="536.4" cy="273.0" r="1.4" fill="#cb4070"/><circle cx="538.2" cy="264.2" r="1.4" fill="#ee6160"/><circle cx="548.8" cy="275.2" r="1.4" fill="#feaa76"/><circle cx="554.7" cy="268.7" r="1.4" fill="#e55564"/><circle cx="530.8" cy="289.9" r="1.4" fill="#feba82"/><circle cx="532.4" cy="275.9" r="1.4" fill="#f8745d"/><circle cx="537.5" cy="287.2" r="1.4" fill="#fdefb1"/><circle cx="553.3" cy="221.8" r="1.4" fill="#300f5f"/><circle cx="576.4" cy="226.4" r="1.4" fill="#000004"/><circle cx="550.8" cy="268.6" r="1.4" fill="#feb07a"/><circle cx="554.7" cy="280.5" r="1.4" fill="#fdefb1"/><circle cx="554.6" cy="243.0" r="1.4" fill="#000004"/><circle cx="566.1" cy="228.5" r="1.4" fill="#000004"/><circle cx="562.6" cy="285.7" r="1.4" fill="#fdefb1"/><circle cx="529.2" cy="271.0" r="1.4" fill="#8e2a81"/><circle cx="517.9" cy="293.0" r="1.4" fill="#d1436e"/><circle cx="532.3" cy="273.4" r="1.4" fill="#fea370"/><circle cx="522.0" cy="273.4" r="1.4" fill="#d2436d"/><circle cx="544.9" cy="270.8" r="1.4" fill="#fc9067"/><circle cx="519.3" cy="230.7" r="1.4" fill="#000004"/><circle cx="536.4" cy="278.1" r="1.4" fill="#f87a5f"/><circle cx="521.0" cy="277.9" r="1.4" fill="#af347b"/><circle cx="518.2" cy="226.9" r="1.4" fill="#000004"/><circle cx="528.3" cy="285.2" r="1.4" fill="#fc8f67"/><circle cx="538.1" cy="272.3" r="1.4" fill="#bd3a76"/><circle cx="521.2" cy="266.0" r="1.4" fill="#de4a68"/><circle cx="531.7" cy="266.2" r="1.4" fill="#250e50"/><circle cx="568.7" cy="226.4" r="1.4" fill="#421173"/><circle cx="543.5" cy="277.9" r="1.4" fill="#e85963"/><circle cx="527.1" cy="271.2" r="1.4" fill="#742080"/><circle cx="545.1" cy="276.2" r="1.4" fill="#f06460"/><circle cx="529.4" cy="265.7" r="1.4" fill="#c23c74"/><circle cx="560.1" cy="268.2" r="1.4" fill="#bf3b76"/><circle cx="532.4" cy="255.5" r="1.4" fill="#000004"/><circle cx="550.3" cy="231.5" r="1.4" fill="#3f1072"/><circle cx="527.8" cy="281.1" r="1.4" fill="#e24f66"/><circle cx="581.5" cy="225.9" r="1.4" fill="#000004"/><circle cx="567.4" cy="222.6" r="1.4" fill="#000004"/><circle cx="523.9" cy="246.9" r="1.4" fill="#000004"/><circle cx="526.9" cy="281.8" r="1.4" fill="#fde2a5"/><circle cx="540.4" cy="271.3" r="1.4" fill="#f46b5d"/><circle cx="540.5" cy="229.0" r="1.4" fill="#2f0f5e"/><circle cx="573.8" cy="234.1" r="1.4" fill="#000004"/><circle cx="526.4" cy="275.8" r="1.4" fill="#ee6260"/><circle cx="526.7" cy="274.9" r="1.4" fill="#cf426e"/><circle cx="538.5" cy="281.6" r="1.4" fill="#ce426f"/><circle cx="565.7" cy="228.1" r="1.4" fill="#000004"/><circle cx="563.6" cy="243.0" r="1.4" fill="#000004"/><circle cx="533.4" cy="260.0" r="1.4" fill="#140e36"/><circle cx="540.9" cy="288.3" r="1.4" fill="#fddea1"/><circle cx="527.2" cy="274.2" r="1.4" fill="#872781"/><circle cx="541.8" cy="244.3" r="1.4" fill="#000004"/><circle cx="531.4" cy="271.8" r="1.4" fill="#d3446d"/><circle cx="544.9" cy="281.3" r="1.4" fill="#fea672"/><circle cx="543.2" cy="277.3" r="1.4" fill="#ee6260"/><circle cx="564.6" cy="289.7" r="1.4" fill="#fdefb1"/><circle cx="567.4" cy="243.8" r="1.4" fill="#000004"/><circle cx="522.9" cy="284.7" r="1.4" fill="#db4869"/><circle cx="550.8" cy="234.6" r="1.4" fill="#000004"/><circle cx="524.8" cy="245.2" r="1.4" fill="#000004"/><circle cx="523.9" cy="282.2" r="1.4" fill="#f7705c"/><circle cx="569.5" cy="221.3" r="1.4" fill="#de4968"/><circle cx="540.2" cy="265.9" r="1.4" fill="#bf3b76"/><circle cx="531.8" cy="260.1" r="1.4" fill="#140e36"/><circle cx="525.5" cy="280.5" r="1.4" fill="#feaf7a"/><circle cx="531.2" cy="277.7" r="1.4" fill="#5a177c"/><circle cx="522.9" cy="275.7" r="1.4" fill="#e95a63"/><circle cx="522.0" cy="283.9" r="1.4" fill="#ec5e61"/><circle cx="525.1" cy="279.8" r="1.4" fill="#c03b75"/><circle cx="538.3" cy="251.6" r="1.4" fill="#501478"/><circle cx="566.9" cy="236.6" r="1.4" fill="#000004"/><circle cx="530.5" cy="275.2" r="1.4" fill="#e24f66"/><circle cx="559.3" cy="270.6" r="1.4" fill="#fdefb1"/><circle cx="566.1" cy="220.0" r="1.4" fill="#000004"/><circle cx="534.2" cy="275.2" r="1.4" fill="#feb780"/><circle cx="536.2" cy="214.1" r="1.4" fill="#000004"/><circle cx="521.9" cy="284.9" r="1.4" fill="#f8795f"/><circle cx="521.4" cy="282.1" r="1.4" fill="#932b80"/><circle cx="525.6" cy="282.4" r="1.4" fill="#f1675f"/><circle cx="538.2" cy="273.4" r="1.4" fill="#f87a60"/><circle cx="530.2" cy="281.2" r="1.4" fill="#f1665f"/><circle cx="532.8" cy="226.9" r="1.4" fill="#3f1071"/><circle cx="535.3" cy="268.1" r="1.4" fill="#c33d74"/><circle cx="547.3" cy="273.2" r="1.4" fill="#f97f61"/><circle cx="512.3" cy="285.1" r="1.4" fill="#f7725d"/><circle cx="512.7" cy="295.6" r="1.4" fill="#cd416f"/><circle cx="570.5" cy="219.2" r="1.4" fill="#310f62"/><circle cx="564.6" cy="271.9" r="1.4" fill="#f36a5e"/><circle cx="527.8" cy="267.0" r="1.4" fill="#a6317c"/><circle cx="540.7" cy="272.5" r="1.4" fill="#f8745d"/><circle cx="554.1" cy="268.0" r="1.4" fill="#db4869"/><circle cx="522.2" cy="276.2" r="1.4" fill="#4e1478"/><circle cx="530.5" cy="277.8" r="1.4" fill="#dd4968"/><circle cx="570.9" cy="244.4" r="1.4" fill="#320f62"/><circle cx="546.0" cy="263.4" r="1.4" fill="#f0655f"/><circle cx="563.2" cy="224.7" r="1.4" fill="#481275"/><circle cx="525.9" cy="276.3" r="1.4" fill="#5d187d"/><circle cx="537.1" cy="270.0" r="1.4" fill="#fa8764"/><circle cx="540.7" cy="269.8" r="1.4" fill="#f2685e"/><circle cx="521.8" cy="218.7" r="1.4" fill="#000004"/><circle cx="545.9" cy="268.5" r="1.4" fill="#f8775e"/><circle cx="528.8" cy="279.6" r="1.4" fill="#f97d61"/><circle cx="565.7" cy="242.7" r="1.4" fill="#000004"/><circle cx="543.6" cy="267.4" r="1.4" fill="#f98062"/><circle cx="576.4" cy="207.2" r="1.4" fill="#2f0f5e"/><circle cx="527.8" cy="294.3" r="1.4" fill="#fea571"/><circle cx="539.2" cy="243.0" r="1.4" fill="#8c2981"/><circle cx="538.1" cy="278.1" r="1.4" fill="#fd976a"/><circle cx="532.6" cy="279.8" r="1.4" fill="#952c7f"/><circle cx="539.4" cy="275.2" r="1.4" fill="#b63779"/><circle cx="543.1" cy="227.7" r="1.4" fill="#000004"/><circle cx="540.1" cy="243.0" r="1.4" fill="#000004"/><circle cx="534.2" cy="277.1" r="1.4" fill="#f2685f"/><circle cx="560.7" cy="278.5" r="1.4" fill="#fdedaf"/><circle cx="550.6" cy="271.2" r="1.4" fill="#fdeaad"/><circle cx="563.9" cy="282.4" r="1.4" fill="#fdefb1"/><circle cx="521.9" cy="276.9" r="1.4" fill="#ec6061"/><circle cx="527.2" cy="285.1" r="1.4" fill="#b2367a"/><circle cx="522.7" cy="272.2" r="1.4" fill="#55167a"/><circle cx="563.3" cy="279.2" r="1.4" fill="#fdefb1"/><circle cx="540.5" cy="277.7" r="1.4" fill="#fb8c66"/><circle cx="530.7" cy="242.3" r="1.4" fill="#000004"/><circle cx="556.1" cy="260.8" r="1.4" fill="#9a2e7e"/><circle cx="552.1" cy="263.4" r="1.4" fill="#e04d67"/><circle cx="556.7" cy="261.7" r="1.4" fill="#8c2981"/><circle cx="565.3" cy="292.3" r="1.4" fill="#fddda0"/><circle cx="523.1" cy="220.0" r="1.4" fill="#000004"/><circle cx="503.9" cy="200.8" r="1.4" fill="#431173"/><circle cx="523.9" cy="226.4" r="1.4" fill="#3a0f6f"/><circle cx="530.4" cy="258.8" r="1.4" fill="#8c2981"/><circle cx="516.6" cy="275.6" r="1.4" fill="#902a80"/><circle cx="549.3" cy="277.6" r="1.4" fill="#fd9b6b"/><circle cx="548.5" cy="270.8" r="1.4" fill="#fea06e"/><circle cx="525.2" cy="241.8" r="1.4" fill="#de4968"/><circle cx="580.7" cy="209.8" r="1.4" fill="#000004"/><circle cx="563.6" cy="239.2" r="1.4" fill="#2c0f59"/><circle cx="530.5" cy="278.8" r="1.4" fill="#fc9268"/><circle cx="556.7" cy="269.3" r="1.4" fill="#fa8363"/><circle cx="518.8" cy="226.4" r="1.4" fill="#3b0f70"/><circle cx="532.8" cy="272.0" r="1.4" fill="#dd4968"/><circle cx="576.4" cy="271.3" r="1.4" fill="#fdefb1"/><circle cx="526.4" cy="225.1" r="1.4" fill="#000004"/><circle cx="561.5" cy="271.0" r="1.4" fill="#b1357a"/><circle cx="537.6" cy="279.4" r="1.4" fill="#fa8764"/><circle cx="531.6" cy="232.0" r="1.4" fill="#8c2981"/><circle cx="524.9" cy="285.3" r="1.4" fill="#f1675f"/><circle cx="536.3" cy="280.6" r="1.4" fill="#f97f61"/><circle cx="543.6" cy="256.8" r="1.4" fill="#b93878"/><circle cx="521.1" cy="270.0" r="1.4" fill="#fb8d66"/><circle cx="534.3" cy="274.1" r="1.4" fill="#feaa76"/><circle cx="561.8" cy="226.4" r="1.4" fill="#000004"/><circle cx="563.6" cy="232.0" r="1.4" fill="#000004"/><circle cx="564.3" cy="226.9" r="1.4" fill="#491375"/><circle cx="522.7" cy="286.3" r="1.4" fill="#bb3977"/><circle cx="537.7" cy="260.8" r="1.4" fill="#8c2981"/><circle cx="524.7" cy="286.6" r="1.4" fill="#d0436e"/><circle cx="549.0" cy="223.8" r="1.4" fill="#000004"/><circle cx="540.1" cy="273.5" r="1.4" fill="#fb8865"/><circle cx="525.8" cy="271.6" r="1.4" fill="#922b80"/><circle cx="556.4" cy="260.3" r="1.4" fill="#fea571"/><circle cx="528.1" cy="267.6" r="1.4" fill="#932b80"/><circle cx="517.1" cy="279.9" r="1.4" fill="#be3a76"/><circle cx="555.4" cy="273.3" r="1.4" fill="#fea672"/><circle cx="513.4" cy="261.8" r="1.4" fill="#641a80"/><circle cx="532.6" cy="276.7" r="1.4" fill="#9d2e7e"/>
<text x="613.1" y="195" font-size="10.2" fill="#111">Fraction of cells</text>
<text x="613.1" y="206" font-size="10.2" fill="#111">Terminally Exh.</text>
<text x="613.1" y="216.9" font-size="10.2" fill="#111">on day 14</text>
<circle cx="638" cy="228.0" r="1.5" fill="#000004"/>
<text x="656.4" y="231.6" font-size="10" fill="#111">0.0</text>
<circle cx="638" cy="242.5" r="1.5" fill="#3b0f70"/>
<text x="656.4" y="246.1" font-size="10" fill="#111">0.2</text>
<circle cx="638" cy="257.0" r="1.5" fill="#8c2981"/>
<text x="656.4" y="260.6" font-size="10" fill="#111">0.4</text>
<circle cx="638" cy="271.5" r="1.5" fill="#de4968"/>
<text x="656.4" y="275.1" font-size="10" fill="#111">0.6</text>
<circle cx="638" cy="286.0" r="1.5" fill="#fe9f6d"/>
<text x="656.4" y="289.6" font-size="10" fill="#111">0.8</text>
<circle cx="638" cy="300.5" r="1.5" fill="#fcfdbf"/>
<text x="656.4" y="304.1" font-size="10" fill="#111">1.0</text>
<text x="305" y="365.3" font-size="14" font-weight="bold" fill="#000">e</text>
<text x="396" y="374" font-size="9.8" text-anchor="middle" fill="#ff8c00">Expansion</text>
<text x="598" y="373.9" font-size="9.9" text-anchor="middle" fill="#4169e1">Contraction</text>
<text x="391" y="431.8" font-size="9.9" text-anchor="middle" fill="#222">Precursor Exh. cells</text>
<text x="519.2" y="435.3" font-size="10" text-anchor="middle" fill="#222">Terminally Exh. cells</text>
<line x1="354.3" y1="397.9" x2="380.4" y2="416.2" stroke="#555" stroke-width="0.75"/>
<line x1="428" y1="394.2" x2="397.5" y2="413.3" stroke="#555" stroke-width="0.75"/>
<line x1="472.6" y1="398.4" x2="502.7" y2="417.9" stroke="#555" stroke-width="0.75"/>
<line x1="549.4" y1="406.1" x2="527.3" y2="418.9" stroke="#555" stroke-width="0.75"/>
<polygon points="378.0,393.1 402.8,393.1 402.8,389.2 412.0,396.9 402.8,404.5 402.8,400.7 378.0,400.7" fill="#a5a5a5"/>
<polygon points="582.1,392.0 607.0,392.0 607.0,387.9 616.2,395.8 607.0,403.7 607.0,399.6 582.1,399.6" fill="#a5a5a5"/>
<circle cx="342.7" cy="394.0" r="5.32" fill="#aac6e6"/><circle cx="351.8" cy="388.4" r="5.32" fill="#aac6e6"/><circle cx="351.5" cy="395.0" r="5.32" fill="#aac6e6"/><circle cx="359.9" cy="393.7" r="5.32" fill="#d4d4d4"/><circle cx="347.3" cy="403.1" r="5.32" fill="#aac6e6"/><circle cx="356.7" cy="402.8" r="5.32" fill="#aac6e6"/><circle cx="342.7" cy="394.0" r="3.80" fill="#4a80c0"/><circle cx="341.6" cy="392.7" r="1.33" fill="#6a9ad0" opacity="0.6"/><circle cx="351.8" cy="388.4" r="3.80" fill="#4a80c0"/><circle cx="350.7" cy="387.1" r="1.33" fill="#6a9ad0" opacity="0.6"/><circle cx="351.5" cy="395.0" r="3.80" fill="#4a80c0"/><circle cx="350.4" cy="393.7" r="1.33" fill="#6a9ad0" opacity="0.6"/><circle cx="359.9" cy="393.7" r="3.80" fill="#8c8c8c"/><circle cx="358.8" cy="392.4" r="1.33" fill="#a0a0a0" opacity="0.6"/><circle cx="347.3" cy="403.1" r="3.80" fill="#4a80c0"/><circle cx="346.2" cy="401.8" r="1.33" fill="#6a9ad0" opacity="0.6"/><circle cx="356.7" cy="402.8" r="3.80" fill="#4a80c0"/><circle cx="355.6" cy="401.5" r="1.33" fill="#6a9ad0" opacity="0.6"/>
<circle cx="443.2" cy="383.1" r="3.57" fill="#d4d4d4"/><circle cx="449.5" cy="383.1" r="3.57" fill="#d4d4d4"/><circle cx="453.7" cy="379.5" r="3.57" fill="#d4d4d4"/><circle cx="461.1" cy="381.0" r="3.57" fill="#d4d4d4"/><circle cx="466.9" cy="378.9" r="3.57" fill="#d4d4d4"/><circle cx="444.8" cy="388.9" r="3.57" fill="#d4d4d4"/><circle cx="450.0" cy="387.3" r="3.57" fill="#d4d4d4"/><circle cx="456.4" cy="388.4" r="3.57" fill="#d4d4d4"/><circle cx="462.7" cy="389.4" r="3.57" fill="#d4d4d4"/><circle cx="469.5" cy="386.3" r="3.57" fill="#d4d4d4"/><circle cx="443.2" cy="392.6" r="3.57" fill="#d4d4d4"/><circle cx="449.0" cy="392.1" r="3.57" fill="#d4d4d4"/><circle cx="454.8" cy="394.2" r="3.57" fill="#d4d4d4"/><circle cx="463.2" cy="394.7" r="3.57" fill="#d4d4d4"/><circle cx="469.5" cy="392.1" r="3.57" fill="#d4d4d4"/><circle cx="445.3" cy="397.8" r="3.57" fill="#d4d4d4"/><circle cx="452.2" cy="398.9" r="3.57" fill="#d4d4d4"/><circle cx="459.5" cy="399.4" r="3.57" fill="#d4d4d4"/><circle cx="465.8" cy="400.0" r="3.57" fill="#d4d4d4"/><circle cx="471.1" cy="398.4" r="3.57" fill="#d4d4d4"/><circle cx="443.2" cy="404.2" r="3.57" fill="#d4d4d4"/><circle cx="450.6" cy="406.3" r="3.57" fill="#d4d4d4"/><circle cx="456.9" cy="404.7" r="3.57" fill="#d4d4d4"/><circle cx="460.0" cy="408.9" r="3.57" fill="#d4d4d4"/><circle cx="465.8" cy="407.8" r="3.57" fill="#d4d4d4"/><circle cx="468.4" cy="404.2" r="3.57" fill="#d4d4d4"/><circle cx="462.1" cy="403.6" r="3.57" fill="#d4d4d4"/><circle cx="442.7" cy="406.8" r="3.57" fill="#d4d4d4"/><circle cx="458.5" cy="383.5" r="3.57" fill="#d4d4d4"/><circle cx="466.0" cy="384.0" r="3.57" fill="#d4d4d4"/><circle cx="436.9" cy="385.8" r="3.57" fill="#aac6e6"/><circle cx="431.1" cy="388.9" r="3.57" fill="#aac6e6"/><circle cx="437.4" cy="391.0" r="3.57" fill="#aac6e6"/><circle cx="427.5" cy="393.6" r="3.57" fill="#aac6e6"/><circle cx="433.8" cy="395.2" r="3.57" fill="#aac6e6"/><circle cx="438.5" cy="397.3" r="3.57" fill="#aac6e6"/><circle cx="427.5" cy="399.4" r="3.57" fill="#aac6e6"/><circle cx="433.2" cy="401.5" r="3.57" fill="#aac6e6"/><circle cx="438.0" cy="403.1" r="3.57" fill="#aac6e6"/><circle cx="443.2" cy="383.1" r="2.55" fill="#8c8c8c"/><circle cx="442.4" cy="382.2" r="0.89" fill="#a0a0a0" opacity="0.6"/><circle cx="449.5" cy="383.1" r="2.55" fill="#8c8c8c"/><circle cx="448.7" cy="382.2" r="0.89" fill="#a0a0a0" opacity="0.6"/><circle cx="453.7" cy="379.5" r="2.55" fill="#8c8c8c"/><circle cx="452.9" cy="378.6" r="0.89" fill="#a0a0a0" opacity="0.6"/><circle cx="461.1" cy="381.0" r="2.55" fill="#8c8c8c"/><circle cx="460.3" cy="380.1" r="0.89" fill="#a0a0a0" opacity="0.6"/><circle cx="466.9" cy="378.9" r="2.55" fill="#8c8c8c"/><circle cx="466.1" cy="378.0" r="0.89" fill="#a0a0a0" opacity="0.6"/><circle cx="444.8" cy="388.9" r="2.55" fill="#8c8c8c"/><circle cx="444.0" cy="388.0" r="0.89" fill="#a0a0a0" opacity="0.6"/><circle cx="450.0" cy="387.3" r="2.55" fill="#8c8c8c"/><circle cx="449.2" cy="386.4" r="0.89" fill="#a0a0a0" opacity="0.6"/><circle cx="456.4" cy="388.4" r="2.55" fill="#8c8c8c"/><circle cx="455.6" cy="387.5" r="0.89" fill="#a0a0a0" opacity="0.6"/><circle cx="462.7" cy="389.4" r="2.55" fill="#8c8c8c"/><circle cx="461.9" cy="388.5" r="0.89" fill="#a0a0a0" opacity="0.6"/><circle cx="469.5" cy="386.3" r="2.55" fill="#8c8c8c"/><circle cx="468.7" cy="385.4" r="0.89" fill="#a0a0a0" opacity="0.6"/><circle cx="443.2" cy="392.6" r="2.55" fill="#8c8c8c"/><circle cx="442.4" cy="391.7" r="0.89" fill="#a0a0a0" opacity="0.6"/><circle cx="449.0" cy="392.1" r="2.55" fill="#8c8c8c"/><circle cx="448.2" cy="391.2" r="0.89" fill="#a0a0a0" opacity="0.6"/><circle cx="454.8" cy="394.2" r="2.55" fill="#8c8c8c"/><circle cx="454.0" cy="393.3" r="0.89" fill="#a0a0a0" opacity="0.6"/><circle cx="463.2" cy="394.7" r="2.55" fill="#8c8c8c"/><circle cx="462.4" cy="393.8" r="0.89" fill="#a0a0a0" opacity="0.6"/><circle cx="469.5" cy="392.1" r="2.55" fill="#8c8c8c"/><circle cx="468.7" cy="391.2" r="0.89" fill="#a0a0a0" opacity="0.6"/><circle cx="445.3" cy="397.8" r="2.55" fill="#8c8c8c"/><circle cx="444.5" cy="396.9" r="0.89" fill="#a0a0a0" opacity="0.6"/><circle cx="452.2" cy="398.9" r="2.55" fill="#8c8c8c"/><circle cx="451.4" cy="398.0" r="0.89" fill="#a0a0a0" opacity="0.6"/><circle cx="459.5" cy="399.4" r="2.55" fill="#8c8c8c"/><circle cx="458.7" cy="398.5" r="0.89" fill="#a0a0a0" opacity="0.6"/><circle cx="465.8" cy="400.0" r="2.55" fill="#8c8c8c"/><circle cx="465.0" cy="399.1" r="0.89" fill="#a0a0a0" opacity="0.6"/><circle cx="471.1" cy="398.4" r="2.55" fill="#8c8c8c"/><circle cx="470.3" cy="397.5" r="0.89" fill="#a0a0a0" opacity="0.6"/><circle cx="443.2" cy="404.2" r="2.55" fill="#8c8c8c"/><circle cx="442.4" cy="403.3" r="0.89" fill="#a0a0a0" opacity="0.6"/><circle cx="450.6" cy="406.3" r="2.55" fill="#8c8c8c"/><circle cx="449.8" cy="405.4" r="0.89" fill="#a0a0a0" opacity="0.6"/><circle cx="456.9" cy="404.7" r="2.55" fill="#8c8c8c"/><circle cx="456.1" cy="403.8" r="0.89" fill="#a0a0a0" opacity="0.6"/><circle cx="460.0" cy="408.9" r="2.55" fill="#8c8c8c"/><circle cx="459.2" cy="408.0" r="0.89" fill="#a0a0a0" opacity="0.6"/><circle cx="465.8" cy="407.8" r="2.55" fill="#8c8c8c"/><circle cx="465.0" cy="406.9" r="0.89" fill="#a0a0a0" opacity="0.6"/><circle cx="468.4" cy="404.2" r="2.55" fill="#8c8c8c"/><circle cx="467.6" cy="403.3" r="0.89" fill="#a0a0a0" opacity="0.6"/><circle cx="462.1" cy="403.6" r="2.55" fill="#8c8c8c"/><circle cx="461.3" cy="402.7" r="0.89" fill="#a0a0a0" opacity="0.6"/><circle cx="442.7" cy="406.8" r="2.55" fill="#8c8c8c"/><circle cx="441.9" cy="405.9" r="0.89" fill="#a0a0a0" opacity="0.6"/><circle cx="458.5" cy="383.5" r="2.55" fill="#8c8c8c"/><circle cx="457.7" cy="382.6" r="0.89" fill="#a0a0a0" opacity="0.6"/><circle cx="466.0" cy="384.0" r="2.55" fill="#8c8c8c"/><circle cx="465.2" cy="383.1" r="0.89" fill="#a0a0a0" opacity="0.6"/><circle cx="436.9" cy="385.8" r="2.55" fill="#4a80c0"/><circle cx="436.1" cy="384.9" r="0.89" fill="#6a9ad0" opacity="0.6"/><circle cx="431.1" cy="388.9" r="2.55" fill="#4a80c0"/><circle cx="430.3" cy="388.0" r="0.89" fill="#6a9ad0" opacity="0.6"/><circle cx="437.4" cy="391.0" r="2.55" fill="#4a80c0"/><circle cx="436.6" cy="390.1" r="0.89" fill="#6a9ad0" opacity="0.6"/><circle cx="427.5" cy="393.6" r="2.55" fill="#4a80c0"/><circle cx="426.7" cy="392.7" r="0.89" fill="#6a9ad0" opacity="0.6"/><circle cx="433.8" cy="395.2" r="2.55" fill="#4a80c0"/><circle cx="433.0" cy="394.3" r="0.89" fill="#6a9ad0" opacity="0.6"/><circle cx="438.5" cy="397.3" r="2.55" fill="#4a80c0"/><circle cx="437.7" cy="396.4" r="0.89" fill="#6a9ad0" opacity="0.6"/><circle cx="427.5" cy="399.4" r="2.55" fill="#4a80c0"/><circle cx="426.7" cy="398.5" r="0.89" fill="#6a9ad0" opacity="0.6"/><circle cx="433.2" cy="401.5" r="2.55" fill="#4a80c0"/><circle cx="432.4" cy="400.6" r="0.89" fill="#6a9ad0" opacity="0.6"/><circle cx="438.0" cy="403.1" r="2.55" fill="#4a80c0"/><circle cx="437.2" cy="402.2" r="0.89" fill="#6a9ad0" opacity="0.6"/>
<circle cx="546.6" cy="385.1" r="3.92" fill="#aac6e6"/><circle cx="542.5" cy="389.2" r="3.92" fill="#aac6e6"/><circle cx="539.7" cy="395.6" r="3.92" fill="#aac6e6"/><circle cx="546.6" cy="395.6" r="3.92" fill="#aac6e6"/><circle cx="540.9" cy="401.7" r="3.92" fill="#aac6e6"/><circle cx="546.6" cy="402.5" r="3.92" fill="#aac6e6"/><circle cx="552.2" cy="384.7" r="3.92" fill="#d4d4d4"/><circle cx="557.9" cy="386.7" r="3.92" fill="#d4d4d4"/><circle cx="549.4" cy="391.2" r="3.92" fill="#d4d4d4"/><circle cx="555.5" cy="392.4" r="3.92" fill="#d4d4d4"/><circle cx="563.2" cy="391.6" r="3.92" fill="#d4d4d4"/><circle cx="553.1" cy="397.2" r="3.92" fill="#d4d4d4"/><circle cx="559.5" cy="397.7" r="3.92" fill="#d4d4d4"/><circle cx="566.4" cy="398.9" r="3.92" fill="#d4d4d4"/><circle cx="551.8" cy="403.3" r="3.92" fill="#d4d4d4"/><circle cx="559.9" cy="402.9" r="3.92" fill="#d4d4d4"/><circle cx="546.6" cy="385.1" r="2.80" fill="#4a80c0"/><circle cx="545.8" cy="384.1" r="0.98" fill="#6a9ad0" opacity="0.6"/><circle cx="542.5" cy="389.2" r="2.80" fill="#4a80c0"/><circle cx="541.7" cy="388.2" r="0.98" fill="#6a9ad0" opacity="0.6"/><circle cx="539.7" cy="395.6" r="2.80" fill="#4a80c0"/><circle cx="538.9" cy="394.6" r="0.98" fill="#6a9ad0" opacity="0.6"/><circle cx="546.6" cy="395.6" r="2.80" fill="#4a80c0"/><circle cx="545.8" cy="394.6" r="0.98" fill="#6a9ad0" opacity="0.6"/><circle cx="540.9" cy="401.7" r="2.80" fill="#4a80c0"/><circle cx="540.1" cy="400.7" r="0.98" fill="#6a9ad0" opacity="0.6"/><circle cx="546.6" cy="402.5" r="2.80" fill="#4a80c0"/><circle cx="545.8" cy="401.5" r="0.98" fill="#6a9ad0" opacity="0.6"/><circle cx="552.2" cy="384.7" r="2.80" fill="#8c8c8c"/><circle cx="551.4" cy="383.7" r="0.98" fill="#a0a0a0" opacity="0.6"/><circle cx="557.9" cy="386.7" r="2.80" fill="#8c8c8c"/><circle cx="557.1" cy="385.7" r="0.98" fill="#a0a0a0" opacity="0.6"/><circle cx="549.4" cy="391.2" r="2.80" fill="#8c8c8c"/><circle cx="548.6" cy="390.2" r="0.98" fill="#a0a0a0" opacity="0.6"/><circle cx="555.5" cy="392.4" r="2.80" fill="#8c8c8c"/><circle cx="554.7" cy="391.4" r="0.98" fill="#a0a0a0" opacity="0.6"/><circle cx="563.2" cy="391.6" r="2.80" fill="#8c8c8c"/><circle cx="562.4" cy="390.6" r="0.98" fill="#a0a0a0" opacity="0.6"/><circle cx="553.1" cy="397.2" r="2.80" fill="#8c8c8c"/><circle cx="552.3" cy="396.2" r="0.98" fill="#a0a0a0" opacity="0.6"/><circle cx="559.5" cy="397.7" r="2.80" fill="#8c8c8c"/><circle cx="558.7" cy="396.7" r="0.98" fill="#a0a0a0" opacity="0.6"/><circle cx="566.4" cy="398.9" r="2.80" fill="#8c8c8c"/><circle cx="565.6" cy="397.9" r="0.98" fill="#a0a0a0" opacity="0.6"/><circle cx="551.8" cy="403.3" r="2.80" fill="#8c8c8c"/><circle cx="551.0" cy="402.3" r="0.98" fill="#a0a0a0" opacity="0.6"/><circle cx="559.9" cy="402.9" r="2.80" fill="#8c8c8c"/><circle cx="559.1" cy="401.9" r="0.98" fill="#a0a0a0" opacity="0.6"/>
<circle cx="640.6" cy="387.3" r="4.48" fill="#aac6e6"/><circle cx="635.1" cy="393.3" r="4.48" fill="#aac6e6"/><circle cx="642.1" cy="394.0" r="4.48" fill="#aac6e6"/><circle cx="634.3" cy="401.8" r="4.48" fill="#aac6e6"/><circle cx="641.8" cy="401.8" r="4.48" fill="#aac6e6"/><circle cx="647.3" cy="387.7" r="4.48" fill="#d4d4d4"/><circle cx="651.8" cy="393.6" r="4.48" fill="#d4d4d4"/><circle cx="648.8" cy="400.7" r="4.48" fill="#d4d4d4"/><circle cx="640.6" cy="387.3" r="3.20" fill="#4a80c0"/><circle cx="639.6" cy="386.2" r="1.12" fill="#6a9ad0" opacity="0.6"/><circle cx="635.1" cy="393.3" r="3.20" fill="#4a80c0"/><circle cx="634.1" cy="392.2" r="1.12" fill="#6a9ad0" opacity="0.6"/><circle cx="642.1" cy="394.0" r="3.20" fill="#4a80c0"/><circle cx="641.1" cy="392.9" r="1.12" fill="#6a9ad0" opacity="0.6"/><circle cx="634.3" cy="401.8" r="3.20" fill="#4a80c0"/><circle cx="633.3" cy="400.7" r="1.12" fill="#6a9ad0" opacity="0.6"/><circle cx="641.8" cy="401.8" r="3.20" fill="#4a80c0"/><circle cx="640.8" cy="400.7" r="1.12" fill="#6a9ad0" opacity="0.6"/><circle cx="647.3" cy="387.7" r="3.20" fill="#8c8c8c"/><circle cx="646.3" cy="386.6" r="1.12" fill="#a0a0a0" opacity="0.6"/><circle cx="651.8" cy="393.6" r="3.20" fill="#8c8c8c"/><circle cx="650.8" cy="392.5" r="1.12" fill="#a0a0a0" opacity="0.6"/><circle cx="648.8" cy="400.7" r="3.20" fill="#8c8c8c"/><circle cx="647.8" cy="399.6" r="1.12" fill="#a0a0a0" opacity="0.6"/>
</svg></body></html>
